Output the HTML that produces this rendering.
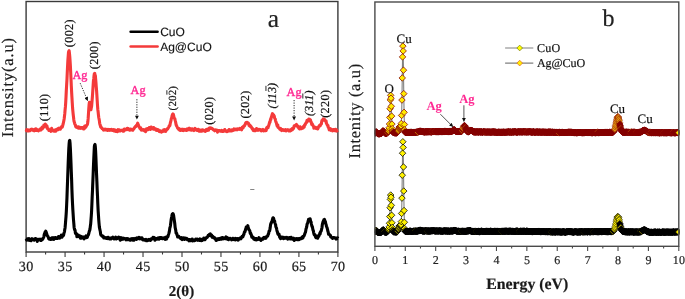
<!DOCTYPE html>
<html lang="en">
<head>
<meta charset="utf-8">
<title>XRD and EDS of CuO and Ag@CuO</title>
<style>
html,body{margin:0;padding:0;background:#ffffff;}
body{width:685px;height:299px;overflow:hidden;}
svg{display:block;will-change:transform;}
</style>
</head>
<body>
<svg width="685" height="299" viewBox="0 0 685 299" role="img" aria-label="XRD patterns and EDS spectra of CuO and Ag@CuO">
<style>text{text-rendering:geometricPrecision;stroke-width:0.2px;stroke-linejoin:round}.pk text{stroke-width:0.04px}.pk2 text{stroke-width:0.42px}.sans text{stroke-width:0.12px}</style>
<defs>
<path id="mk1" d="M0,-3.25 L3.25,0 L0,3.25 L-3.25,0 Z"/>
<marker id="ah" viewBox="0 0 10 10" refX="9" refY="5" markerWidth="5.8" markerHeight="3.9" markerUnits="userSpaceOnUse" orient="auto"><path d="M0,0 L10,5 L0,10 Z" fill="#111"/></marker>
<clipPath id="clipb"><rect x="374.9" y="2" width="304.4" height="244.3"/></clipPath>
</defs>
<g id="panel-a">
<rect x="26.1" y="1.5" width="311.8" height="250.5" fill="none" stroke="#3a3a3a" stroke-width="1.4"/>
<path d="M26.1,252 v5 M45.59,252 v2.4 M65.07,252 v5 M84.56,252 v2.4 M104.05,252 v5 M123.54,252 v2.4 M143.02,252 v5 M162.51,252 v2.4 M182,252 v5 M201.49,252 v2.4 M220.97,252 v5 M240.46,252 v2.4 M259.95,252 v5 M279.44,252 v2.4 M298.92,252 v5 M318.41,252 v2.4 M337.9,252 v5" stroke="#3a3a3a" stroke-width="1.1" fill="none"/>
<g font-family="'Liberation Serif','DejaVu Serif',serif" font-size="14.1" fill="#1a1a1a" stroke="#1a1a1a" text-anchor="middle" letter-spacing="0.4">
<text x="26.3" y="271.4">30</text>
<text x="65.27" y="271.4">35</text>
<text x="104.25" y="271.4">40</text>
<text x="143.22" y="271.4">45</text>
<text x="182.2" y="271.4">50</text>
<text x="221.17" y="271.4">55</text>
<text x="260.15" y="271.4">60</text>
<text x="299.12" y="271.4">65</text>
<text x="338.1" y="271.4">70</text>
</g>
<text x="181.5" y="296" font-family="'Liberation Serif','DejaVu Serif',serif" font-size="15" font-weight="bold" fill="#1a1a1a" stroke="#1a1a1a" text-anchor="middle">2(θ)</text>
<text transform="translate(13.4,87.2) rotate(-90)" font-family="'Liberation Serif','DejaVu Serif',serif" font-size="16.5" fill="#1a1a1a" stroke="#1a1a1a" text-anchor="middle" letter-spacing="0.85">Intensity(a.u)</text>
<polyline points="26.1,129.89 26.41,130.56 26.72,129.65 27.04,130.38 27.35,129.99 27.66,129.87 27.97,131.02 28.28,130.5 28.59,130.24 28.91,130.59 29.22,130.94 29.53,130.47 29.84,130.65 30.15,129.9 30.47,129.98 30.78,129.98 31.09,129.52 31.4,129.24 31.71,129.11 32.02,129.81 32.34,130.1 32.65,130.13 32.96,130.36 33.27,129.68 33.58,130.12 33.89,130.44 34.21,130.83 34.52,130.1 34.83,130.08 35.14,129.2 35.45,129.69 35.77,128.94 36.08,129.09 36.39,130.47 36.7,129.17 37.01,130.31 37.32,130.44 37.64,130.12 37.95,130.4 38.26,130.51 38.57,130.8 38.88,130.19 39.2,129.76 39.51,129.56 39.82,129.25 40.13,129.59 40.44,129.24 40.75,130.03 41.07,128.63 41.38,128.42 41.69,128.25 42,127.37 42.31,128.96 42.63,126.92 42.94,127.02 43.25,126.58 43.56,127.24 43.87,125.18 44.18,125.78 44.5,124.78 44.81,124.6 45.12,124.24 45.43,124.93 45.74,124.44 46.06,125.14 46.37,125.98 46.68,127.46 46.99,126.07 47.3,128.05 47.61,128.76 47.93,128.52 48.24,129.1 48.55,129.09 48.86,130.38 49.17,130.19 49.48,129.99 49.8,129.99 50.11,130.07 50.42,130.15 50.73,129.84 51.04,131.33 51.36,129.74 51.67,128.28 51.98,129.65 52.29,130.12 52.6,130.56 52.91,130.4 53.23,130.36 53.54,130.59 53.85,131 54.16,130.36 54.47,130.15 54.79,131.28 55.1,130.89 55.41,129.9 55.72,131.29 56.03,130.89 56.34,129.97 56.66,129.28 56.97,129.76 57.28,129.26 57.59,128.89 57.9,128.56 58.22,128.78 58.53,129.64 58.84,129.02 59.15,128.15 59.46,128.88 59.77,128.69 60.09,128.91 60.4,129.04 60.71,128.2 61.02,127.74 61.33,127.43 61.65,126.5 61.96,126.85 62.27,127.01 62.58,125.99 62.89,124.88 63.2,123.8 63.52,122.29 63.83,120.69 64.14,119.01 64.45,116.56 64.76,113.93 65.07,110.05 65.39,106.95 65.7,102.54 66.01,96.81 66.32,90.32 66.63,85.15 66.95,79.69 67.26,72.57 67.57,66.22 67.88,60.43 68.19,56.28 68.5,52.19 68.82,51.16 69.13,50.76 69.44,53.12 69.75,56.3 70.06,60.86 70.38,65.82 70.69,72.25 71,79 71.31,85.98 71.62,92.08 71.93,97.24 72.25,102.78 72.56,107.76 72.87,111.22 73.18,114.22 73.49,116.89 73.81,119.75 74.12,121.63 74.43,122.31 74.74,123.87 75.05,124.45 75.36,124.89 75.68,126.41 75.99,126.95 76.3,126.49 76.61,126.91 76.92,127.41 77.24,127.07 77.55,127.31 77.86,127.88 78.17,126.82 78.48,127.63 78.79,128.17 79.11,128.26 79.42,127.32 79.73,127.9 80.04,127.48 80.35,128.11 80.66,128.34 80.98,128.22 81.29,127.64 81.6,127.51 81.91,128.23 82.22,127.52 82.54,128 82.85,128.14 83.16,127.74 83.47,128.99 83.78,128.15 84.09,128.92 84.41,126.9 84.72,126.01 85.03,127.35 85.34,127.56 85.65,127.02 85.97,126.84 86.28,125.62 86.59,125.65 86.9,125.07 87.21,124.69 87.52,124.11 87.84,121.78 88.15,118.67 88.46,113.86 88.77,108.94 89.08,104.79 89.4,102.21 89.71,103.3 90.02,104.61 90.33,108.25 90.64,108.74 90.95,109.69 91.27,107.8 91.58,106.51 91.89,102.87 92.2,99.07 92.51,95.11 92.83,90.12 93.14,85.39 93.45,80.68 93.76,78.67 94.07,75.43 94.38,73.57 94.7,73.28 95.01,75.15 95.32,75.45 95.63,78.85 95.94,82.35 96.25,86.97 96.57,90.34 96.88,95.24 97.19,100.46 97.5,105.33 97.81,109.46 98.13,111.73 98.44,114.88 98.75,117.48 99.06,119.05 99.37,120.66 99.68,123.29 100,124.65 100.31,125.48 100.62,126.95 100.93,126.62 101.24,127.6 101.56,127.88 101.87,128.11 102.18,128.62 102.49,128.74 102.8,128.93 103.11,129.07 103.43,130.08 103.74,129.29 104.05,129.77 104.36,129.77 104.67,129.29 104.99,129.78 105.3,129.1 105.61,129.98 105.92,129.26 106.23,129.21 106.54,129.66 106.86,130.11 107.17,130.34 107.48,130.44 107.79,129.91 108.1,129.35 108.42,129.99 108.73,130.11 109.04,129.5 109.35,130.35 109.66,130.26 109.97,129.63 110.29,130.19 110.6,129.47 110.91,129.48 111.22,130.2 111.53,129.41 111.84,130.02 112.16,129.51 112.47,130.48 112.78,130.06 113.09,130.42 113.4,129.66 113.72,130.04 114.03,130.9 114.34,130.95 114.65,129.75 114.96,130.82 115.27,131.19 115.59,130.65 115.9,131.43 116.21,130.38 116.52,130.54 116.83,131.24 117.15,131.59 117.46,131.69 117.77,130.45 118.08,129.64 118.39,130.51 118.7,129.82 119.02,130.27 119.33,129.79 119.64,130.86 119.95,131.08 120.26,131 120.58,130.66 120.89,130.53 121.2,130.27 121.51,130.52 121.82,130.51 122.13,130.59 122.45,130.11 122.76,131.16 123.07,130.63 123.38,131.01 123.69,131.08 124.01,129.89 124.32,129.01 124.63,130.25 124.94,129.78 125.25,129.84 125.56,129.65 125.88,129.77 126.19,129.08 126.5,129.4 126.81,129.3 127.12,129.48 127.43,128.29 127.75,129.55 128.06,129.71 128.37,128.66 128.68,128.81 128.99,129.27 129.31,129.74 129.62,129.57 129.93,130.25 130.24,129.75 130.55,129.03 130.86,129 131.18,129.73 131.49,129.26 131.8,129.87 132.11,130.17 132.42,130.04 132.74,130.19 133.05,129.57 133.36,129.38 133.67,128.91 133.98,128.61 134.29,127.82 134.61,127.86 134.92,127.31 135.23,126.59 135.54,126.8 135.85,126.61 136.17,125.68 136.48,125.85 136.79,125.34 137.1,124.98 137.41,123.89 137.72,123.14 138.04,124.24 138.35,124.87 138.66,125.77 138.97,126.39 139.28,127.51 139.6,127.49 139.91,128.35 140.22,128.12 140.53,127.53 140.84,128.51 141.15,130.03 141.47,128.97 141.78,130.11 142.09,129.65 142.4,129.67 142.71,129.93 143.02,130.12 143.34,129.55 143.65,129.94 143.96,130.25 144.27,130.55 144.58,129.8 144.9,130.75 145.21,131.26 145.52,131.69 145.83,129.8 146.14,129.93 146.45,128.85 146.77,129.63 147.08,129.96 147.39,129.12 147.7,128.54 148.01,129.23 148.33,129.64 148.64,128.96 148.95,128.93 149.26,127.62 149.57,128.06 149.88,128.59 150.2,128.69 150.51,129.4 150.82,128.11 151.13,126.98 151.44,127.97 151.76,127.69 152.07,128.02 152.38,128.34 152.69,128.38 153,128.86 153.31,129.02 153.63,127.52 153.94,127.93 154.25,129.27 154.56,128.56 154.87,129.17 155.19,128.96 155.5,128.81 155.81,129.96 156.12,130.2 156.43,129.71 156.74,130.28 157.06,129.39 157.37,129.49 157.68,130.49 157.99,130.46 158.3,129.93 158.61,130.65 158.93,130.88 159.24,131.52 159.55,131.6 159.86,131 160.17,130.7 160.49,130.8 160.8,130.79 161.11,131.7 161.42,132.08 161.73,132.08 162.04,131.55 162.36,131.01 162.67,131.41 162.98,130.86 163.29,130.95 163.6,129.93 163.92,130.2 164.23,131.26 164.54,130.26 164.85,129.62 165.16,130.05 165.47,131.12 165.79,131.31 166.1,130.33 166.41,129.82 166.72,129.73 167.03,129.13 167.35,129.27 167.66,128.94 167.97,127.95 168.28,127.79 168.59,127.54 168.9,126.7 169.22,125.76 169.53,125.93 169.84,125.86 170.15,123.93 170.46,122.38 170.78,121.5 171.09,119.94 171.4,118.25 171.71,118.05 172.02,116 172.33,114.93 172.65,114.29 172.96,113.88 173.27,114.28 173.58,115.28 173.89,116.7 174.2,117.52 174.52,118.3 174.83,118.73 175.14,120.38 175.45,121.3 175.76,122.83 176.08,124.64 176.39,125.47 176.7,126.07 177.01,126.44 177.32,127.34 177.63,128.04 177.95,127.98 178.26,128.39 178.57,129.43 178.88,128.56 179.19,129.01 179.51,128.85 179.82,130.31 180.13,130.37 180.44,130.38 180.75,130.35 181.06,130.3 181.38,130.31 181.69,129.32 182,129.97 182.31,130.38 182.62,129.45 182.94,130.33 183.25,130.55 183.56,129.45 183.87,129.62 184.18,129.76 184.49,129.69 184.81,130.14 185.12,129.39 185.43,129.68 185.74,130 186.05,130.37 186.37,130.12 186.68,129.86 186.99,130.25 187.3,128.93 187.61,130.02 187.92,129.72 188.24,129.09 188.55,129.3 188.86,128.6 189.17,128.24 189.48,129.02 189.79,129.04 190.11,129.85 190.42,129.26 190.73,128.83 191.04,128.85 191.35,130.3 191.67,129.9 191.98,129.42 192.29,129.06 192.6,128.88 192.91,129.33 193.22,129.81 193.54,130.38 193.85,130.59 194.16,130.22 194.47,129.61 194.78,129.31 195.1,128.45 195.41,128.87 195.72,129.81 196.03,129.76 196.34,130.15 196.65,129.4 196.97,130.37 197.28,130.42 197.59,130.33 197.9,130.52 198.21,129.21 198.53,129.68 198.84,129.69 199.15,131.18 199.46,130.66 199.77,130.33 200.08,130.97 200.4,130.2 200.71,131.28 201.02,130.54 201.33,130.64 201.64,130.24 201.96,131.03 202.27,129.73 202.58,130.81 202.89,130.39 203.2,130.71 203.51,130.18 203.83,130.72 204.14,130.88 204.45,131.13 204.76,131.05 205.07,131.15 205.38,131.34 205.7,130.61 206.01,129.86 206.32,129.47 206.63,130.29 206.94,129.9 207.26,130.42 207.57,129.93 207.88,129.05 208.19,129.63 208.5,130.25 208.81,129.19 209.13,128.28 209.44,127.9 209.75,128.61 210.06,128.01 210.37,127.87 210.69,128.43 211,128.31 211.31,128.41 211.62,128.19 211.93,128.18 212.24,128.74 212.56,129.05 212.87,129.52 213.18,129.22 213.49,129.68 213.8,130.02 214.12,130.02 214.43,130.36 214.74,130.79 215.05,130.57 215.36,130.48 215.67,129.93 215.99,130.48 216.3,130.48 216.61,130.4 216.92,130.12 217.23,130.81 217.55,132.13 217.86,131.48 218.17,131.09 218.48,131.16 218.79,130.66 219.1,130.87 219.42,130.55 219.73,130.47 220.04,130.93 220.35,131.09 220.66,130.98 220.97,130.59 221.29,131.03 221.6,130.47 221.91,131.28 222.22,130.97 222.53,131.05 222.85,131.5 223.16,131.53 223.47,130.55 223.78,130.76 224.09,131.15 224.4,130.5 224.72,129.55 225.03,130.46 225.34,130.77 225.65,131.12 225.96,131.03 226.28,131 226.59,131.03 226.9,131.62 227.21,131.32 227.52,131.22 227.83,130.65 228.15,131.23 228.46,130.7 228.77,130.98 229.08,129.51 229.39,130.23 229.71,130.26 230.02,130.04 230.33,130.87 230.64,130.65 230.95,130.25 231.26,129.87 231.58,130.99 231.89,130.75 232.2,130.58 232.51,129.74 232.82,130.52 233.14,130.37 233.45,129.85 233.76,129.73 234.07,128.86 234.38,129.75 234.69,129.11 235.01,129.92 235.32,129.49 235.63,129.23 235.94,129.66 236.25,129.72 236.56,129.02 236.88,129.33 237.19,129.79 237.5,129.49 237.81,128.8 238.12,129.13 238.44,128.86 238.75,128.96 239.06,129.31 239.37,129.36 239.68,129.27 239.99,128.43 240.31,129.16 240.62,129.06 240.93,128.83 241.24,128.96 241.55,129.83 241.87,128.28 242.18,127.39 242.49,128.15 242.8,127.36 243.11,127.95 243.42,126.65 243.74,126.15 244.05,126.35 244.36,126.11 244.67,125.42 244.98,124.82 245.3,123.96 245.61,123.18 245.92,122.75 246.23,123.17 246.54,122.87 246.85,122.32 247.17,122.31 247.48,122.69 247.79,123.19 248.1,122.91 248.41,123.14 248.73,123.76 249.04,125.55 249.35,125.26 249.66,126.06 249.97,125.18 250.28,126.46 250.6,126.01 250.91,126.29 251.22,126.87 251.53,127.55 251.84,128.14 252.15,128.61 252.47,128.83 252.78,128.66 253.09,130.32 253.4,129.8 253.71,129.83 254.03,130.61 254.34,130.36 254.65,130.11 254.96,129.91 255.27,130.69 255.58,129.42 255.9,129.06 256.21,129.54 256.52,128.57 256.83,128.92 257.14,130.08 257.46,129.66 257.77,129.87 258.08,130.24 258.39,129.41 258.7,129.9 259.01,129.62 259.33,129.29 259.64,129.64 259.95,129.9 260.26,129.83 260.57,129.69 260.89,130.52 261.2,130.93 261.51,130.77 261.82,130.39 262.13,129.76 262.44,129.67 262.76,129.49 263.07,130.13 263.38,130.72 263.69,130.91 264,130.46 264.32,130.08 264.63,130.2 264.94,130.14 265.25,130.3 265.56,130.71 265.87,129.58 266.19,130.5 266.5,128.4 266.81,127.6 267.12,127.19 267.43,126.98 267.74,126.95 268.06,127.74 268.37,126.06 268.68,125.9 268.99,124.48 269.3,123.63 269.62,122.05 269.93,122.55 270.24,120.8 270.55,119.18 270.86,119.46 271.17,117.81 271.49,116.79 271.8,115.66 272.11,114.55 272.42,113.62 272.73,113.91 273.05,115.05 273.36,115.06 273.67,115.12 273.98,116.29 274.29,116.2 274.6,118.02 274.92,118.57 275.23,119 275.54,120.61 275.85,121.74 276.16,122.29 276.48,123.35 276.79,124.66 277.1,125.83 277.41,125.48 277.72,124.79 278.03,127.38 278.35,127.35 278.66,127.51 278.97,128.23 279.28,128.21 279.59,129.13 279.91,128.37 280.22,128.76 280.53,128.44 280.84,129.87 281.15,129.5 281.46,130.14 281.78,130.57 282.09,129.39 282.4,129.54 282.71,130.12 283.02,130 283.33,129.89 283.65,130.39 283.96,130.63 284.27,129.93 284.58,129.95 284.89,130.39 285.21,130.32 285.52,130.28 285.83,129.6 286.14,130.9 286.45,130.3 286.76,130.36 287.08,130.22 287.39,130.22 287.7,130.26 288.01,129.74 288.32,130.19 288.64,130.78 288.95,130.54 289.26,130.61 289.57,130.48 289.88,130.17 290.19,130.98 290.51,129.9 290.82,130.04 291.13,130.38 291.44,130.04 291.75,129.12 292.07,128.68 292.38,129.79 292.69,128.68 293,128.6 293.31,128.63 293.62,128.12 293.94,126.66 294.25,125.77 294.56,126.1 294.87,125.58 295.18,125.44 295.5,125.45 295.81,125.46 296.12,124.75 296.43,124.5 296.74,126.04 297.05,126.01 297.37,125.97 297.68,125.77 297.99,127.27 298.3,127.03 298.61,127.21 298.92,128.27 299.24,128.56 299.55,128.85 299.86,128 300.17,126.86 300.48,127.45 300.8,128 301.11,127.95 301.42,128.7 301.73,128.61 302.04,127.74 302.35,128.18 302.67,127.82 302.98,127.36 303.29,127.87 303.6,126.35 303.91,127.03 304.23,127.03 304.54,125.07 304.85,125.07 305.16,124.74 305.47,123.76 305.78,123.34 306.1,122.69 306.41,122.55 306.72,121.79 307.03,120.33 307.34,121.26 307.66,121.14 307.97,119.93 308.28,120.24 308.59,120.86 308.9,119.13 309.21,119.19 309.53,119.29 309.84,120.1 310.15,120.18 310.46,119.94 310.77,121.63 311.09,121.75 311.4,122.75 311.71,124.33 312.02,123.65 312.33,123.97 312.64,125.16 312.96,125.37 313.27,126.09 313.58,126.35 313.89,128.2 314.2,127.9 314.51,127.84 314.83,127.85 315.14,128.12 315.45,127.22 315.76,127.69 316.07,128.43 316.39,127.63 316.7,127.98 317.01,127.96 317.32,127.62 317.63,128.98 317.94,128.33 318.26,127.69 318.57,126.63 318.88,126.46 319.19,125.9 319.5,125.49 319.82,125.16 320.13,125.89 320.44,125.13 320.75,124.66 321.06,123.91 321.37,124.02 321.69,121.8 322,120.32 322.31,120.28 322.62,120.01 322.93,119.58 323.25,118.94 323.56,119.35 323.87,120.08 324.18,119.65 324.49,119.45 324.8,120.41 325.12,120.28 325.43,120.58 325.74,121.46 326.05,120.81 326.36,123.27 326.68,123.51 326.99,124.37 327.3,125 327.61,125.68 327.92,125.36 328.23,127.28 328.55,127.64 328.86,127.92 329.17,129.82 329.48,128.36 329.79,129.13 330.11,129.14 330.42,128.54 330.73,130.32 331.04,129.17 331.35,129.77 331.66,129.94 331.98,130.2 332.29,129.73 332.6,130.84 332.91,130.65 333.22,129.79 333.53,129.52 333.85,130.23 334.16,129.71 334.47,130.37 334.78,130.54 335.09,130.09 335.41,129.2 335.72,129.2 336.03,130.08 336.34,129.89 336.65,131.08 336.96,130.24 337.28,130.37 337.59,130.55 337.9,130.27" fill="none" stroke="#f43a3a" stroke-width="3.1" stroke-linejoin="round" stroke-linecap="butt"/>
<polyline points="26.1,238.91 26.41,239.52 26.72,240.05 27.04,239.42 27.35,238.75 27.66,239.18 27.97,239.61 28.28,240.09 28.59,239 28.91,238.57 29.22,239.49 29.53,239.68 29.84,240.31 30.15,240.23 30.47,239.62 30.78,239.31 31.09,240.73 31.4,239.7 31.71,239.07 32.02,238.67 32.34,239.2 32.65,239.42 32.96,239.24 33.27,239.34 33.58,239.57 33.89,239.89 34.21,240.23 34.52,239.89 34.83,238.71 35.14,239.65 35.45,238.86 35.77,239.27 36.08,238.73 36.39,239.35 36.7,239.16 37.01,239.58 37.32,241.42 37.64,240.27 37.95,240.36 38.26,239.24 38.57,239.41 38.88,239.98 39.2,239.78 39.51,239.95 39.82,239.86 40.13,239.22 40.44,239.83 40.75,239.28 41.07,240.49 41.38,239.59 41.69,239.84 42,239.45 42.31,239.66 42.63,238.66 42.94,238.84 43.25,237.86 43.56,237.7 43.87,236.61 44.18,235.2 44.5,233.41 44.81,232.88 45.12,231.99 45.43,232.07 45.74,231.16 46.06,231.83 46.37,232.73 46.68,233.68 46.99,234.69 47.3,235.66 47.61,236.09 47.93,236.4 48.24,237.11 48.55,238.06 48.86,238.99 49.17,239.09 49.48,239.18 49.8,239.08 50.11,238.99 50.42,238.67 50.73,238.85 51.04,239.43 51.36,238.49 51.67,237.94 51.98,239.15 52.29,238.63 52.6,238.81 52.91,238.8 53.23,237.7 53.54,239.2 53.85,239.36 54.16,238.53 54.47,238.53 54.79,238.17 55.1,237.49 55.41,237.64 55.72,237.93 56.03,238.41 56.34,238.33 56.66,237.94 56.97,238.47 57.28,237.49 57.59,237.95 57.9,238.25 58.22,237.57 58.53,236.48 58.84,236.54 59.15,237.12 59.46,237.42 59.77,238.01 60.09,236.78 60.4,236.81 60.71,237.08 61.02,236.64 61.33,235.19 61.65,236.25 61.96,237.27 62.27,236.74 62.58,235.3 62.89,234.79 63.2,234.61 63.52,235.32 63.83,233.99 64.14,232.51 64.45,231.79 64.76,229.39 65.07,227.97 65.39,224.05 65.7,220.22 66.01,216.39 66.32,211.69 66.63,205.29 66.95,197.94 67.26,188.84 67.57,180.52 67.88,171.83 68.19,163.17 68.5,155.63 68.82,148.37 69.13,143.72 69.44,140.75 69.75,140.43 70.06,143.28 70.38,148.6 70.69,155.83 71,163.34 71.31,171.94 71.62,180.06 71.93,189.87 72.25,198.1 72.56,204.4 72.87,210.14 73.18,214.82 73.49,219.74 73.81,223.49 74.12,227.45 74.43,229.03 74.74,229.98 75.05,230.15 75.36,232.83 75.68,233.55 75.99,233.18 76.3,234.3 76.61,233.96 76.92,236.77 77.24,236.65 77.55,236.47 77.86,236.15 78.17,235.1 78.48,235.93 78.79,235.55 79.11,236.67 79.42,235.68 79.73,236.07 80.04,237.42 80.35,238.18 80.66,236.99 80.98,236.43 81.29,237.58 81.6,238 81.91,237.2 82.22,237.09 82.54,237.08 82.85,236.82 83.16,237.01 83.47,238.1 83.78,238.17 84.09,238.91 84.41,237.99 84.72,237.61 85.03,236.97 85.34,237.15 85.65,236.5 85.97,235.94 86.28,236.98 86.59,237.62 86.9,237.38 87.21,237.4 87.52,236.63 87.84,235.6 88.15,235.37 88.46,234.66 88.77,233.53 89.08,232.2 89.4,231.03 89.71,230.37 90.02,228.88 90.33,226.33 90.64,224.34 90.95,220.37 91.27,216.08 91.58,211.25 91.89,204.25 92.2,196.48 92.51,190.11 92.83,181.74 93.14,174.47 93.45,166.2 93.76,159.01 94.07,152.63 94.38,146.43 94.7,144.91 95.01,144.5 95.32,146.78 95.63,151.53 95.94,158.55 96.25,166.33 96.57,174.56 96.88,181.39 97.19,189.47 97.5,196.03 97.81,203.73 98.13,210.45 98.44,215.16 98.75,219.92 99.06,223.67 99.37,227.07 99.68,228.59 100,230.15 100.31,231.53 100.62,233.98 100.93,234.96 101.24,235.03 101.56,235.55 101.87,235.92 102.18,236.31 102.49,236.4 102.8,236.51 103.11,236.19 103.43,236.53 103.74,237.98 104.05,237.99 104.36,237.82 104.67,237.69 104.99,237.86 105.3,238.13 105.61,237.74 105.92,238.11 106.23,238.3 106.54,237.87 106.86,237.73 107.17,237.59 107.48,237.53 107.79,238.57 108.1,237.2 108.42,237.85 108.73,237.9 109.04,237.92 109.35,238.31 109.66,238.99 109.97,238.66 110.29,238.42 110.6,238.08 110.91,238.21 111.22,238.8 111.53,238.29 111.84,237.7 112.16,237.42 112.47,237.39 112.78,237.22 113.09,238.48 113.4,238.51 113.72,238.19 114.03,238.98 114.34,238.11 114.65,238.55 114.96,238.71 115.27,237.51 115.59,237.08 115.9,237.27 116.21,238.32 116.52,238.9 116.83,237.75 117.15,238.58 117.46,238.11 117.77,237.95 118.08,237.82 118.39,237.91 118.7,237.16 119.02,237.35 119.33,237.31 119.64,238.25 119.95,239.45 120.26,240.25 120.58,238.9 120.89,237.72 121.2,238.04 121.51,237.89 121.82,239.44 122.13,239.25 122.45,238.52 122.76,239.18 123.07,239.23 123.38,238.12 123.69,238.34 124.01,238.61 124.32,238.87 124.63,239.04 124.94,238.88 125.25,239.13 125.56,238.82 125.88,238.63 126.19,239.85 126.5,239.68 126.81,239.68 127.12,238.6 127.43,239 127.75,239.68 128.06,238.8 128.37,239.77 128.68,239.32 128.99,239.59 129.31,239.4 129.62,239.52 129.93,240.09 130.24,239.43 130.55,240.25 130.86,239.27 131.18,238.84 131.49,239.56 131.8,238.85 132.11,238.97 132.42,239.68 132.74,240.08 133.05,238.61 133.36,239.3 133.67,240.27 133.98,240.22 134.29,239.42 134.61,238.93 134.92,238.89 135.23,238.39 135.54,238.66 135.85,238.76 136.17,238.77 136.48,239.43 136.79,238.84 137.1,237.9 137.41,238.84 137.72,237.94 138.04,237.88 138.35,237.94 138.66,237.77 138.97,237.3 139.28,237.5 139.6,238.86 139.91,237.85 140.22,237.8 140.53,238.54 140.84,238.69 141.15,238.86 141.47,239.09 141.78,237.77 142.09,238.02 142.4,238.74 142.71,239.29 143.02,240 143.34,239.88 143.65,239.53 143.96,239.62 144.27,239.56 144.58,239.83 144.9,240.19 145.21,239.8 145.52,239.44 145.83,239.31 146.14,240.33 146.45,240.8 146.77,240.82 147.08,240.76 147.39,240.74 147.7,240.28 148.01,240.47 148.33,239.61 148.64,239.75 148.95,239.49 149.26,240.15 149.57,239.64 149.88,239.67 150.2,239.89 150.51,240.41 150.82,239.36 151.13,238.81 151.44,239.46 151.76,238.54 152.07,238.93 152.38,238.4 152.69,238.35 153,237.36 153.31,238.27 153.63,237.87 153.94,237.49 154.25,238.94 154.56,238.75 154.87,240.22 155.19,239.13 155.5,238.4 155.81,238.45 156.12,239.33 156.43,238.81 156.74,238.93 157.06,239.04 157.37,238.34 157.68,238.67 157.99,238.46 158.3,237.99 158.61,238.96 158.93,239.18 159.24,238.93 159.55,238.31 159.86,237.49 160.17,238.53 160.49,238.56 160.8,237.72 161.11,238.28 161.42,237.68 161.73,238.26 162.04,238.54 162.36,238.74 162.67,238.73 162.98,238.68 163.29,237.95 163.6,238.09 163.92,238.05 164.23,238.16 164.54,238.45 164.85,238.7 165.16,239.3 165.47,237.21 165.79,238.01 166.1,237.89 166.41,239.07 166.72,238.62 167.03,236.9 167.35,237.16 167.66,236.45 167.97,236.61 168.28,235.06 168.59,234.41 168.9,233.4 169.22,232.15 169.53,230.39 169.84,227.89 170.15,226.92 170.46,225.45 170.78,222.9 171.09,220.05 171.4,218.35 171.71,216.8 172.02,215 172.33,214 172.65,214.39 172.96,213.61 173.27,214.48 173.58,215.21 173.89,217.45 174.2,219.65 174.52,221.75 174.83,224.03 175.14,227.47 175.45,228.79 175.76,230.34 176.08,233.01 176.39,233.47 176.7,233.35 177.01,234.94 177.32,235.16 177.63,236.92 177.95,236.22 178.26,236.51 178.57,236.2 178.88,237.11 179.19,236.92 179.51,237.43 179.82,237.5 180.13,237.46 180.44,238.32 180.75,238.67 181.06,238.36 181.38,237.78 181.69,237.52 182,238.19 182.31,239.61 182.62,238.61 182.94,238.13 183.25,238.05 183.56,237.85 183.87,237.88 184.18,238.35 184.49,239.43 184.81,239.08 185.12,238.73 185.43,238.06 185.74,238.84 186.05,239.03 186.37,238.49 186.68,238.42 186.99,238.99 187.3,239.79 187.61,239.9 187.92,239.75 188.24,239.45 188.55,239.72 188.86,239.67 189.17,240.85 189.48,239.52 189.79,239.48 190.11,240.37 190.42,239.88 190.73,240.63 191.04,240.12 191.35,240.06 191.67,239.77 191.98,239.14 192.29,239.14 192.6,240.86 192.91,240.62 193.22,240.51 193.54,240.66 193.85,240.48 194.16,240.66 194.47,240.03 194.78,239.82 195.1,240.38 195.41,239.85 195.72,239.12 196.03,239.45 196.34,239.37 196.65,239.95 196.97,239.42 197.28,239.03 197.59,239.27 197.9,240.35 198.21,239.85 198.53,239.77 198.84,239.64 199.15,239.73 199.46,240.08 199.77,240.44 200.08,238.92 200.4,239.99 200.71,239.61 201.02,239.3 201.33,240.63 201.64,239.71 201.96,240.51 202.27,240.25 202.58,239.07 202.89,239.46 203.2,239.71 203.51,239.31 203.83,237.96 204.14,238.52 204.45,238.75 204.76,238.28 205.07,239.62 205.38,238.89 205.7,238.44 206.01,238.2 206.32,237.7 206.63,237.35 206.94,237.49 207.26,237.43 207.57,236.73 207.88,236.45 208.19,235.39 208.5,235.79 208.81,235.01 209.13,235.04 209.44,234.29 209.75,234.14 210.06,234.44 210.37,233.83 210.69,235.7 211,235.18 211.31,235.2 211.62,235.09 211.93,236.57 212.24,237.24 212.56,237.15 212.87,236.47 213.18,236.92 213.49,237.87 213.8,237.78 214.12,237.53 214.43,237.56 214.74,237.9 215.05,238.51 215.36,238.42 215.67,238.79 215.99,240.43 216.3,240.47 216.61,238.98 216.92,239.19 217.23,239.12 217.55,238.96 217.86,239.52 218.17,238.95 218.48,238.74 218.79,238.62 219.1,238.7 219.42,239.45 219.73,239.41 220.04,238.24 220.35,238.29 220.66,238.1 220.97,238.88 221.29,238.82 221.6,239.14 221.91,238.73 222.22,237.58 222.53,238.43 222.85,238.6 223.16,238.81 223.47,237.9 223.78,238.33 224.09,238.06 224.4,237.97 224.72,238.5 225.03,238.7 225.34,238.1 225.65,237.47 225.96,236.85 226.28,237.66 226.59,238.87 226.9,238.68 227.21,237.45 227.52,237.78 227.83,238.61 228.15,239.59 228.46,239.68 228.77,239.3 229.08,239.1 229.39,238.38 229.71,238.47 230.02,238.57 230.33,238.4 230.64,238.8 230.95,238.74 231.26,239.11 231.58,239.85 231.89,239.75 232.2,239.55 232.51,239.14 232.82,238.32 233.14,238.79 233.45,239.32 233.76,238.67 234.07,239.66 234.38,239.15 234.69,239.35 235.01,239.04 235.32,238.42 235.63,239.98 235.94,238.78 236.25,239.46 236.56,238.9 236.88,239.12 237.19,238.6 237.5,238.6 237.81,239.29 238.12,240.05 238.44,238.78 238.75,238.76 239.06,239.21 239.37,238.46 239.68,238.86 239.99,238.12 240.31,238.52 240.62,238.47 240.93,238.74 241.24,238.24 241.55,237.05 241.87,237.43 242.18,236.37 242.49,236.72 242.8,236.93 243.11,236.15 243.42,234.85 243.74,234.89 244.05,233.87 244.36,232.24 244.67,231.61 244.98,231.79 245.3,230.38 245.61,229.58 245.92,228.56 246.23,227.05 246.54,226.81 246.85,226.95 247.17,226.81 247.48,226.58 247.79,225.61 248.1,227.36 248.41,228.09 248.73,228.99 249.04,229.99 249.35,229.98 249.66,230.47 249.97,231.72 250.28,233.46 250.6,232.82 250.91,233.88 251.22,234.46 251.53,235.77 251.84,237.09 252.15,236.95 252.47,236.68 252.78,237.52 253.09,237.85 253.4,237.46 253.71,238.77 254.03,238.59 254.34,239.27 254.65,238.52 254.96,239.6 255.27,238.67 255.58,239.71 255.9,238.57 256.21,239.89 256.52,239.43 256.83,238.63 257.14,239.06 257.46,239.51 257.77,238.94 258.08,239 258.39,239.41 258.7,239.29 259.01,237.68 259.33,238.5 259.64,239.21 259.95,239.36 260.26,239.76 260.57,238.96 260.89,240.37 261.2,239.89 261.51,239.42 261.82,239.62 262.13,239.58 262.44,239.06 262.76,238.44 263.07,239.05 263.38,238.89 263.69,237.53 264,237.41 264.32,238.14 264.63,238.11 264.94,238.1 265.25,238.18 265.56,237.81 265.87,238.3 266.19,237.13 266.5,236.61 266.81,236.57 267.12,236.49 267.43,236.14 267.74,236 268.06,234.45 268.37,234.28 268.68,233.27 268.99,231.47 269.3,230.63 269.62,230.78 269.93,229.34 270.24,227.33 270.55,224.75 270.86,223.88 271.17,222.77 271.49,222.02 271.8,222.26 272.11,220.92 272.42,219.77 272.73,218.43 273.05,217.74 273.36,218.13 273.67,218.42 273.98,220.86 274.29,220.49 274.6,220.97 274.92,222.87 275.23,223.81 275.54,224.3 275.85,226.68 276.16,227.49 276.48,228.03 276.79,229.85 277.1,231.26 277.41,231.94 277.72,233.3 278.03,234.33 278.35,234.22 278.66,233.92 278.97,233.95 279.28,235.44 279.59,236.91 279.91,237.49 280.22,238.04 280.53,238.6 280.84,237.91 281.15,238.29 281.46,237.1 281.78,237.92 282.09,238.08 282.4,237.9 282.71,237.67 283.02,237.24 283.33,237.78 283.65,238.58 283.96,237.99 284.27,238.27 284.58,237.74 284.89,238.05 285.21,237.49 285.52,238.04 285.83,237.92 286.14,238.18 286.45,237.78 286.76,237.35 287.08,237.67 287.39,238.52 287.7,239.13 288.01,238.34 288.32,238.68 288.64,238.8 288.95,238.67 289.26,237.61 289.57,238.26 289.88,237.83 290.19,238.85 290.51,239.03 290.82,239.03 291.13,237.37 291.44,238.51 291.75,238.98 292.07,238.11 292.38,239.04 292.69,238.92 293,238.77 293.31,238.46 293.62,238.21 293.94,238.46 294.25,240.46 294.56,239.64 294.87,239.38 295.18,238.84 295.5,238.69 295.81,238.69 296.12,238.52 296.43,239.41 296.74,239.12 297.05,239.63 297.37,238.72 297.68,239.52 297.99,239.28 298.3,239.55 298.61,239.22 298.92,238.66 299.24,239.56 299.55,238.96 299.86,238.87 300.17,238.39 300.48,238.75 300.8,238.49 301.11,238.67 301.42,238.67 301.73,237.99 302.04,237.22 302.35,237.77 302.67,238.02 302.98,237.74 303.29,236.37 303.6,236.49 303.91,236.03 304.23,235.37 304.54,234.71 304.85,233.51 305.16,232.75 305.47,232.18 305.78,230.46 306.1,228.57 306.41,227.8 306.72,226.84 307.03,224.55 307.34,223.54 307.66,223.07 307.97,221.78 308.28,220.84 308.59,219.3 308.9,219.59 309.21,220.01 309.53,219.15 309.84,218.81 310.15,218.88 310.46,220.56 310.77,221.41 311.09,221.99 311.4,224.09 311.71,225.42 312.02,226.65 312.33,226.65 312.64,228.33 312.96,230.06 313.27,230.37 313.58,232.27 313.89,233.78 314.2,234.6 314.51,234.39 314.83,234.7 315.14,236.01 315.45,236.76 315.76,237.35 316.07,237.69 316.39,237.22 316.7,236.95 317.01,236.09 317.32,237.17 317.63,238.27 317.94,237.05 318.26,236.43 318.57,236.57 318.88,236.16 319.19,234.71 319.5,234.11 319.82,233.18 320.13,233.95 320.44,232.09 320.75,231.56 321.06,231.18 321.37,230.21 321.69,228.77 322,227.52 322.31,224.7 322.62,223.41 322.93,222.03 323.25,221.18 323.56,221.99 323.87,219.7 324.18,220.03 324.49,219.31 324.8,220.77 325.12,221.76 325.43,221.76 325.74,223.87 326.05,224.33 326.36,225.97 326.68,226.83 326.99,227.48 327.3,228.57 327.61,229.83 327.92,231.33 328.23,232.2 328.55,234.25 328.86,234.07 329.17,234.28 329.48,234.58 329.79,234.96 330.11,234.99 330.42,235.46 330.73,236.82 331.04,237 331.35,237.06 331.66,237.47 331.98,238.08 332.29,238.13 332.6,238.31 332.91,237.71 333.22,237.72 333.53,237.5 333.85,237.83 334.16,237.61 334.47,237.81 334.78,238.03 335.09,238.12 335.41,238.17 335.72,238.1 336.03,239.08 336.34,238.57 336.65,238.07 336.96,238.57 337.28,238.09 337.59,237.96 337.9,238.56" fill="none" stroke="#000" stroke-width="3.1" stroke-linejoin="round" stroke-linecap="butt"/>
<path d="M130.6,31.8 H157.6" stroke="#000" stroke-width="2.5" stroke-linecap="round"/>
<path d="M130.6,46.4 H157.6" stroke="#f43a3a" stroke-width="2.5" stroke-linecap="round"/>
<g class="sans" font-family="'Liberation Sans','DejaVu Sans',sans-serif" font-size="12" fill="#111" stroke="#111">
<text x="160.2" y="36">CuO</text>
<text x="160.2" y="50.8">Ag@CuO</text>
</g>
<text x="267.8" y="26.7" font-family="'Liberation Serif','DejaVu Serif',serif" font-size="25.5" fill="#222" stroke="#222">a</text>
<g transform="translate(47.7,121.2) rotate(-90)">
<text x="0" y="0" font-family="'Liberation Serif','DejaVu Serif',serif" font-size="12.2" fill="#111" stroke="#111" letter-spacing="0.35">(110)</text>
</g>
<g transform="translate(72.7,47.2) rotate(-90)">
<text x="0" y="0" font-family="'Liberation Serif','DejaVu Serif',serif" font-size="12.2" fill="#111" stroke="#111" letter-spacing="0.35">(002)</text>
</g>
<g transform="translate(97.7,69.2) rotate(-90)">
<text x="0" y="0" font-family="'Liberation Serif','DejaVu Serif',serif" font-size="12.2" fill="#111" stroke="#111" letter-spacing="0.35">(200)</text>
</g>
<g transform="translate(175.6,110.4) rotate(-90)">
<text x="0" y="0" font-family="'Liberation Serif','DejaVu Serif',serif" font-size="10.9" fill="#111" stroke="#111" letter-spacing="0.2">(202)</text>
<path d="M15.73,-8.72 h4.45" stroke="#111" stroke-width="0.9"/>
</g>
<g transform="translate(213,124.7) rotate(-90)">
<text x="0" y="0" font-family="'Liberation Serif','DejaVu Serif',serif" font-size="12.2" fill="#111" stroke="#111" letter-spacing="0.35">(020)</text>
</g>
<g transform="translate(248.9,118.6) rotate(-90)">
<text x="0" y="0" font-family="'Liberation Serif','DejaVu Serif',serif" font-size="12.2" fill="#111" stroke="#111" letter-spacing="0.35">(202)</text>
</g>
<g transform="translate(275.7,108.4) rotate(-90)">
<text x="0" y="0" font-family="'Liberation Serif','DejaVu Serif',serif" font-size="12.2" font-style="italic" fill="#111" stroke="#111" letter-spacing="0">(113)</text>
<path d="M17.46,-9.76 h5.1" stroke="#111" stroke-width="0.9"/>
</g>
<g transform="translate(312.6,116) rotate(-90)">
<text x="0" y="0" font-family="'Liberation Serif','DejaVu Serif',serif" font-size="12.2" font-style="italic" fill="#111" stroke="#111" letter-spacing="0">(311)</text>
<path d="M17.46,-9.76 h5.1" stroke="#111" stroke-width="0.9"/>
</g>
<g transform="translate(328.6,117.8) rotate(-90)">
<text x="0" y="0" font-family="'Liberation Serif','DejaVu Serif',serif" font-size="12.2" fill="#111" stroke="#111" letter-spacing="0.35">(220)</text>
</g>
<g class="pk2" font-family="'Liberation Serif','DejaVu Serif',serif" font-size="12.2" fill="#ff2a93" stroke="#ff2a93">
<text x="72.4" y="79.2">Ag</text>
<text x="130.6" y="93.8">Ag</text>
<text x="286.6" y="96.0">Ag</text>
</g>
<g stroke="#111" stroke-width="0.9" fill="none" stroke-dasharray="1.2,1.3">
<path d="M80.2,83.2 L87.6,100.6" marker-end="url(#ah)"/>
<path d="M136.9,99.2 L136.9,119.2" marker-end="url(#ah)"/>
<path d="M294.1,100 L294.1,120" marker-end="url(#ah)"/>
</g>
<path d="M250.2,189.5 H254.4" stroke="#666" stroke-width="0.8"/>
</g>
<g id="panel-b">
<path d="M374.9,246.3 v4.6 M390.09,246.3 v2.2 M405.29,246.3 v4.6 M420.48,246.3 v2.2 M435.68,246.3 v4.6 M450.88,246.3 v2.2 M466.07,246.3 v4.6 M481.26,246.3 v2.2 M496.46,246.3 v4.6 M511.65,246.3 v2.2 M526.85,246.3 v4.6 M542.04,246.3 v2.2 M557.24,246.3 v4.6 M572.43,246.3 v2.2 M587.63,246.3 v4.6 M602.83,246.3 v2.2 M618.02,246.3 v4.6 M633.21,246.3 v2.2 M648.41,246.3 v4.6 M663.61,246.3 v2.2 M678.8,246.3 v4.6" stroke="#4a4a4a" stroke-width="1.1" fill="none"/>
<g font-family="'Liberation Serif','DejaVu Serif',serif" font-size="12" fill="#222" stroke="#222" text-anchor="middle" letter-spacing="0.3">
<text x="375.1" y="264.4">0</text>
<text x="405.49" y="264.4">1</text>
<text x="435.88" y="264.4">2</text>
<text x="466.27" y="264.4">3</text>
<text x="496.66" y="264.4">4</text>
<text x="527.05" y="264.4">5</text>
<text x="557.44" y="264.4">6</text>
<text x="587.83" y="264.4">7</text>
<text x="618.22" y="264.4">8</text>
<text x="648.61" y="264.4">9</text>
<text x="679" y="264.4">10</text>
</g>
<text x="527.2" y="288.6" font-family="'Liberation Serif','DejaVu Serif',serif" font-size="15.8" font-weight="bold" fill="#1a1a1a" stroke="#1a1a1a" text-anchor="middle">Energy (eV)</text>
<text transform="translate(359.9,110.8) rotate(-90)" font-family="'Liberation Serif','DejaVu Serif',serif" font-size="16.4" fill="#1a1a1a" stroke="#1a1a1a" text-anchor="middle" letter-spacing="0.7">Intenity (a.u)</text>
<g clip-path="url(#clipb)">
<polyline points="374.9,231.78 375.2,231.37 375.51,231.29 375.81,230.45 376.12,230.71 376.42,230.42 376.72,231.3 377.03,231.51 377.33,232.09 377.64,232.06 377.94,232.44 378.24,232.43 378.55,232.41 378.85,232.59 379.15,232.33 379.46,232.49 379.76,232.66 380.07,232.52 380.37,232.4 380.67,232.81 380.98,232.31 381.28,232 381.59,231.82 381.89,231.27 382.19,230.77 382.5,230.25 382.8,230.29 383.11,229.77 383.41,229.93 383.71,230.38 384.02,231.11 384.32,231.2 384.62,231.54 384.93,232.38 385.23,231.83 385.54,232.1 385.84,232.31 386.14,232.57 386.45,231.94 386.75,231.57 387.06,231.98 387.36,231.54 387.66,231.25 387.97,230.98 388.27,230.39 388.58,229.69 388.88,228.49 389.18,226.89 389.49,223.25 389.79,216.61 390.09,207.75 390.4,199.39 390.7,195.03 391.01,197.22 391.31,205.34 391.61,215.23 391.92,222.78 392.22,227.46 392.53,229.89 392.83,230.88 393.13,231.35 393.44,231.23 393.74,232.03 394.05,231.82 394.35,231.67 394.65,232.02 394.96,231.9 395.26,231.84 395.57,232.01 395.87,232.21 396.17,231.87 396.48,232.01 396.78,232.02 397.08,231.3 397.39,231.15 397.69,231.01 398,230.02 398.3,229.57 398.6,228.97 398.91,227.95 399.21,226.89 399.52,225.6 399.82,225.79 400.12,225.24 400.43,225.38 400.73,225.52 401.04,224.59 401.34,221.64 401.64,213.44 401.95,198.12 402.25,175.19 402.55,153.22 402.86,141.75 403.16,147.39 403.47,166.98 403.77,191.05 404.07,210.55 404.38,222.27 404.68,228.56 404.99,230.7 405.29,231.5 405.59,231.41 405.9,231.33 406.2,231.51 406.51,231.15 406.81,231.23 407.11,231.23 407.42,231.45 407.72,231.77 408.03,231.52 408.33,231.58 408.63,231.4 408.94,231.4 409.24,231.26 409.54,231.28 409.85,230.89 410.15,231.1 410.46,231.07 410.76,231.45 411.06,231.41 411.37,231.48 411.67,231.55 411.98,231.21 412.28,231.44 412.58,231.6 412.89,231.23 413.19,231.42 413.5,231.19 413.8,230.92 414.1,231.22 414.41,231.05 414.71,231.21 415.01,231.1 415.32,231.23 415.62,230.78 415.93,231.53 416.23,231.39 416.53,231.07 416.84,230.96 417.14,231.1 417.45,231.19 417.75,231.1 418.05,231.03 418.36,230.52 418.66,230.57 418.97,230.91 419.27,230.6 419.57,230.19 419.88,230.24 420.18,230.11 420.48,230.2 420.79,230.65 421.09,230.49 421.4,230.83 421.7,230.76 422,230.54 422.31,230.77 422.61,231.35 422.92,230.83 423.22,230.8 423.52,231.23 423.83,231.02 424.13,231.01 424.44,231.27 424.74,230.68 425.04,231.08 425.35,230.8 425.65,230.74 425.96,230.84 426.26,231.2 426.56,230.96 426.87,230.65 427.17,230.78 427.47,231.26 427.78,231.16 428.08,230.77 428.39,231.42 428.69,230.9 428.99,230.75 429.3,230.94 429.6,231.14 429.91,231.26 430.21,231.15 430.51,230.88 430.82,230.86 431.12,230.69 431.43,230.95 431.73,230.85 432.03,231 432.34,230.73 432.64,230.86 432.94,230.8 433.25,230.74 433.55,230.74 433.86,230.77 434.16,230.74 434.46,231.07 434.77,230.98 435.07,230.72 435.38,231.06 435.68,231.02 435.98,231.24 436.29,230.93 436.59,230.93 436.9,230.84 437.2,231 437.5,231.07 437.81,231.01 438.11,230.93 438.42,231.08 438.72,231 439.02,231.03 439.33,230.82 439.63,231.03 439.93,230.81 440.24,230.84 440.54,231.03 440.85,231.39 441.15,231.19 441.45,231.01 441.76,230.98 442.06,231.2 442.37,231.27 442.67,231.25 442.97,230.99 443.28,231.06 443.58,230.97 443.89,230.98 444.19,230.88 444.49,231 444.8,230.65 445.1,230.83 445.4,231.13 445.71,230.89 446.01,231.16 446.32,230.83 446.62,231 446.92,231.15 447.23,230.89 447.53,230.95 447.84,231.54 448.14,230.97 448.44,230.97 448.75,231 449.05,231.11 449.36,231.11 449.66,231.3 449.96,231.27 450.27,231.05 450.57,231.06 450.88,230.86 451.18,230.84 451.48,230.97 451.79,231.21 452.09,231.05 452.39,231.11 452.7,231.04 453,230.72 453.31,231.01 453.61,230.4 453.91,230.27 454.22,230.23 454.52,230.5 454.83,230.3 455.13,230.27 455.43,230.6 455.74,230.87 456.04,230.78 456.35,230.88 456.65,231.23 456.95,231.29 457.26,231.33 457.56,231.05 457.86,231.27 458.17,231.3 458.47,230.91 458.78,231.47 459.08,231.27 459.38,231.2 459.69,231.68 459.99,231.29 460.3,231.14 460.6,231.26 460.9,231.38 461.21,231.43 461.51,231.28 461.82,231.13 462.12,231.17 462.42,231.15 462.73,231.11 463.03,231.3 463.33,231.22 463.64,231.32 463.94,231.16 464.25,231.15 464.55,231.28 464.85,231.25 465.16,231.52 465.46,231.13 465.77,231.32 466.07,231.24 466.37,230.98 466.68,231.3 466.98,231.15 467.29,230.66 467.59,231.09 467.89,231.08 468.2,230.7 468.5,231.11 468.81,230.79 469.11,230.54 469.41,230.87 469.72,230.74 470.02,230.61 470.32,230.53 470.63,231.04 470.93,230.93 471.24,231.25 471.54,231.27 471.84,231.15 472.15,231.18 472.45,231.63 472.76,231.64 473.06,231.48 473.36,231.29 473.67,231.18 473.97,231.29 474.28,231.67 474.58,231.45 474.88,231.31 475.19,231.14 475.49,231.39 475.79,231.2 476.1,231.36 476.4,231.5 476.71,231.55 477.01,231.38 477.31,231.29 477.62,231.4 477.92,231.68 478.23,231.42 478.53,231.09 478.83,231.63 479.14,231.39 479.44,231.98 479.75,231.26 480.05,231.32 480.35,231.28 480.66,231.4 480.96,231.23 481.26,231.06 481.57,230.98 481.87,231.31 482.18,231.24 482.48,231.23 482.78,231.73 483.09,231.48 483.39,231.54 483.7,231.25 484,231.4 484.3,231.3 484.61,231.31 484.91,231.48 485.22,231.46 485.52,231.4 485.82,231.37 486.13,231.08 486.43,231.21 486.74,231.42 487.04,231.28 487.34,231.2 487.65,231.41 487.95,231.18 488.25,231.22 488.56,231.51 488.86,231.28 489.17,231.6 489.47,231.44 489.77,231.49 490.08,231.55 490.38,230.94 490.69,231.32 490.99,231.1 491.29,231.25 491.6,231.32 491.9,231.56 492.21,231.32 492.51,231.63 492.81,231.23 493.12,231.32 493.42,231.34 493.72,231.5 494.03,231.31 494.33,231.21 494.64,231.26 494.94,231.06 495.24,231.55 495.55,231.45 495.85,231.39 496.16,231.36 496.46,231.2 496.76,231.23 497.07,231.45 497.37,231.16 497.68,231.16 497.98,231.59 498.28,231.58 498.59,231.35 498.89,231.39 499.2,231.33 499.5,231.55 499.8,231.21 500.11,231.3 500.41,231.37 500.71,231.55 501.02,231.24 501.32,231.32 501.63,231.19 501.93,231.16 502.23,231.16 502.54,231.29 502.84,231.43 503.15,231.14 503.45,231.16 503.75,231.19 504.06,231.33 504.36,231.39 504.67,231.03 504.97,231.32 505.27,231.08 505.58,231.39 505.88,231.08 506.18,231.06 506.49,231.12 506.79,231.24 507.1,231.07 507.4,231.29 507.7,231.28 508.01,231.26 508.31,231.3 508.62,231.41 508.92,231.11 509.22,231.25 509.53,231.24 509.83,230.87 510.14,231.31 510.44,231.1 510.74,231.11 511.05,231.16 511.35,231.26 511.65,231.3 511.96,231.33 512.26,231.12 512.57,231.37 512.87,231.32 513.17,231.17 513.48,231.24 513.78,231.39 514.09,231.32 514.39,231.37 514.69,231.27 515,231.45 515.3,231.65 515.61,231.33 515.91,230.96 516.21,231.56 516.52,231.15 516.82,231.01 517.13,230.83 517.43,231.33 517.73,231.46 518.04,231.44 518.34,231.19 518.64,231.53 518.95,231.25 519.25,231.16 519.56,231.28 519.86,231.31 520.16,231.29 520.47,231.35 520.77,230.89 521.08,231.57 521.38,231.19 521.68,231.41 521.99,231.15 522.29,231.33 522.6,231.27 522.9,231.02 523.2,231.38 523.51,231.43 523.81,231.11 524.11,230.94 524.42,231.21 524.72,231.18 525.03,231.35 525.33,231.33 525.63,231.63 525.94,231.46 526.24,231.3 526.55,231.38 526.85,230.84 527.15,231.2 527.46,231.2 527.76,231.35 528.07,231.43 528.37,231.42 528.67,231.55 528.98,231.27 529.28,231.45 529.59,231.38 529.89,231.41 530.19,231.47 530.5,231.37 530.8,231.46 531.1,231.42 531.41,231.62 531.71,231.42 532.02,231.5 532.32,231.92 532.62,231.57 532.93,231.56 533.23,231.67 533.54,231.3 533.84,231.61 534.14,231.63 534.45,231.58 534.75,231.68 535.06,231.65 535.36,231.73 535.66,231.41 535.97,231.61 536.27,231.44 536.57,231.77 536.88,231.57 537.18,231.32 537.49,231.58 537.79,231.39 538.09,231.75 538.4,231.52 538.7,231.2 539.01,231.53 539.31,231.79 539.61,231.67 539.92,231.5 540.22,231.74 540.53,231.73 540.83,231.9 541.13,231.81 541.44,231.72 541.74,231.52 542.04,231.72 542.35,231.73 542.65,231.68 542.96,231.76 543.26,231.48 543.56,231.8 543.87,231.71 544.17,231.78 544.48,231.7 544.78,231.67 545.08,231.78 545.39,231.88 545.69,231.69 546,231.81 546.3,231.62 546.6,231.84 546.91,231.78 547.21,231.55 547.52,231.99 547.82,231.63 548.12,231.81 548.43,231.57 548.73,231.5 549.03,231.94 549.34,231.57 549.64,231.46 549.95,231.8 550.25,231.56 550.55,231.81 550.86,232.18 551.16,231.79 551.47,231.93 551.77,231.97 552.07,231.92 552.38,231.86 552.68,232.16 552.99,231.88 553.29,231.96 553.59,231.92 553.9,231.68 554.2,231.97 554.5,231.93 554.81,232.04 555.11,232.05 555.42,232.21 555.72,231.6 556.02,231.84 556.33,231.86 556.63,231.8 556.94,232.03 557.24,231.94 557.54,231.99 557.85,231.67 558.15,231.8 558.46,231.96 558.76,231.9 559.06,231.87 559.37,231.96 559.67,231.94 559.98,231.8 560.28,232.29 560.58,231.87 560.89,232.11 561.19,232.11 561.49,232.17 561.8,231.9 562.1,231.83 562.41,232.09 562.71,232.06 563.01,231.59 563.32,231.55 563.62,231.92 563.93,231.95 564.23,231.97 564.53,232.09 564.84,231.84 565.14,232.48 565.45,232.17 565.75,232.23 566.05,232.03 566.36,231.59 566.66,231.97 566.96,231.79 567.27,231.92 567.57,231.76 567.88,231.84 568.18,231.51 568.48,231.55 568.79,231.57 569.09,231.4 569.4,231.45 569.7,231.65 570,231.91 570.31,231.57 570.61,231.81 570.92,231.52 571.22,231.7 571.52,231.89 571.83,231.98 572.13,231.74 572.43,232.06 572.74,232 573.04,232.22 573.35,232.16 573.65,232.1 573.95,231.93 574.26,232.05 574.56,231.85 574.87,231.85 575.17,231.67 575.47,231.77 575.78,231.77 576.08,231.97 576.39,232.01 576.69,231.75 576.99,231.97 577.3,232.05 577.6,232.14 577.91,231.96 578.21,232.01 578.51,231.9 578.82,232.13 579.12,231.68 579.42,232 579.73,231.54 580.03,232.25 580.34,232.11 580.64,231.57 580.94,231.84 581.25,231.68 581.55,231.62 581.86,231.85 582.16,231.77 582.46,232.1 582.77,231.82 583.07,231.71 583.38,231.89 583.68,231.97 583.98,232.04 584.29,231.98 584.59,231.62 584.89,231.74 585.2,231.85 585.5,231.73 585.81,232 586.11,231.81 586.41,231.85 586.72,231.79 587.02,231.86 587.33,231.58 587.63,232.22 587.93,231.74 588.24,231.71 588.54,231.51 588.85,231.81 589.15,231.58 589.45,231.87 589.76,232.02 590.06,231.92 590.37,231.72 590.67,232.02 590.97,231.76 591.28,231.78 591.58,231.8 591.88,231.7 592.19,231.85 592.49,231.55 592.8,231.45 593.1,231.98 593.4,231.63 593.71,231.69 594.01,231.81 594.32,231.66 594.62,231.53 594.92,231.7 595.23,231.57 595.53,231.83 595.84,231.65 596.14,231.68 596.44,231.86 596.75,231.44 597.05,231.45 597.35,231.84 597.66,231.93 597.96,231.72 598.27,231.57 598.57,231.91 598.87,231.79 599.18,231.87 599.48,231.37 599.79,231.66 600.09,231.5 600.39,231.48 600.7,231.78 601,231.8 601.31,231.59 601.61,231.62 601.91,231.91 602.22,231.78 602.52,231.64 602.83,231.75 603.13,231.68 603.43,231.43 603.74,231.56 604.04,231.7 604.34,231.76 604.65,231.44 604.95,231.51 605.26,231.54 605.56,231.38 605.86,231.84 606.17,231.72 606.47,231.87 606.78,231.25 607.08,231.5 607.38,231.96 607.69,231.39 607.99,231.32 608.3,231.68 608.6,231.92 608.9,231.75 609.21,231.47 609.51,231.74 609.81,231.71 610.12,231.69 610.42,231.71 610.73,231.78 611.03,231.84 611.33,231.87 611.64,231.8 611.94,231.56 612.25,231.22 612.55,231.58 612.85,231.12 613.16,231.62 613.46,230.78 613.77,230.31 614.07,229.84 614.37,229.6 614.68,228.76 614.98,227.8 615.28,226.52 615.59,224.94 615.89,223.7 616.2,221.85 616.5,220.16 616.8,219.17 617.11,217.92 617.41,216.81 617.72,216.49 618.02,216.72 618.32,217.15 618.63,217.65 618.93,219.22 619.24,219.99 619.54,222.02 619.84,223.66 620.15,225.1 620.45,226.54 620.76,227.46 621.06,228.75 621.36,229.68 621.67,230.07 621.97,230.75 622.27,231.04 622.58,230.92 622.88,231.37 623.19,231.69 623.49,231.39 623.79,231.71 624.1,231.79 624.4,231.53 624.71,231.72 625.01,231.93 625.31,231.91 625.62,231.61 625.92,231.97 626.23,231.86 626.53,231.83 626.83,232.08 627.14,231.94 627.44,231.89 627.74,232 628.05,231.95 628.35,232.06 628.66,231.82 628.96,231.53 629.26,232.13 629.57,232 629.87,231.96 630.18,231.88 630.48,231.86 630.78,231.9 631.09,231.72 631.39,232.03 631.7,231.91 632,231.73 632.3,231.96 632.61,231.86 632.91,231.91 633.21,232.02 633.52,232.41 633.82,231.75 634.13,232.01 634.43,232.07 634.73,232.03 635.04,232.22 635.34,231.89 635.65,231.91 635.95,231.97 636.25,231.74 636.56,232.18 636.86,231.77 637.17,232.09 637.47,232.21 637.77,231.85 638.08,231.97 638.38,231.96 638.69,232.29 638.99,232.02 639.29,231.63 639.6,232.1 639.9,232.05 640.2,231.44 640.51,231.22 640.81,232.06 641.12,231.48 641.42,230.93 641.72,231.33 642.03,231.2 642.33,230.32 642.64,230.78 642.94,230.49 643.24,230.19 643.55,229.93 643.85,230.03 644.16,229.77 644.46,229.95 644.76,229.93 645.07,230 645.37,230.32 645.67,230.57 645.98,230.75 646.28,230.88 646.59,231.31 646.89,230.98 647.19,231.4 647.5,231.59 647.8,231.91 648.11,231.41 648.41,231.83 648.71,231.92 649.02,232.07 649.32,232.48 649.63,232.15 649.93,232.12 650.23,232.23 650.54,232.34 650.84,232.14 651.15,232.48 651.45,231.96 651.75,232.41 652.06,232.31 652.36,232.37 652.66,232.47 652.97,232.15 653.27,232.27 653.58,232.24 653.88,232.09 654.18,232.06 654.49,232.06 654.79,232.35 655.1,231.79 655.4,231.97 655.7,232.21 656.01,232.43 656.31,232.18 656.62,232.42 656.92,232.19 657.22,232.1 657.53,231.92 657.83,232.23 658.13,232.51 658.44,232.21 658.74,232.01 659.05,232.3 659.35,231.95 659.65,231.99 659.96,232.39 660.26,232.26 660.57,232.36 660.87,232.23 661.17,232.17 661.48,232.22 661.78,232.13 662.09,232.37 662.39,231.95 662.69,231.84 663,232.02 663.3,232.33 663.61,232.07 663.91,231.76 664.21,232.67 664.52,232 664.82,232.13 665.12,232.26 665.43,232.22 665.73,232.12 666.04,231.87 666.34,232.24 666.64,231.97 666.95,232.11 667.25,232.27 667.56,232.06 667.86,231.81 668.16,232.02 668.47,232.23 668.77,232.24 669.08,231.88 669.38,232.12 669.68,232.16 669.99,232.29 670.29,232.17 670.59,232.12 670.9,232.03 671.2,232.17 671.51,232.22 671.81,232.05 672.11,232.02 672.42,232.38 672.72,232.05 673.03,231.92 673.33,232.17 673.63,231.83 673.94,231.85 674.24,232.2 674.55,232.04 674.85,232.17 675.15,232.16 675.46,231.88 675.76,232.1 676.06,231.94 676.37,232.04 676.67,232.04 676.98,231.98 677.28,231.76 677.58,232.04 677.89,231.98 678.19,232.07 678.5,231.78 678.8,232" fill="none" stroke="#808080" stroke-width="1.1" stroke-linejoin="round"/>
<g stroke="#000000" stroke-linejoin="miter">
<g fill="#000000" stroke-width="0.75">
<use href="#mk1" x="374.9" y="231.78"/>
<use href="#mk1" x="375.2" y="231.37"/>
</g>
<g fill="#fff200" stroke-width="0.75">
<use href="#mk1" x="375.51" y="231.29"/>
</g>
<g fill="#000000" stroke-width="0.75">
<use href="#mk1" x="375.81" y="230.45"/>
<use href="#mk1" x="376.12" y="230.71"/>
</g>
<g fill="#fff200" stroke-width="0.75">
<use href="#mk1" x="376.42" y="230.42"/>
</g>
<g fill="#000000" stroke-width="0.75">
<use href="#mk1" x="376.72" y="231.3"/>
<use href="#mk1" x="377.03" y="231.51"/>
<use href="#mk1" x="377.33" y="232.09"/>
<use href="#mk1" x="377.64" y="232.06"/>
<use href="#mk1" x="377.94" y="232.44"/>
<use href="#mk1" x="378.24" y="232.43"/>
</g>
<g fill="#fff200" stroke-width="0.75">
<use href="#mk1" x="378.55" y="232.41"/>
</g>
<g fill="#000000" stroke-width="0.75">
<use href="#mk1" x="378.85" y="232.59"/>
<use href="#mk1" x="379.15" y="232.33"/>
<use href="#mk1" x="379.46" y="232.49"/>
<use href="#mk1" x="379.76" y="232.66"/>
<use href="#mk1" x="380.07" y="232.52"/>
<use href="#mk1" x="380.37" y="232.4"/>
<use href="#mk1" x="380.67" y="232.81"/>
<use href="#mk1" x="380.98" y="232.31"/>
<use href="#mk1" x="381.28" y="232"/>
<use href="#mk1" x="381.59" y="231.82"/>
<use href="#mk1" x="381.89" y="231.27"/>
<use href="#mk1" x="382.19" y="230.77"/>
<use href="#mk1" x="382.5" y="230.25"/>
<use href="#mk1" x="382.8" y="230.29"/>
<use href="#mk1" x="383.11" y="229.77"/>
<use href="#mk1" x="383.41" y="229.93"/>
<use href="#mk1" x="383.71" y="230.38"/>
<use href="#mk1" x="384.02" y="231.11"/>
<use href="#mk1" x="384.32" y="231.2"/>
</g>
<g fill="#fff200" stroke-width="0.75">
<use href="#mk1" x="384.62" y="231.54"/>
</g>
<g fill="#000000" stroke-width="0.75">
<use href="#mk1" x="384.93" y="232.38"/>
<use href="#mk1" x="385.23" y="231.83"/>
<use href="#mk1" x="385.54" y="232.1"/>
<use href="#mk1" x="385.84" y="232.31"/>
<use href="#mk1" x="386.14" y="232.57"/>
<use href="#mk1" x="386.45" y="231.94"/>
<use href="#mk1" x="386.75" y="231.57"/>
<use href="#mk1" x="387.06" y="231.98"/>
<use href="#mk1" x="387.36" y="231.54"/>
<use href="#mk1" x="387.66" y="231.25"/>
<use href="#mk1" x="387.97" y="230.98"/>
<use href="#mk1" x="388.27" y="230.39"/>
</g>
<g fill="#fff200" stroke-width="0.75">
<use href="#mk1" x="388.58" y="229.69"/>
<use href="#mk1" x="388.88" y="228.49"/>
<use href="#mk1" x="389.18" y="226.89"/>
<use href="#mk1" x="389.49" y="223.25"/>
<use href="#mk1" x="389.79" y="216.61"/>
<use href="#mk1" x="390.09" y="207.75"/>
<use href="#mk1" x="390.4" y="199.39"/>
<use href="#mk1" x="390.7" y="195.03"/>
<use href="#mk1" x="391.01" y="197.22"/>
<use href="#mk1" x="391.31" y="205.34"/>
<use href="#mk1" x="391.61" y="215.23"/>
<use href="#mk1" x="391.92" y="222.78"/>
<use href="#mk1" x="392.22" y="227.46"/>
<use href="#mk1" x="392.53" y="229.89"/>
</g>
<g fill="#000000" stroke-width="0.75">
<use href="#mk1" x="392.83" y="230.88"/>
<use href="#mk1" x="393.13" y="231.35"/>
</g>
<g fill="#fff200" stroke-width="0.75">
<use href="#mk1" x="393.44" y="231.23"/>
</g>
<g fill="#000000" stroke-width="0.75">
<use href="#mk1" x="393.74" y="232.03"/>
<use href="#mk1" x="394.05" y="231.82"/>
<use href="#mk1" x="394.35" y="231.67"/>
<use href="#mk1" x="394.65" y="232.02"/>
<use href="#mk1" x="394.96" y="231.9"/>
<use href="#mk1" x="395.26" y="231.84"/>
<use href="#mk1" x="395.57" y="232.01"/>
<use href="#mk1" x="395.87" y="232.21"/>
<use href="#mk1" x="396.17" y="231.87"/>
<use href="#mk1" x="396.48" y="232.01"/>
<use href="#mk1" x="396.78" y="232.02"/>
<use href="#mk1" x="397.08" y="231.3"/>
<use href="#mk1" x="397.39" y="231.15"/>
</g>
<g fill="#fff200" stroke-width="0.75">
<use href="#mk1" x="397.69" y="231.01"/>
</g>
<g fill="#000000" stroke-width="0.75">
<use href="#mk1" x="398" y="230.02"/>
<use href="#mk1" x="398.3" y="229.57"/>
</g>
<g fill="#fff200" stroke-width="0.75">
<use href="#mk1" x="398.6" y="228.97"/>
<use href="#mk1" x="398.91" y="227.95"/>
<use href="#mk1" x="399.21" y="226.89"/>
<use href="#mk1" x="399.52" y="225.6"/>
<use href="#mk1" x="399.82" y="225.79"/>
<use href="#mk1" x="400.12" y="225.24"/>
<use href="#mk1" x="400.43" y="225.38"/>
<use href="#mk1" x="400.73" y="225.52"/>
<use href="#mk1" x="401.04" y="224.59"/>
<use href="#mk1" x="401.34" y="221.64"/>
<use href="#mk1" x="401.64" y="213.44"/>
<use href="#mk1" x="401.95" y="198.12"/>
<use href="#mk1" x="402.25" y="175.19"/>
<use href="#mk1" x="402.55" y="153.22"/>
<use href="#mk1" x="402.86" y="141.75"/>
<use href="#mk1" x="403.16" y="147.39"/>
<use href="#mk1" x="403.47" y="166.98"/>
<use href="#mk1" x="403.77" y="191.05"/>
<use href="#mk1" x="404.07" y="210.55"/>
<use href="#mk1" x="404.38" y="222.27"/>
<use href="#mk1" x="404.68" y="228.56"/>
<use href="#mk1" x="404.99" y="230.7"/>
</g>
<g fill="#000000" stroke-width="0.75">
<use href="#mk1" x="405.29" y="231.5"/>
<use href="#mk1" x="405.59" y="231.41"/>
<use href="#mk1" x="405.9" y="231.33"/>
<use href="#mk1" x="406.2" y="231.51"/>
<use href="#mk1" x="406.51" y="231.15"/>
<use href="#mk1" x="406.81" y="231.23"/>
<use href="#mk1" x="407.11" y="231.23"/>
<use href="#mk1" x="407.42" y="231.45"/>
<use href="#mk1" x="407.72" y="231.77"/>
<use href="#mk1" x="408.03" y="231.52"/>
<use href="#mk1" x="408.33" y="231.58"/>
<use href="#mk1" x="408.63" y="231.4"/>
<use href="#mk1" x="408.94" y="231.4"/>
<use href="#mk1" x="409.24" y="231.26"/>
<use href="#mk1" x="409.54" y="231.28"/>
<use href="#mk1" x="409.85" y="230.89"/>
<use href="#mk1" x="410.15" y="231.1"/>
<use href="#mk1" x="410.46" y="231.07"/>
<use href="#mk1" x="410.76" y="231.45"/>
<use href="#mk1" x="411.06" y="231.41"/>
<use href="#mk1" x="411.37" y="231.48"/>
<use href="#mk1" x="411.67" y="231.55"/>
<use href="#mk1" x="411.98" y="231.21"/>
<use href="#mk1" x="412.28" y="231.44"/>
<use href="#mk1" x="412.58" y="231.6"/>
<use href="#mk1" x="412.89" y="231.23"/>
<use href="#mk1" x="413.19" y="231.42"/>
<use href="#mk1" x="413.5" y="231.19"/>
<use href="#mk1" x="413.8" y="230.92"/>
<use href="#mk1" x="414.1" y="231.22"/>
<use href="#mk1" x="414.41" y="231.05"/>
<use href="#mk1" x="414.71" y="231.21"/>
<use href="#mk1" x="415.01" y="231.1"/>
<use href="#mk1" x="415.32" y="231.23"/>
</g>
<g fill="#fff200" stroke-width="0.75">
<use href="#mk1" x="415.62" y="230.78"/>
</g>
<g fill="#000000" stroke-width="0.75">
<use href="#mk1" x="415.93" y="231.53"/>
<use href="#mk1" x="416.23" y="231.39"/>
<use href="#mk1" x="416.53" y="231.07"/>
<use href="#mk1" x="416.84" y="230.96"/>
<use href="#mk1" x="417.14" y="231.1"/>
<use href="#mk1" x="417.45" y="231.19"/>
<use href="#mk1" x="417.75" y="231.1"/>
<use href="#mk1" x="418.05" y="231.03"/>
<use href="#mk1" x="418.36" y="230.52"/>
<use href="#mk1" x="418.66" y="230.57"/>
<use href="#mk1" x="418.97" y="230.91"/>
<use href="#mk1" x="419.27" y="230.6"/>
<use href="#mk1" x="419.57" y="230.19"/>
<use href="#mk1" x="419.88" y="230.24"/>
<use href="#mk1" x="420.18" y="230.11"/>
<use href="#mk1" x="420.48" y="230.2"/>
<use href="#mk1" x="420.79" y="230.65"/>
<use href="#mk1" x="421.09" y="230.49"/>
<use href="#mk1" x="421.4" y="230.83"/>
<use href="#mk1" x="421.7" y="230.76"/>
<use href="#mk1" x="422" y="230.54"/>
<use href="#mk1" x="422.31" y="230.77"/>
<use href="#mk1" x="422.61" y="231.35"/>
<use href="#mk1" x="422.92" y="230.83"/>
<use href="#mk1" x="423.22" y="230.8"/>
<use href="#mk1" x="423.52" y="231.23"/>
<use href="#mk1" x="423.83" y="231.02"/>
<use href="#mk1" x="424.13" y="231.01"/>
<use href="#mk1" x="424.44" y="231.27"/>
<use href="#mk1" x="424.74" y="230.68"/>
<use href="#mk1" x="425.04" y="231.08"/>
<use href="#mk1" x="425.35" y="230.8"/>
<use href="#mk1" x="425.65" y="230.74"/>
<use href="#mk1" x="425.96" y="230.84"/>
<use href="#mk1" x="426.26" y="231.2"/>
<use href="#mk1" x="426.56" y="230.96"/>
<use href="#mk1" x="426.87" y="230.65"/>
<use href="#mk1" x="427.17" y="230.78"/>
</g>
<g fill="#fff200" stroke-width="0.5">
<use href="#mk1" x="427.47" y="231.26"/>
</g>
<g fill="#000000" stroke-width="0.75">
<use href="#mk1" x="427.78" y="231.16"/>
<use href="#mk1" x="428.08" y="230.77"/>
<use href="#mk1" x="428.39" y="231.42"/>
<use href="#mk1" x="428.69" y="230.9"/>
<use href="#mk1" x="428.99" y="230.75"/>
<use href="#mk1" x="429.3" y="230.94"/>
<use href="#mk1" x="429.6" y="231.14"/>
<use href="#mk1" x="429.91" y="231.26"/>
<use href="#mk1" x="430.21" y="231.15"/>
<use href="#mk1" x="430.51" y="230.88"/>
<use href="#mk1" x="430.82" y="230.86"/>
<use href="#mk1" x="431.12" y="230.69"/>
<use href="#mk1" x="431.43" y="230.95"/>
<use href="#mk1" x="431.73" y="230.85"/>
<use href="#mk1" x="432.03" y="231"/>
<use href="#mk1" x="432.34" y="230.73"/>
<use href="#mk1" x="432.64" y="230.86"/>
<use href="#mk1" x="432.94" y="230.8"/>
<use href="#mk1" x="433.25" y="230.74"/>
<use href="#mk1" x="433.55" y="230.74"/>
<use href="#mk1" x="433.86" y="230.77"/>
<use href="#mk1" x="434.16" y="230.74"/>
<use href="#mk1" x="434.46" y="231.07"/>
<use href="#mk1" x="434.77" y="230.98"/>
<use href="#mk1" x="435.07" y="230.72"/>
<use href="#mk1" x="435.38" y="231.06"/>
<use href="#mk1" x="435.68" y="231.02"/>
<use href="#mk1" x="435.98" y="231.24"/>
<use href="#mk1" x="436.29" y="230.93"/>
<use href="#mk1" x="436.59" y="230.93"/>
<use href="#mk1" x="436.9" y="230.84"/>
<use href="#mk1" x="437.2" y="231"/>
<use href="#mk1" x="437.5" y="231.07"/>
<use href="#mk1" x="437.81" y="231.01"/>
</g>
<g fill="#fff200" stroke-width="0.5">
<use href="#mk1" x="438.11" y="230.93"/>
</g>
<g fill="#000000" stroke-width="0.75">
<use href="#mk1" x="438.42" y="231.08"/>
<use href="#mk1" x="438.72" y="231"/>
<use href="#mk1" x="439.02" y="231.03"/>
<use href="#mk1" x="439.33" y="230.82"/>
<use href="#mk1" x="439.63" y="231.03"/>
<use href="#mk1" x="439.93" y="230.81"/>
<use href="#mk1" x="440.24" y="230.84"/>
<use href="#mk1" x="440.54" y="231.03"/>
<use href="#mk1" x="440.85" y="231.39"/>
<use href="#mk1" x="441.15" y="231.19"/>
<use href="#mk1" x="441.45" y="231.01"/>
<use href="#mk1" x="441.76" y="230.98"/>
<use href="#mk1" x="442.06" y="231.2"/>
<use href="#mk1" x="442.37" y="231.27"/>
<use href="#mk1" x="442.67" y="231.25"/>
<use href="#mk1" x="442.97" y="230.99"/>
<use href="#mk1" x="443.28" y="231.06"/>
<use href="#mk1" x="443.58" y="230.97"/>
<use href="#mk1" x="443.89" y="230.98"/>
<use href="#mk1" x="444.19" y="230.88"/>
<use href="#mk1" x="444.49" y="231"/>
<use href="#mk1" x="444.8" y="230.65"/>
<use href="#mk1" x="445.1" y="230.83"/>
<use href="#mk1" x="445.4" y="231.13"/>
<use href="#mk1" x="445.71" y="230.89"/>
<use href="#mk1" x="446.01" y="231.16"/>
<use href="#mk1" x="446.32" y="230.83"/>
<use href="#mk1" x="446.62" y="231"/>
<use href="#mk1" x="446.92" y="231.15"/>
<use href="#mk1" x="447.23" y="230.89"/>
<use href="#mk1" x="447.53" y="230.95"/>
<use href="#mk1" x="447.84" y="231.54"/>
<use href="#mk1" x="448.14" y="230.97"/>
<use href="#mk1" x="448.44" y="230.97"/>
<use href="#mk1" x="448.75" y="231"/>
<use href="#mk1" x="449.05" y="231.11"/>
<use href="#mk1" x="449.36" y="231.11"/>
<use href="#mk1" x="449.66" y="231.3"/>
<use href="#mk1" x="449.96" y="231.27"/>
<use href="#mk1" x="450.27" y="231.05"/>
<use href="#mk1" x="450.57" y="231.06"/>
<use href="#mk1" x="450.88" y="230.86"/>
<use href="#mk1" x="451.18" y="230.84"/>
<use href="#mk1" x="451.48" y="230.97"/>
<use href="#mk1" x="451.79" y="231.21"/>
<use href="#mk1" x="452.09" y="231.05"/>
<use href="#mk1" x="452.39" y="231.11"/>
<use href="#mk1" x="452.7" y="231.04"/>
<use href="#mk1" x="453" y="230.72"/>
<use href="#mk1" x="453.31" y="231.01"/>
<use href="#mk1" x="453.61" y="230.4"/>
<use href="#mk1" x="453.91" y="230.27"/>
<use href="#mk1" x="454.22" y="230.23"/>
<use href="#mk1" x="454.52" y="230.5"/>
<use href="#mk1" x="454.83" y="230.3"/>
<use href="#mk1" x="455.13" y="230.27"/>
<use href="#mk1" x="455.43" y="230.6"/>
<use href="#mk1" x="455.74" y="230.87"/>
<use href="#mk1" x="456.04" y="230.78"/>
<use href="#mk1" x="456.35" y="230.88"/>
<use href="#mk1" x="456.65" y="231.23"/>
<use href="#mk1" x="456.95" y="231.29"/>
<use href="#mk1" x="457.26" y="231.33"/>
<use href="#mk1" x="457.56" y="231.05"/>
<use href="#mk1" x="457.86" y="231.27"/>
<use href="#mk1" x="458.17" y="231.3"/>
<use href="#mk1" x="458.47" y="230.91"/>
<use href="#mk1" x="458.78" y="231.47"/>
<use href="#mk1" x="459.08" y="231.27"/>
<use href="#mk1" x="459.38" y="231.2"/>
<use href="#mk1" x="459.69" y="231.68"/>
<use href="#mk1" x="459.99" y="231.29"/>
<use href="#mk1" x="460.3" y="231.14"/>
<use href="#mk1" x="460.6" y="231.26"/>
<use href="#mk1" x="460.9" y="231.38"/>
<use href="#mk1" x="461.21" y="231.43"/>
</g>
<g fill="#fff200" stroke-width="0.5">
<use href="#mk1" x="461.51" y="231.28"/>
</g>
<g fill="#000000" stroke-width="0.75">
<use href="#mk1" x="461.82" y="231.13"/>
<use href="#mk1" x="462.12" y="231.17"/>
<use href="#mk1" x="462.42" y="231.15"/>
<use href="#mk1" x="462.73" y="231.11"/>
<use href="#mk1" x="463.03" y="231.3"/>
<use href="#mk1" x="463.33" y="231.22"/>
<use href="#mk1" x="463.64" y="231.32"/>
<use href="#mk1" x="463.94" y="231.16"/>
<use href="#mk1" x="464.25" y="231.15"/>
<use href="#mk1" x="464.55" y="231.28"/>
<use href="#mk1" x="464.85" y="231.25"/>
<use href="#mk1" x="465.16" y="231.52"/>
<use href="#mk1" x="465.46" y="231.13"/>
<use href="#mk1" x="465.77" y="231.32"/>
<use href="#mk1" x="466.07" y="231.24"/>
<use href="#mk1" x="466.37" y="230.98"/>
<use href="#mk1" x="466.68" y="231.3"/>
<use href="#mk1" x="466.98" y="231.15"/>
<use href="#mk1" x="467.29" y="230.66"/>
<use href="#mk1" x="467.59" y="231.09"/>
<use href="#mk1" x="467.89" y="231.08"/>
<use href="#mk1" x="468.2" y="230.7"/>
<use href="#mk1" x="468.5" y="231.11"/>
<use href="#mk1" x="468.81" y="230.79"/>
<use href="#mk1" x="469.11" y="230.54"/>
<use href="#mk1" x="469.41" y="230.87"/>
<use href="#mk1" x="469.72" y="230.74"/>
<use href="#mk1" x="470.02" y="230.61"/>
<use href="#mk1" x="470.32" y="230.53"/>
<use href="#mk1" x="470.63" y="231.04"/>
<use href="#mk1" x="470.93" y="230.93"/>
<use href="#mk1" x="471.24" y="231.25"/>
<use href="#mk1" x="471.54" y="231.27"/>
<use href="#mk1" x="471.84" y="231.15"/>
<use href="#mk1" x="472.15" y="231.18"/>
<use href="#mk1" x="472.45" y="231.63"/>
<use href="#mk1" x="472.76" y="231.64"/>
<use href="#mk1" x="473.06" y="231.48"/>
<use href="#mk1" x="473.36" y="231.29"/>
<use href="#mk1" x="473.67" y="231.18"/>
<use href="#mk1" x="473.97" y="231.29"/>
<use href="#mk1" x="474.28" y="231.67"/>
<use href="#mk1" x="474.58" y="231.45"/>
<use href="#mk1" x="474.88" y="231.31"/>
<use href="#mk1" x="475.19" y="231.14"/>
<use href="#mk1" x="475.49" y="231.39"/>
<use href="#mk1" x="475.79" y="231.2"/>
<use href="#mk1" x="476.1" y="231.36"/>
</g>
<g fill="#fff200" stroke-width="0.5">
<use href="#mk1" x="476.4" y="231.5"/>
</g>
<g fill="#000000" stroke-width="0.75">
<use href="#mk1" x="476.71" y="231.55"/>
<use href="#mk1" x="477.01" y="231.38"/>
<use href="#mk1" x="477.31" y="231.29"/>
<use href="#mk1" x="477.62" y="231.4"/>
<use href="#mk1" x="477.92" y="231.68"/>
<use href="#mk1" x="478.23" y="231.42"/>
<use href="#mk1" x="478.53" y="231.09"/>
<use href="#mk1" x="478.83" y="231.63"/>
<use href="#mk1" x="479.14" y="231.39"/>
<use href="#mk1" x="479.44" y="231.98"/>
<use href="#mk1" x="479.75" y="231.26"/>
<use href="#mk1" x="480.05" y="231.32"/>
<use href="#mk1" x="480.35" y="231.28"/>
<use href="#mk1" x="480.66" y="231.4"/>
<use href="#mk1" x="480.96" y="231.23"/>
<use href="#mk1" x="481.26" y="231.06"/>
<use href="#mk1" x="481.57" y="230.98"/>
<use href="#mk1" x="481.87" y="231.31"/>
<use href="#mk1" x="482.18" y="231.24"/>
<use href="#mk1" x="482.48" y="231.23"/>
<use href="#mk1" x="482.78" y="231.73"/>
<use href="#mk1" x="483.09" y="231.48"/>
<use href="#mk1" x="483.39" y="231.54"/>
<use href="#mk1" x="483.7" y="231.25"/>
<use href="#mk1" x="484" y="231.4"/>
<use href="#mk1" x="484.3" y="231.3"/>
<use href="#mk1" x="484.61" y="231.31"/>
<use href="#mk1" x="484.91" y="231.48"/>
<use href="#mk1" x="485.22" y="231.46"/>
<use href="#mk1" x="485.52" y="231.4"/>
<use href="#mk1" x="485.82" y="231.37"/>
<use href="#mk1" x="486.13" y="231.08"/>
<use href="#mk1" x="486.43" y="231.21"/>
<use href="#mk1" x="486.74" y="231.42"/>
<use href="#mk1" x="487.04" y="231.28"/>
<use href="#mk1" x="487.34" y="231.2"/>
<use href="#mk1" x="487.65" y="231.41"/>
<use href="#mk1" x="487.95" y="231.18"/>
<use href="#mk1" x="488.25" y="231.22"/>
<use href="#mk1" x="488.56" y="231.51"/>
<use href="#mk1" x="488.86" y="231.28"/>
<use href="#mk1" x="489.17" y="231.6"/>
<use href="#mk1" x="489.47" y="231.44"/>
<use href="#mk1" x="489.77" y="231.49"/>
<use href="#mk1" x="490.08" y="231.55"/>
<use href="#mk1" x="490.38" y="230.94"/>
<use href="#mk1" x="490.69" y="231.32"/>
<use href="#mk1" x="490.99" y="231.1"/>
<use href="#mk1" x="491.29" y="231.25"/>
<use href="#mk1" x="491.6" y="231.32"/>
<use href="#mk1" x="491.9" y="231.56"/>
<use href="#mk1" x="492.21" y="231.32"/>
<use href="#mk1" x="492.51" y="231.63"/>
<use href="#mk1" x="492.81" y="231.23"/>
<use href="#mk1" x="493.12" y="231.32"/>
<use href="#mk1" x="493.42" y="231.34"/>
<use href="#mk1" x="493.72" y="231.5"/>
<use href="#mk1" x="494.03" y="231.31"/>
<use href="#mk1" x="494.33" y="231.21"/>
<use href="#mk1" x="494.64" y="231.26"/>
<use href="#mk1" x="494.94" y="231.06"/>
<use href="#mk1" x="495.24" y="231.55"/>
<use href="#mk1" x="495.55" y="231.45"/>
<use href="#mk1" x="495.85" y="231.39"/>
<use href="#mk1" x="496.16" y="231.36"/>
<use href="#mk1" x="496.46" y="231.2"/>
<use href="#mk1" x="496.76" y="231.23"/>
<use href="#mk1" x="497.07" y="231.45"/>
<use href="#mk1" x="497.37" y="231.16"/>
<use href="#mk1" x="497.68" y="231.16"/>
<use href="#mk1" x="497.98" y="231.59"/>
<use href="#mk1" x="498.28" y="231.58"/>
<use href="#mk1" x="498.59" y="231.35"/>
<use href="#mk1" x="498.89" y="231.39"/>
<use href="#mk1" x="499.2" y="231.33"/>
<use href="#mk1" x="499.5" y="231.55"/>
<use href="#mk1" x="499.8" y="231.21"/>
<use href="#mk1" x="500.11" y="231.3"/>
<use href="#mk1" x="500.41" y="231.37"/>
<use href="#mk1" x="500.71" y="231.55"/>
<use href="#mk1" x="501.02" y="231.24"/>
<use href="#mk1" x="501.32" y="231.32"/>
</g>
<g fill="#fff200" stroke-width="0.5">
<use href="#mk1" x="501.63" y="231.19"/>
</g>
<g fill="#000000" stroke-width="0.75">
<use href="#mk1" x="501.93" y="231.16"/>
<use href="#mk1" x="502.23" y="231.16"/>
<use href="#mk1" x="502.54" y="231.29"/>
<use href="#mk1" x="502.84" y="231.43"/>
<use href="#mk1" x="503.15" y="231.14"/>
<use href="#mk1" x="503.45" y="231.16"/>
<use href="#mk1" x="503.75" y="231.19"/>
<use href="#mk1" x="504.06" y="231.33"/>
<use href="#mk1" x="504.36" y="231.39"/>
<use href="#mk1" x="504.67" y="231.03"/>
<use href="#mk1" x="504.97" y="231.32"/>
<use href="#mk1" x="505.27" y="231.08"/>
<use href="#mk1" x="505.58" y="231.39"/>
<use href="#mk1" x="505.88" y="231.08"/>
<use href="#mk1" x="506.18" y="231.06"/>
<use href="#mk1" x="506.49" y="231.12"/>
<use href="#mk1" x="506.79" y="231.24"/>
<use href="#mk1" x="507.1" y="231.07"/>
<use href="#mk1" x="507.4" y="231.29"/>
<use href="#mk1" x="507.7" y="231.28"/>
<use href="#mk1" x="508.01" y="231.26"/>
<use href="#mk1" x="508.31" y="231.3"/>
<use href="#mk1" x="508.62" y="231.41"/>
<use href="#mk1" x="508.92" y="231.11"/>
<use href="#mk1" x="509.22" y="231.25"/>
<use href="#mk1" x="509.53" y="231.24"/>
<use href="#mk1" x="509.83" y="230.87"/>
<use href="#mk1" x="510.14" y="231.31"/>
<use href="#mk1" x="510.44" y="231.1"/>
<use href="#mk1" x="510.74" y="231.11"/>
<use href="#mk1" x="511.05" y="231.16"/>
<use href="#mk1" x="511.35" y="231.26"/>
<use href="#mk1" x="511.65" y="231.3"/>
<use href="#mk1" x="511.96" y="231.33"/>
<use href="#mk1" x="512.26" y="231.12"/>
<use href="#mk1" x="512.57" y="231.37"/>
<use href="#mk1" x="512.87" y="231.32"/>
<use href="#mk1" x="513.17" y="231.17"/>
<use href="#mk1" x="513.48" y="231.24"/>
<use href="#mk1" x="513.78" y="231.39"/>
<use href="#mk1" x="514.09" y="231.32"/>
<use href="#mk1" x="514.39" y="231.37"/>
<use href="#mk1" x="514.69" y="231.27"/>
<use href="#mk1" x="515" y="231.45"/>
<use href="#mk1" x="515.3" y="231.65"/>
<use href="#mk1" x="515.61" y="231.33"/>
<use href="#mk1" x="515.91" y="230.96"/>
<use href="#mk1" x="516.21" y="231.56"/>
<use href="#mk1" x="516.52" y="231.15"/>
<use href="#mk1" x="516.82" y="231.01"/>
<use href="#mk1" x="517.13" y="230.83"/>
<use href="#mk1" x="517.43" y="231.33"/>
<use href="#mk1" x="517.73" y="231.46"/>
<use href="#mk1" x="518.04" y="231.44"/>
<use href="#mk1" x="518.34" y="231.19"/>
<use href="#mk1" x="518.64" y="231.53"/>
<use href="#mk1" x="518.95" y="231.25"/>
</g>
<g fill="#fff200" stroke-width="0.5">
<use href="#mk1" x="519.25" y="231.16"/>
</g>
<g fill="#000000" stroke-width="0.75">
<use href="#mk1" x="519.56" y="231.28"/>
<use href="#mk1" x="519.86" y="231.31"/>
<use href="#mk1" x="520.16" y="231.29"/>
<use href="#mk1" x="520.47" y="231.35"/>
<use href="#mk1" x="520.77" y="230.89"/>
<use href="#mk1" x="521.08" y="231.57"/>
<use href="#mk1" x="521.38" y="231.19"/>
<use href="#mk1" x="521.68" y="231.41"/>
<use href="#mk1" x="521.99" y="231.15"/>
<use href="#mk1" x="522.29" y="231.33"/>
<use href="#mk1" x="522.6" y="231.27"/>
<use href="#mk1" x="522.9" y="231.02"/>
<use href="#mk1" x="523.2" y="231.38"/>
<use href="#mk1" x="523.51" y="231.43"/>
<use href="#mk1" x="523.81" y="231.11"/>
<use href="#mk1" x="524.11" y="230.94"/>
<use href="#mk1" x="524.42" y="231.21"/>
<use href="#mk1" x="524.72" y="231.18"/>
<use href="#mk1" x="525.03" y="231.35"/>
<use href="#mk1" x="525.33" y="231.33"/>
<use href="#mk1" x="525.63" y="231.63"/>
<use href="#mk1" x="525.94" y="231.46"/>
<use href="#mk1" x="526.24" y="231.3"/>
<use href="#mk1" x="526.55" y="231.38"/>
<use href="#mk1" x="526.85" y="230.84"/>
<use href="#mk1" x="527.15" y="231.2"/>
<use href="#mk1" x="527.46" y="231.2"/>
<use href="#mk1" x="527.76" y="231.35"/>
<use href="#mk1" x="528.07" y="231.43"/>
<use href="#mk1" x="528.37" y="231.42"/>
<use href="#mk1" x="528.67" y="231.55"/>
<use href="#mk1" x="528.98" y="231.27"/>
<use href="#mk1" x="529.28" y="231.45"/>
<use href="#mk1" x="529.59" y="231.38"/>
<use href="#mk1" x="529.89" y="231.41"/>
<use href="#mk1" x="530.19" y="231.47"/>
<use href="#mk1" x="530.5" y="231.37"/>
<use href="#mk1" x="530.8" y="231.46"/>
<use href="#mk1" x="531.1" y="231.42"/>
<use href="#mk1" x="531.41" y="231.62"/>
<use href="#mk1" x="531.71" y="231.42"/>
<use href="#mk1" x="532.02" y="231.5"/>
<use href="#mk1" x="532.32" y="231.92"/>
<use href="#mk1" x="532.62" y="231.57"/>
<use href="#mk1" x="532.93" y="231.56"/>
<use href="#mk1" x="533.23" y="231.67"/>
<use href="#mk1" x="533.54" y="231.3"/>
<use href="#mk1" x="533.84" y="231.61"/>
<use href="#mk1" x="534.14" y="231.63"/>
<use href="#mk1" x="534.45" y="231.58"/>
<use href="#mk1" x="534.75" y="231.68"/>
<use href="#mk1" x="535.06" y="231.65"/>
<use href="#mk1" x="535.36" y="231.73"/>
<use href="#mk1" x="535.66" y="231.41"/>
<use href="#mk1" x="535.97" y="231.61"/>
<use href="#mk1" x="536.27" y="231.44"/>
<use href="#mk1" x="536.57" y="231.77"/>
<use href="#mk1" x="536.88" y="231.57"/>
<use href="#mk1" x="537.18" y="231.32"/>
<use href="#mk1" x="537.49" y="231.58"/>
<use href="#mk1" x="537.79" y="231.39"/>
<use href="#mk1" x="538.09" y="231.75"/>
<use href="#mk1" x="538.4" y="231.52"/>
<use href="#mk1" x="538.7" y="231.2"/>
<use href="#mk1" x="539.01" y="231.53"/>
<use href="#mk1" x="539.31" y="231.79"/>
<use href="#mk1" x="539.61" y="231.67"/>
<use href="#mk1" x="539.92" y="231.5"/>
<use href="#mk1" x="540.22" y="231.74"/>
<use href="#mk1" x="540.53" y="231.73"/>
<use href="#mk1" x="540.83" y="231.9"/>
<use href="#mk1" x="541.13" y="231.81"/>
<use href="#mk1" x="541.44" y="231.72"/>
<use href="#mk1" x="541.74" y="231.52"/>
<use href="#mk1" x="542.04" y="231.72"/>
<use href="#mk1" x="542.35" y="231.73"/>
<use href="#mk1" x="542.65" y="231.68"/>
<use href="#mk1" x="542.96" y="231.76"/>
<use href="#mk1" x="543.26" y="231.48"/>
<use href="#mk1" x="543.56" y="231.8"/>
<use href="#mk1" x="543.87" y="231.71"/>
<use href="#mk1" x="544.17" y="231.78"/>
<use href="#mk1" x="544.48" y="231.7"/>
<use href="#mk1" x="544.78" y="231.67"/>
<use href="#mk1" x="545.08" y="231.78"/>
<use href="#mk1" x="545.39" y="231.88"/>
<use href="#mk1" x="545.69" y="231.69"/>
<use href="#mk1" x="546" y="231.81"/>
<use href="#mk1" x="546.3" y="231.62"/>
<use href="#mk1" x="546.6" y="231.84"/>
<use href="#mk1" x="546.91" y="231.78"/>
<use href="#mk1" x="547.21" y="231.55"/>
<use href="#mk1" x="547.52" y="231.99"/>
<use href="#mk1" x="547.82" y="231.63"/>
<use href="#mk1" x="548.12" y="231.81"/>
<use href="#mk1" x="548.43" y="231.57"/>
<use href="#mk1" x="548.73" y="231.5"/>
<use href="#mk1" x="549.03" y="231.94"/>
<use href="#mk1" x="549.34" y="231.57"/>
<use href="#mk1" x="549.64" y="231.46"/>
<use href="#mk1" x="549.95" y="231.8"/>
<use href="#mk1" x="550.25" y="231.56"/>
<use href="#mk1" x="550.55" y="231.81"/>
<use href="#mk1" x="550.86" y="232.18"/>
<use href="#mk1" x="551.16" y="231.79"/>
<use href="#mk1" x="551.47" y="231.93"/>
</g>
<g fill="#fff200" stroke-width="0.5">
<use href="#mk1" x="551.77" y="231.97"/>
</g>
<g fill="#000000" stroke-width="0.75">
<use href="#mk1" x="552.07" y="231.92"/>
<use href="#mk1" x="552.38" y="231.86"/>
<use href="#mk1" x="552.68" y="232.16"/>
<use href="#mk1" x="552.99" y="231.88"/>
<use href="#mk1" x="553.29" y="231.96"/>
<use href="#mk1" x="553.59" y="231.92"/>
<use href="#mk1" x="553.9" y="231.68"/>
<use href="#mk1" x="554.2" y="231.97"/>
<use href="#mk1" x="554.5" y="231.93"/>
<use href="#mk1" x="554.81" y="232.04"/>
<use href="#mk1" x="555.11" y="232.05"/>
<use href="#mk1" x="555.42" y="232.21"/>
<use href="#mk1" x="555.72" y="231.6"/>
<use href="#mk1" x="556.02" y="231.84"/>
<use href="#mk1" x="556.33" y="231.86"/>
<use href="#mk1" x="556.63" y="231.8"/>
<use href="#mk1" x="556.94" y="232.03"/>
<use href="#mk1" x="557.24" y="231.94"/>
<use href="#mk1" x="557.54" y="231.99"/>
<use href="#mk1" x="557.85" y="231.67"/>
<use href="#mk1" x="558.15" y="231.8"/>
<use href="#mk1" x="558.46" y="231.96"/>
<use href="#mk1" x="558.76" y="231.9"/>
<use href="#mk1" x="559.06" y="231.87"/>
<use href="#mk1" x="559.37" y="231.96"/>
<use href="#mk1" x="559.67" y="231.94"/>
<use href="#mk1" x="559.98" y="231.8"/>
<use href="#mk1" x="560.28" y="232.29"/>
<use href="#mk1" x="560.58" y="231.87"/>
<use href="#mk1" x="560.89" y="232.11"/>
<use href="#mk1" x="561.19" y="232.11"/>
<use href="#mk1" x="561.49" y="232.17"/>
<use href="#mk1" x="561.8" y="231.9"/>
<use href="#mk1" x="562.1" y="231.83"/>
<use href="#mk1" x="562.41" y="232.09"/>
<use href="#mk1" x="562.71" y="232.06"/>
<use href="#mk1" x="563.01" y="231.59"/>
<use href="#mk1" x="563.32" y="231.55"/>
<use href="#mk1" x="563.62" y="231.92"/>
<use href="#mk1" x="563.93" y="231.95"/>
<use href="#mk1" x="564.23" y="231.97"/>
<use href="#mk1" x="564.53" y="232.09"/>
<use href="#mk1" x="564.84" y="231.84"/>
<use href="#mk1" x="565.14" y="232.48"/>
<use href="#mk1" x="565.45" y="232.17"/>
<use href="#mk1" x="565.75" y="232.23"/>
<use href="#mk1" x="566.05" y="232.03"/>
<use href="#mk1" x="566.36" y="231.59"/>
<use href="#mk1" x="566.66" y="231.97"/>
<use href="#mk1" x="566.96" y="231.79"/>
<use href="#mk1" x="567.27" y="231.92"/>
<use href="#mk1" x="567.57" y="231.76"/>
<use href="#mk1" x="567.88" y="231.84"/>
<use href="#mk1" x="568.18" y="231.51"/>
<use href="#mk1" x="568.48" y="231.55"/>
<use href="#mk1" x="568.79" y="231.57"/>
<use href="#mk1" x="569.09" y="231.4"/>
<use href="#mk1" x="569.4" y="231.45"/>
<use href="#mk1" x="569.7" y="231.65"/>
<use href="#mk1" x="570" y="231.91"/>
<use href="#mk1" x="570.31" y="231.57"/>
<use href="#mk1" x="570.61" y="231.81"/>
<use href="#mk1" x="570.92" y="231.52"/>
<use href="#mk1" x="571.22" y="231.7"/>
<use href="#mk1" x="571.52" y="231.89"/>
<use href="#mk1" x="571.83" y="231.98"/>
<use href="#mk1" x="572.13" y="231.74"/>
<use href="#mk1" x="572.43" y="232.06"/>
<use href="#mk1" x="572.74" y="232"/>
<use href="#mk1" x="573.04" y="232.22"/>
<use href="#mk1" x="573.35" y="232.16"/>
<use href="#mk1" x="573.65" y="232.1"/>
<use href="#mk1" x="573.95" y="231.93"/>
<use href="#mk1" x="574.26" y="232.05"/>
<use href="#mk1" x="574.56" y="231.85"/>
<use href="#mk1" x="574.87" y="231.85"/>
<use href="#mk1" x="575.17" y="231.67"/>
<use href="#mk1" x="575.47" y="231.77"/>
<use href="#mk1" x="575.78" y="231.77"/>
<use href="#mk1" x="576.08" y="231.97"/>
<use href="#mk1" x="576.39" y="232.01"/>
<use href="#mk1" x="576.69" y="231.75"/>
<use href="#mk1" x="576.99" y="231.97"/>
<use href="#mk1" x="577.3" y="232.05"/>
<use href="#mk1" x="577.6" y="232.14"/>
<use href="#mk1" x="577.91" y="231.96"/>
<use href="#mk1" x="578.21" y="232.01"/>
<use href="#mk1" x="578.51" y="231.9"/>
<use href="#mk1" x="578.82" y="232.13"/>
<use href="#mk1" x="579.12" y="231.68"/>
<use href="#mk1" x="579.42" y="232"/>
<use href="#mk1" x="579.73" y="231.54"/>
<use href="#mk1" x="580.03" y="232.25"/>
<use href="#mk1" x="580.34" y="232.11"/>
<use href="#mk1" x="580.64" y="231.57"/>
<use href="#mk1" x="580.94" y="231.84"/>
<use href="#mk1" x="581.25" y="231.68"/>
<use href="#mk1" x="581.55" y="231.62"/>
<use href="#mk1" x="581.86" y="231.85"/>
<use href="#mk1" x="582.16" y="231.77"/>
<use href="#mk1" x="582.46" y="232.1"/>
<use href="#mk1" x="582.77" y="231.82"/>
<use href="#mk1" x="583.07" y="231.71"/>
<use href="#mk1" x="583.38" y="231.89"/>
<use href="#mk1" x="583.68" y="231.97"/>
</g>
<g fill="#fff200" stroke-width="0.5">
<use href="#mk1" x="583.98" y="232.04"/>
</g>
<g fill="#000000" stroke-width="0.75">
<use href="#mk1" x="584.29" y="231.98"/>
<use href="#mk1" x="584.59" y="231.62"/>
<use href="#mk1" x="584.89" y="231.74"/>
<use href="#mk1" x="585.2" y="231.85"/>
<use href="#mk1" x="585.5" y="231.73"/>
<use href="#mk1" x="585.81" y="232"/>
<use href="#mk1" x="586.11" y="231.81"/>
<use href="#mk1" x="586.41" y="231.85"/>
<use href="#mk1" x="586.72" y="231.79"/>
<use href="#mk1" x="587.02" y="231.86"/>
<use href="#mk1" x="587.33" y="231.58"/>
<use href="#mk1" x="587.63" y="232.22"/>
<use href="#mk1" x="587.93" y="231.74"/>
<use href="#mk1" x="588.24" y="231.71"/>
<use href="#mk1" x="588.54" y="231.51"/>
<use href="#mk1" x="588.85" y="231.81"/>
<use href="#mk1" x="589.15" y="231.58"/>
<use href="#mk1" x="589.45" y="231.87"/>
<use href="#mk1" x="589.76" y="232.02"/>
<use href="#mk1" x="590.06" y="231.92"/>
<use href="#mk1" x="590.37" y="231.72"/>
<use href="#mk1" x="590.67" y="232.02"/>
<use href="#mk1" x="590.97" y="231.76"/>
<use href="#mk1" x="591.28" y="231.78"/>
<use href="#mk1" x="591.58" y="231.8"/>
<use href="#mk1" x="591.88" y="231.7"/>
<use href="#mk1" x="592.19" y="231.85"/>
<use href="#mk1" x="592.49" y="231.55"/>
<use href="#mk1" x="592.8" y="231.45"/>
<use href="#mk1" x="593.1" y="231.98"/>
<use href="#mk1" x="593.4" y="231.63"/>
</g>
<g fill="#fff200" stroke-width="0.5">
<use href="#mk1" x="593.71" y="231.69"/>
</g>
<g fill="#000000" stroke-width="0.75">
<use href="#mk1" x="594.01" y="231.81"/>
<use href="#mk1" x="594.32" y="231.66"/>
<use href="#mk1" x="594.62" y="231.53"/>
<use href="#mk1" x="594.92" y="231.7"/>
<use href="#mk1" x="595.23" y="231.57"/>
<use href="#mk1" x="595.53" y="231.83"/>
<use href="#mk1" x="595.84" y="231.65"/>
<use href="#mk1" x="596.14" y="231.68"/>
<use href="#mk1" x="596.44" y="231.86"/>
<use href="#mk1" x="596.75" y="231.44"/>
<use href="#mk1" x="597.05" y="231.45"/>
<use href="#mk1" x="597.35" y="231.84"/>
<use href="#mk1" x="597.66" y="231.93"/>
<use href="#mk1" x="597.96" y="231.72"/>
<use href="#mk1" x="598.27" y="231.57"/>
<use href="#mk1" x="598.57" y="231.91"/>
<use href="#mk1" x="598.87" y="231.79"/>
<use href="#mk1" x="599.18" y="231.87"/>
<use href="#mk1" x="599.48" y="231.37"/>
<use href="#mk1" x="599.79" y="231.66"/>
<use href="#mk1" x="600.09" y="231.5"/>
<use href="#mk1" x="600.39" y="231.48"/>
<use href="#mk1" x="600.7" y="231.78"/>
<use href="#mk1" x="601" y="231.8"/>
<use href="#mk1" x="601.31" y="231.59"/>
<use href="#mk1" x="601.61" y="231.62"/>
<use href="#mk1" x="601.91" y="231.91"/>
<use href="#mk1" x="602.22" y="231.78"/>
<use href="#mk1" x="602.52" y="231.64"/>
<use href="#mk1" x="602.83" y="231.75"/>
<use href="#mk1" x="603.13" y="231.68"/>
<use href="#mk1" x="603.43" y="231.43"/>
<use href="#mk1" x="603.74" y="231.56"/>
<use href="#mk1" x="604.04" y="231.7"/>
<use href="#mk1" x="604.34" y="231.76"/>
<use href="#mk1" x="604.65" y="231.44"/>
<use href="#mk1" x="604.95" y="231.51"/>
<use href="#mk1" x="605.26" y="231.54"/>
<use href="#mk1" x="605.56" y="231.38"/>
<use href="#mk1" x="605.86" y="231.84"/>
<use href="#mk1" x="606.17" y="231.72"/>
<use href="#mk1" x="606.47" y="231.87"/>
<use href="#mk1" x="606.78" y="231.25"/>
<use href="#mk1" x="607.08" y="231.5"/>
<use href="#mk1" x="607.38" y="231.96"/>
<use href="#mk1" x="607.69" y="231.39"/>
<use href="#mk1" x="607.99" y="231.32"/>
<use href="#mk1" x="608.3" y="231.68"/>
<use href="#mk1" x="608.6" y="231.92"/>
<use href="#mk1" x="608.9" y="231.75"/>
<use href="#mk1" x="609.21" y="231.47"/>
<use href="#mk1" x="609.51" y="231.74"/>
<use href="#mk1" x="609.81" y="231.71"/>
<use href="#mk1" x="610.12" y="231.69"/>
<use href="#mk1" x="610.42" y="231.71"/>
<use href="#mk1" x="610.73" y="231.78"/>
<use href="#mk1" x="611.03" y="231.84"/>
<use href="#mk1" x="611.33" y="231.87"/>
<use href="#mk1" x="611.64" y="231.8"/>
<use href="#mk1" x="611.94" y="231.56"/>
<use href="#mk1" x="612.25" y="231.22"/>
<use href="#mk1" x="612.55" y="231.58"/>
<use href="#mk1" x="612.85" y="231.12"/>
</g>
<g fill="#fff200" stroke-width="0.5">
<use href="#mk1" x="613.16" y="231.62"/>
</g>
<g fill="#000000" stroke-width="0.75">
<use href="#mk1" x="613.46" y="230.78"/>
<use href="#mk1" x="613.77" y="230.31"/>
<use href="#mk1" x="614.07" y="229.84"/>
</g>
<g fill="#fff200" stroke-width="0.5">
<use href="#mk1" x="614.37" y="229.6"/>
<use href="#mk1" x="614.68" y="228.76"/>
<use href="#mk1" x="614.98" y="227.8"/>
<use href="#mk1" x="615.28" y="226.52"/>
<use href="#mk1" x="615.59" y="224.94"/>
<use href="#mk1" x="615.89" y="223.7"/>
<use href="#mk1" x="616.2" y="221.85"/>
<use href="#mk1" x="616.5" y="220.16"/>
<use href="#mk1" x="616.8" y="219.17"/>
<use href="#mk1" x="617.11" y="217.92"/>
<use href="#mk1" x="617.41" y="216.81"/>
<use href="#mk1" x="617.72" y="216.49"/>
<use href="#mk1" x="618.02" y="216.72"/>
<use href="#mk1" x="618.32" y="217.15"/>
<use href="#mk1" x="618.63" y="217.65"/>
<use href="#mk1" x="618.93" y="219.22"/>
<use href="#mk1" x="619.24" y="219.99"/>
<use href="#mk1" x="619.54" y="222.02"/>
</g>
<g fill="#000000" stroke-width="0.75">
<use href="#mk1" x="619.84" y="223.66"/>
<use href="#mk1" x="620.15" y="225.1"/>
<use href="#mk1" x="620.45" y="226.54"/>
</g>
<g fill="#fff200" stroke-width="0.5">
<use href="#mk1" x="620.76" y="227.46"/>
</g>
<g fill="#000000" stroke-width="0.75">
<use href="#mk1" x="621.06" y="228.75"/>
<use href="#mk1" x="621.36" y="229.68"/>
<use href="#mk1" x="621.67" y="230.07"/>
<use href="#mk1" x="621.97" y="230.75"/>
<use href="#mk1" x="622.27" y="231.04"/>
<use href="#mk1" x="622.58" y="230.92"/>
<use href="#mk1" x="622.88" y="231.37"/>
<use href="#mk1" x="623.19" y="231.69"/>
<use href="#mk1" x="623.49" y="231.39"/>
<use href="#mk1" x="623.79" y="231.71"/>
<use href="#mk1" x="624.1" y="231.79"/>
<use href="#mk1" x="624.4" y="231.53"/>
<use href="#mk1" x="624.71" y="231.72"/>
<use href="#mk1" x="625.01" y="231.93"/>
<use href="#mk1" x="625.31" y="231.91"/>
<use href="#mk1" x="625.62" y="231.61"/>
<use href="#mk1" x="625.92" y="231.97"/>
<use href="#mk1" x="626.23" y="231.86"/>
<use href="#mk1" x="626.53" y="231.83"/>
<use href="#mk1" x="626.83" y="232.08"/>
<use href="#mk1" x="627.14" y="231.94"/>
<use href="#mk1" x="627.44" y="231.89"/>
<use href="#mk1" x="627.74" y="232"/>
<use href="#mk1" x="628.05" y="231.95"/>
<use href="#mk1" x="628.35" y="232.06"/>
<use href="#mk1" x="628.66" y="231.82"/>
<use href="#mk1" x="628.96" y="231.53"/>
<use href="#mk1" x="629.26" y="232.13"/>
<use href="#mk1" x="629.57" y="232"/>
<use href="#mk1" x="629.87" y="231.96"/>
<use href="#mk1" x="630.18" y="231.88"/>
<use href="#mk1" x="630.48" y="231.86"/>
<use href="#mk1" x="630.78" y="231.9"/>
<use href="#mk1" x="631.09" y="231.72"/>
<use href="#mk1" x="631.39" y="232.03"/>
<use href="#mk1" x="631.7" y="231.91"/>
<use href="#mk1" x="632" y="231.73"/>
<use href="#mk1" x="632.3" y="231.96"/>
<use href="#mk1" x="632.61" y="231.86"/>
<use href="#mk1" x="632.91" y="231.91"/>
<use href="#mk1" x="633.21" y="232.02"/>
<use href="#mk1" x="633.52" y="232.41"/>
<use href="#mk1" x="633.82" y="231.75"/>
<use href="#mk1" x="634.13" y="232.01"/>
<use href="#mk1" x="634.43" y="232.07"/>
<use href="#mk1" x="634.73" y="232.03"/>
<use href="#mk1" x="635.04" y="232.22"/>
<use href="#mk1" x="635.34" y="231.89"/>
<use href="#mk1" x="635.65" y="231.91"/>
<use href="#mk1" x="635.95" y="231.97"/>
<use href="#mk1" x="636.25" y="231.74"/>
<use href="#mk1" x="636.56" y="232.18"/>
<use href="#mk1" x="636.86" y="231.77"/>
<use href="#mk1" x="637.17" y="232.09"/>
<use href="#mk1" x="637.47" y="232.21"/>
<use href="#mk1" x="637.77" y="231.85"/>
<use href="#mk1" x="638.08" y="231.97"/>
<use href="#mk1" x="638.38" y="231.96"/>
<use href="#mk1" x="638.69" y="232.29"/>
<use href="#mk1" x="638.99" y="232.02"/>
<use href="#mk1" x="639.29" y="231.63"/>
<use href="#mk1" x="639.6" y="232.1"/>
<use href="#mk1" x="639.9" y="232.05"/>
<use href="#mk1" x="640.2" y="231.44"/>
</g>
<g fill="#fff200" stroke-width="0.5">
<use href="#mk1" x="640.51" y="231.22"/>
</g>
<g fill="#000000" stroke-width="0.75">
<use href="#mk1" x="640.81" y="232.06"/>
<use href="#mk1" x="641.12" y="231.48"/>
<use href="#mk1" x="641.42" y="230.93"/>
<use href="#mk1" x="641.72" y="231.33"/>
</g>
<g fill="#fff200" stroke-width="0.5">
<use href="#mk1" x="642.03" y="231.2"/>
</g>
<g fill="#000000" stroke-width="0.75">
<use href="#mk1" x="642.33" y="230.32"/>
<use href="#mk1" x="642.64" y="230.78"/>
<use href="#mk1" x="642.94" y="230.49"/>
<use href="#mk1" x="643.24" y="230.19"/>
<use href="#mk1" x="643.55" y="229.93"/>
<use href="#mk1" x="643.85" y="230.03"/>
<use href="#mk1" x="644.16" y="229.77"/>
<use href="#mk1" x="644.46" y="229.95"/>
<use href="#mk1" x="644.76" y="229.93"/>
<use href="#mk1" x="645.07" y="230"/>
<use href="#mk1" x="645.37" y="230.32"/>
<use href="#mk1" x="645.67" y="230.57"/>
<use href="#mk1" x="645.98" y="230.75"/>
<use href="#mk1" x="646.28" y="230.88"/>
<use href="#mk1" x="646.59" y="231.31"/>
<use href="#mk1" x="646.89" y="230.98"/>
<use href="#mk1" x="647.19" y="231.4"/>
<use href="#mk1" x="647.5" y="231.59"/>
<use href="#mk1" x="647.8" y="231.91"/>
<use href="#mk1" x="648.11" y="231.41"/>
<use href="#mk1" x="648.41" y="231.83"/>
<use href="#mk1" x="648.71" y="231.92"/>
<use href="#mk1" x="649.02" y="232.07"/>
<use href="#mk1" x="649.32" y="232.48"/>
<use href="#mk1" x="649.63" y="232.15"/>
<use href="#mk1" x="649.93" y="232.12"/>
<use href="#mk1" x="650.23" y="232.23"/>
<use href="#mk1" x="650.54" y="232.34"/>
<use href="#mk1" x="650.84" y="232.14"/>
<use href="#mk1" x="651.15" y="232.48"/>
<use href="#mk1" x="651.45" y="231.96"/>
<use href="#mk1" x="651.75" y="232.41"/>
<use href="#mk1" x="652.06" y="232.31"/>
<use href="#mk1" x="652.36" y="232.37"/>
<use href="#mk1" x="652.66" y="232.47"/>
<use href="#mk1" x="652.97" y="232.15"/>
<use href="#mk1" x="653.27" y="232.27"/>
<use href="#mk1" x="653.58" y="232.24"/>
<use href="#mk1" x="653.88" y="232.09"/>
<use href="#mk1" x="654.18" y="232.06"/>
<use href="#mk1" x="654.49" y="232.06"/>
<use href="#mk1" x="654.79" y="232.35"/>
<use href="#mk1" x="655.1" y="231.79"/>
<use href="#mk1" x="655.4" y="231.97"/>
<use href="#mk1" x="655.7" y="232.21"/>
<use href="#mk1" x="656.01" y="232.43"/>
<use href="#mk1" x="656.31" y="232.18"/>
<use href="#mk1" x="656.62" y="232.42"/>
<use href="#mk1" x="656.92" y="232.19"/>
<use href="#mk1" x="657.22" y="232.1"/>
<use href="#mk1" x="657.53" y="231.92"/>
<use href="#mk1" x="657.83" y="232.23"/>
<use href="#mk1" x="658.13" y="232.51"/>
<use href="#mk1" x="658.44" y="232.21"/>
<use href="#mk1" x="658.74" y="232.01"/>
<use href="#mk1" x="659.05" y="232.3"/>
<use href="#mk1" x="659.35" y="231.95"/>
<use href="#mk1" x="659.65" y="231.99"/>
<use href="#mk1" x="659.96" y="232.39"/>
<use href="#mk1" x="660.26" y="232.26"/>
<use href="#mk1" x="660.57" y="232.36"/>
<use href="#mk1" x="660.87" y="232.23"/>
<use href="#mk1" x="661.17" y="232.17"/>
<use href="#mk1" x="661.48" y="232.22"/>
<use href="#mk1" x="661.78" y="232.13"/>
<use href="#mk1" x="662.09" y="232.37"/>
<use href="#mk1" x="662.39" y="231.95"/>
<use href="#mk1" x="662.69" y="231.84"/>
<use href="#mk1" x="663" y="232.02"/>
<use href="#mk1" x="663.3" y="232.33"/>
<use href="#mk1" x="663.61" y="232.07"/>
<use href="#mk1" x="663.91" y="231.76"/>
<use href="#mk1" x="664.21" y="232.67"/>
<use href="#mk1" x="664.52" y="232"/>
<use href="#mk1" x="664.82" y="232.13"/>
<use href="#mk1" x="665.12" y="232.26"/>
<use href="#mk1" x="665.43" y="232.22"/>
<use href="#mk1" x="665.73" y="232.12"/>
<use href="#mk1" x="666.04" y="231.87"/>
<use href="#mk1" x="666.34" y="232.24"/>
<use href="#mk1" x="666.64" y="231.97"/>
<use href="#mk1" x="666.95" y="232.11"/>
<use href="#mk1" x="667.25" y="232.27"/>
<use href="#mk1" x="667.56" y="232.06"/>
<use href="#mk1" x="667.86" y="231.81"/>
<use href="#mk1" x="668.16" y="232.02"/>
<use href="#mk1" x="668.47" y="232.23"/>
<use href="#mk1" x="668.77" y="232.24"/>
<use href="#mk1" x="669.08" y="231.88"/>
<use href="#mk1" x="669.38" y="232.12"/>
<use href="#mk1" x="669.68" y="232.16"/>
<use href="#mk1" x="669.99" y="232.29"/>
<use href="#mk1" x="670.29" y="232.17"/>
<use href="#mk1" x="670.59" y="232.12"/>
<use href="#mk1" x="670.9" y="232.03"/>
<use href="#mk1" x="671.2" y="232.17"/>
<use href="#mk1" x="671.51" y="232.22"/>
<use href="#mk1" x="671.81" y="232.05"/>
<use href="#mk1" x="672.11" y="232.02"/>
<use href="#mk1" x="672.42" y="232.38"/>
<use href="#mk1" x="672.72" y="232.05"/>
<use href="#mk1" x="673.03" y="231.92"/>
<use href="#mk1" x="673.33" y="232.17"/>
<use href="#mk1" x="673.63" y="231.83"/>
<use href="#mk1" x="673.94" y="231.85"/>
<use href="#mk1" x="674.24" y="232.2"/>
<use href="#mk1" x="674.55" y="232.04"/>
<use href="#mk1" x="674.85" y="232.17"/>
<use href="#mk1" x="675.15" y="232.16"/>
<use href="#mk1" x="675.46" y="231.88"/>
<use href="#mk1" x="675.76" y="232.1"/>
<use href="#mk1" x="676.06" y="231.94"/>
<use href="#mk1" x="676.37" y="232.04"/>
<use href="#mk1" x="676.67" y="232.04"/>
<use href="#mk1" x="676.98" y="231.98"/>
<use href="#mk1" x="677.28" y="231.76"/>
<use href="#mk1" x="677.58" y="232.04"/>
<use href="#mk1" x="677.89" y="231.98"/>
<use href="#mk1" x="678.19" y="232.07"/>
<use href="#mk1" x="678.5" y="231.78"/>
</g>
<g fill="#fff200" stroke-width="0.5">
<use href="#mk1" x="678.8" y="232"/>
</g></g></g>
<g clip-path="url(#clipb)">
<polyline points="374.9,133.35 375.2,133.03 375.51,132.43 375.81,132.07 376.12,131.81 376.42,132.03 376.72,132.56 377.03,132.83 377.33,133.34 377.64,133.53 377.94,133.78 378.24,133.87 378.55,133.59 378.85,134.06 379.15,133.98 379.46,133.96 379.76,133.54 380.07,133.5 380.37,133.61 380.67,133.61 380.98,133.63 381.28,133.35 381.59,133.11 381.89,132.42 382.19,132.02 382.5,131.47 382.8,130.86 383.11,131.11 383.41,131.03 383.71,131.53 384.02,131.73 384.32,132.24 384.62,132.74 384.93,133.08 385.23,133.39 385.54,133.4 385.84,133.29 386.14,133.17 386.45,133.19 386.75,133.4 387.06,132.88 387.36,132.84 387.66,132.56 387.97,131.78 388.27,131.51 388.58,131.01 388.88,129.34 389.18,127.71 389.49,124.02 389.79,117.43 390.09,108.76 390.4,99.95 390.7,95.31 391.01,98.21 391.31,106.31 391.61,116.12 391.92,124.07 392.22,128.66 392.53,130.98 392.83,131.76 393.13,132.57 393.44,132.58 393.74,132.74 394.05,132.67 394.35,132.76 394.65,132.85 394.96,133.18 395.26,132.57 395.57,132.66 395.87,132.95 396.17,133.13 396.48,132.92 396.78,132.39 397.08,132.13 397.39,132.4 397.69,131.83 398,131.22 398.3,130.88 398.6,130.03 398.91,128.88 399.21,127.92 399.52,127.11 399.82,126.74 400.12,126.34 400.43,126.43 400.73,126.63 401.04,125.76 401.34,123.41 401.64,115.43 401.95,100.04 402.25,77.96 402.55,56.91 402.86,46.12 403.16,50.95 403.47,70.16 403.77,93.66 404.07,112.33 404.38,124.5 404.68,129.81 404.99,131.73 405.29,132.42 405.59,132.61 405.9,132.53 406.2,132.71 406.51,132.37 406.81,132.41 407.11,132.66 407.42,132.46 407.72,132.29 408.03,132.61 408.33,132.69 408.63,132.33 408.94,132.15 409.24,132.37 409.54,132.35 409.85,132.32 410.15,132.61 410.46,132.16 410.76,132.56 411.06,132.1 411.37,132.17 411.67,132.42 411.98,132.5 412.28,132.44 412.58,132.33 412.89,132.29 413.19,132.28 413.5,132.34 413.8,132.2 414.1,132.27 414.41,132.31 414.71,132.2 415.01,132.32 415.32,132.28 415.62,132.52 415.93,132.21 416.23,132.06 416.53,132.06 416.84,132.1 417.14,132.24 417.45,131.97 417.75,132.04 418.05,132.22 418.36,131.32 418.66,131.45 418.97,131.55 419.27,131.43 419.57,131.28 419.88,131.07 420.18,131.23 420.48,131.18 420.79,131.11 421.09,131.74 421.4,131.49 421.7,131.45 422,131.65 422.31,131.71 422.61,131.8 422.92,131.37 423.22,131.79 423.52,132.07 423.83,131.68 424.13,131.88 424.44,132.05 424.74,132.03 425.04,132.13 425.35,131.55 425.65,131.79 425.96,131.78 426.26,131.95 426.56,132.02 426.87,131.33 427.17,132.01 427.47,131.54 427.78,131.92 428.08,131.52 428.39,131.81 428.69,131.99 428.99,131.74 429.3,131.79 429.6,131.89 429.91,131.77 430.21,131.72 430.51,132.01 430.82,131.91 431.12,131.66 431.43,132.2 431.73,131.5 432.03,131.86 432.34,131.64 432.64,131.71 432.94,131.81 433.25,131.71 433.55,131.78 433.86,131.39 434.16,131.38 434.46,131.76 434.77,131.47 435.07,131.46 435.38,131.37 435.68,131.86 435.98,131.76 436.29,131.89 436.59,131.45 436.9,131.61 437.2,131.4 437.5,131.74 437.81,131.89 438.11,131.44 438.42,131.88 438.72,131.77 439.02,131.56 439.33,131.23 439.63,131.83 439.93,131.56 440.24,131.47 440.54,131.64 440.85,131.64 441.15,131.84 441.45,131.38 441.76,131.77 442.06,131.83 442.37,131.82 442.67,131.53 442.97,131.42 443.28,131.74 443.58,131.57 443.89,131.57 444.19,131.81 444.49,131.5 444.8,131.14 445.1,131.48 445.4,131.21 445.71,131.69 446.01,131.6 446.32,131.44 446.62,131.54 446.92,131.7 447.23,131.56 447.53,131.79 447.84,131.54 448.14,131.74 448.44,131.82 448.75,131.84 449.05,131.43 449.36,131.71 449.66,131.21 449.96,131.36 450.27,131.2 450.57,131.74 450.88,131.31 451.18,131.49 451.48,131.4 451.79,131.32 452.09,131.05 452.39,130.96 452.7,130.96 453,130.33 453.31,130.14 453.61,130.03 453.91,129.74 454.22,129.63 454.52,129.96 454.83,130.54 455.13,130.36 455.43,130.84 455.74,131.36 456.04,131.5 456.35,131.47 456.65,131.69 456.95,131.61 457.26,131.39 457.56,131.33 457.86,131.51 458.17,131.79 458.47,131.53 458.78,131.47 459.08,131.5 459.38,131.36 459.69,131.62 459.99,131.43 460.3,131.7 460.6,131.19 460.9,131.62 461.21,131.35 461.51,130.95 461.82,131.16 462.12,130.56 462.42,129.63 462.73,129.12 463.03,128.45 463.33,127.39 463.64,126.74 463.94,126.06 464.25,125.68 464.55,125.62 464.85,126.18 465.16,126.74 465.46,127.58 465.77,128.07 466.07,129.49 466.37,130.32 466.68,130.62 466.98,131.01 467.29,131.72 467.59,131.21 467.89,131.68 468.2,132.04 468.5,131.37 468.81,131.55 469.11,131.6 469.41,131.04 469.72,130.93 470.02,130.76 470.32,130.23 470.63,130.24 470.93,130.27 471.24,130.42 471.54,130.41 471.84,130.59 472.15,130.68 472.45,131.04 472.76,131.48 473.06,131.52 473.36,131.48 473.67,131.58 473.97,132.27 474.28,132.03 474.58,131.96 474.88,131.4 475.19,131.98 475.49,131.96 475.79,132.18 476.1,131.96 476.4,131.88 476.71,131.99 477.01,131.55 477.31,132.09 477.62,131.96 477.92,131.78 478.23,132.15 478.53,132.24 478.83,131.66 479.14,131.8 479.44,131.97 479.75,131.96 480.05,131.85 480.35,131.75 480.66,132.31 480.96,132.12 481.26,131.72 481.57,131.7 481.87,132.26 482.18,132.13 482.48,132.29 482.78,132.11 483.09,131.82 483.39,132.03 483.7,131.6 484,131.86 484.3,131.99 484.61,132.1 484.91,131.88 485.22,131.99 485.52,132.1 485.82,132.09 486.13,132.14 486.43,132.07 486.74,131.98 487.04,132.19 487.34,132.06 487.65,131.9 487.95,131.94 488.25,132.06 488.56,132.04 488.86,132.1 489.17,132.07 489.47,132.11 489.77,132.05 490.08,131.86 490.38,132.16 490.69,132.28 490.99,132.17 491.29,132.06 491.6,132.18 491.9,131.92 492.21,131.76 492.51,132.11 492.81,131.94 493.12,132.24 493.42,131.91 493.72,131.64 494.03,131.93 494.33,132.4 494.64,132.05 494.94,131.87 495.24,131.98 495.55,132.21 495.85,132.21 496.16,132.15 496.46,132.39 496.76,132.25 497.07,132.12 497.37,132.23 497.68,132.42 497.98,132.3 498.28,132.31 498.59,131.93 498.89,132.1 499.2,132.25 499.5,132.07 499.8,132.31 500.11,132.23 500.41,132.28 500.71,132.08 501.02,132.58 501.32,132.34 501.63,132.08 501.93,132.13 502.23,132.58 502.54,132.05 502.84,132.27 503.15,132.29 503.45,132.11 503.75,131.9 504.06,132.14 504.36,132.17 504.67,132.31 504.97,132.24 505.27,132.1 505.58,132.25 505.88,132.19 506.18,132.13 506.49,132.1 506.79,132.05 507.1,132.21 507.4,131.9 507.7,131.97 508.01,132.08 508.31,131.82 508.62,132 508.92,131.71 509.22,131.95 509.53,132.17 509.83,132.17 510.14,132.05 510.44,132.02 510.74,131.8 511.05,132.39 511.35,132.15 511.65,132.25 511.96,131.89 512.26,132.01 512.57,131.72 512.87,132.18 513.17,132.21 513.48,131.69 513.78,132.02 514.09,132.14 514.39,131.71 514.69,131.7 515,131.83 515.3,131.91 515.61,131.77 515.91,132.02 516.21,132.06 516.52,132.13 516.82,132.14 517.13,132.28 517.43,132.21 517.73,131.77 518.04,131.91 518.34,131.81 518.64,131.8 518.95,131.98 519.25,131.99 519.56,132.08 519.86,131.7 520.16,131.76 520.47,131.98 520.77,131.94 521.08,131.92 521.38,131.97 521.68,131.84 521.99,132.1 522.29,132.04 522.6,131.95 522.9,131.85 523.2,131.94 523.51,131.48 523.81,131.79 524.11,131.97 524.42,131.69 524.72,132 525.03,131.99 525.33,131.71 525.63,131.91 525.94,131.9 526.24,132.04 526.55,132.07 526.85,131.95 527.15,131.8 527.46,131.93 527.76,131.94 528.07,132.09 528.37,132.01 528.67,131.83 528.98,131.71 529.28,131.89 529.59,131.82 529.89,131.76 530.19,131.94 530.5,131.87 530.8,131.98 531.1,132.05 531.41,131.89 531.71,132.38 532.02,131.91 532.32,132.16 532.62,131.99 532.93,132.17 533.23,131.54 533.54,131.84 533.84,132.02 534.14,132.08 534.45,132.4 534.75,132.04 535.06,132.21 535.36,132.12 535.66,132.16 535.97,132.08 536.27,131.96 536.57,132.08 536.88,131.8 537.18,132.21 537.49,131.82 537.79,132.05 538.09,132.39 538.4,131.97 538.7,132.02 539.01,132.23 539.31,132.03 539.61,131.88 539.92,132.08 540.22,132.14 540.53,132.16 540.83,131.9 541.13,132.36 541.44,132.35 541.74,132.06 542.04,132.11 542.35,131.98 542.65,132.32 542.96,131.94 543.26,132.2 543.56,131.99 543.87,131.96 544.17,132.22 544.48,132.34 544.78,132.1 545.08,131.98 545.39,132.26 545.69,132.11 546,132.18 546.3,132.4 546.6,132.34 546.91,132.04 547.21,132.55 547.52,132.15 547.82,132.3 548.12,132.04 548.43,132.16 548.73,131.86 549.03,132.5 549.34,132.43 549.64,131.97 549.95,131.93 550.25,131.91 550.55,132.42 550.86,132.13 551.16,132.21 551.47,132.17 551.77,132.21 552.07,132.04 552.38,132.25 552.68,131.99 552.99,132.25 553.29,132.32 553.59,132.36 553.9,132.24 554.2,132.12 554.5,132.32 554.81,132.21 555.11,132.59 555.42,132.45 555.72,132.3 556.02,132.24 556.33,132.2 556.63,132.17 556.94,132.28 557.24,132.4 557.54,132.45 557.85,132.47 558.15,132.75 558.46,132.25 558.76,132.39 559.06,132.89 559.37,132.06 559.67,132.31 559.98,132.44 560.28,132.44 560.58,132.5 560.89,132.39 561.19,132.5 561.49,132.45 561.8,132.59 562.1,132.11 562.41,132.3 562.71,132.46 563.01,132.28 563.32,132.29 563.62,132.6 563.93,132.37 564.23,132.61 564.53,132.63 564.84,132.55 565.14,132.59 565.45,132.48 565.75,132.24 566.05,132.48 566.36,132.55 566.66,132.34 566.96,132.39 567.27,132.49 567.57,132.15 567.88,132.37 568.18,132.53 568.48,132.05 568.79,132.14 569.09,132.06 569.4,132.36 569.7,132.15 570,132.29 570.31,132.05 570.61,132.23 570.92,132.3 571.22,132.04 571.52,132.68 571.83,132.64 572.13,132.2 572.43,132.69 572.74,132.56 573.04,132.68 573.35,132.68 573.65,132.35 573.95,132.59 574.26,132.9 574.56,132.54 574.87,132.46 575.17,132.4 575.47,132.43 575.78,132.71 576.08,132.96 576.39,132.73 576.69,132.7 576.99,133.06 577.3,132.57 577.6,132.54 577.91,132.76 578.21,132.77 578.51,132.49 578.82,132.46 579.12,132.72 579.42,132.72 579.73,132.44 580.03,132.64 580.34,132.58 580.64,132.76 580.94,132.65 581.25,132.66 581.55,132.61 581.86,132.86 582.16,132.93 582.46,132.61 582.77,132.83 583.07,132.54 583.38,132.69 583.68,132.81 583.98,132.94 584.29,132.6 584.59,132.66 584.89,132.7 585.2,132.4 585.5,132.67 585.81,132.54 586.11,132.73 586.41,132.46 586.72,132.3 587.02,132.67 587.33,132.7 587.63,132.56 587.93,132.81 588.24,132.6 588.54,132.54 588.85,132.73 589.15,132.36 589.45,132.52 589.76,132.63 590.06,132.79 590.37,132.6 590.67,132.69 590.97,132.51 591.28,132.68 591.58,132.92 591.88,132.49 592.19,133.04 592.49,132.5 592.8,132.61 593.1,132.64 593.4,132.79 593.71,132.37 594.01,132.22 594.32,132.7 594.62,132.73 594.92,132.69 595.23,133.05 595.53,132.61 595.84,132.62 596.14,132.73 596.44,132.63 596.75,132.86 597.05,132.33 597.35,132.48 597.66,131.92 597.96,132.69 598.27,132.47 598.57,132.7 598.87,132.92 599.18,132.52 599.48,132.47 599.79,132.42 600.09,132.36 600.39,132.39 600.7,132.62 601,132.5 601.31,132.5 601.61,132.46 601.91,132.65 602.22,132.57 602.52,132.45 602.83,132.59 603.13,132.44 603.43,132.25 603.74,132.72 604.04,132.53 604.34,132.27 604.65,132.63 604.95,132.5 605.26,132.15 605.56,132.72 605.86,132.48 606.17,132.58 606.47,132.45 606.78,132.38 607.08,132.13 607.38,132.57 607.69,132.4 607.99,132.34 608.3,132.45 608.6,132.4 608.9,132.5 609.21,132.31 609.51,132.36 609.81,131.98 610.12,132.29 610.42,132.48 610.73,132.59 611.03,132.28 611.33,132.31 611.64,132.6 611.94,132.23 612.25,132.37 612.55,132.47 612.85,132.07 613.16,132.11 613.46,131.51 613.77,131.32 614.07,130.78 614.37,130.16 614.68,129.5 614.98,128.68 615.28,126.89 615.59,125.48 615.89,124.12 616.2,122.22 616.5,120.91 616.8,119.47 617.11,118.11 617.41,117.39 617.72,116.56 618.02,116.98 618.32,117.01 618.63,118.03 618.93,119.26 619.24,120.73 619.54,122.54 619.84,124.02 620.15,125.48 620.45,127.07 620.76,128.5 621.06,129.26 621.36,130.16 621.67,130.97 621.97,131.28 622.27,131.35 622.58,132.28 622.88,132.39 623.19,131.74 623.49,132.16 623.79,132.29 624.1,132.41 624.4,132.37 624.71,132.21 625.01,132.07 625.31,132.28 625.62,132.45 625.92,132.07 626.23,132.08 626.53,132.26 626.83,131.92 627.14,132.22 627.44,132.19 627.74,132.35 628.05,132.15 628.35,132.12 628.66,132.21 628.96,132.27 629.26,132.16 629.57,132.29 629.87,132.42 630.18,132.5 630.48,132.6 630.78,132.15 631.09,132.22 631.39,131.85 631.7,132.64 632,132.17 632.3,132.3 632.61,132.4 632.91,132.07 633.21,132.4 633.52,132.31 633.82,131.99 634.13,132.38 634.43,132.54 634.73,132 635.04,132.48 635.34,132.38 635.65,132.43 635.95,132.43 636.25,132.59 636.56,132.32 636.86,132.52 637.17,132.29 637.47,132.49 637.77,132.22 638.08,132.34 638.38,132.67 638.69,132.43 638.99,132.3 639.29,132.1 639.6,132.12 639.9,132.25 640.2,132.31 640.51,132.13 640.81,132.03 641.12,131.79 641.42,131.88 641.72,131.39 642.03,131.16 642.33,131.21 642.64,130.85 642.94,130.6 643.24,130.37 643.55,130.28 643.85,130.35 644.16,130.25 644.46,129.97 644.76,130.33 645.07,130.39 645.37,130.33 645.67,130.83 645.98,130.85 646.28,131.06 646.59,131.48 646.89,131.79 647.19,131.62 647.5,131.99 647.8,131.91 648.11,132.6 648.41,132.2 648.71,132.58 649.02,132.32 649.32,132.63 649.63,132.92 649.93,132.09 650.23,132.48 650.54,132.67 650.84,132.57 651.15,132.48 651.45,132.99 651.75,132.63 652.06,132.32 652.36,132.78 652.66,132.32 652.97,132.84 653.27,132.54 653.58,132.67 653.88,132.88 654.18,132.68 654.49,132.41 654.79,132.36 655.1,132.88 655.4,132.81 655.7,132.53 656.01,132.84 656.31,132.78 656.62,132.81 656.92,132.29 657.22,132.65 657.53,132.87 657.83,132.84 658.13,132.87 658.44,132.28 658.74,132.75 659.05,132.82 659.35,133.19 659.65,132.56 659.96,132.68 660.26,132.75 660.57,132.91 660.87,132.67 661.17,132.96 661.48,132.62 661.78,132.81 662.09,132.67 662.39,132.8 662.69,132.65 663,132.49 663.3,132.97 663.61,132.83 663.91,132.68 664.21,132.82 664.52,132.96 664.82,132.61 665.12,132.77 665.43,132.89 665.73,132.89 666.04,132.74 666.34,132.42 666.64,133.02 666.95,132.86 667.25,132.8 667.56,132.75 667.86,132.85 668.16,132.73 668.47,132.62 668.77,132.67 669.08,132.7 669.38,132.7 669.68,132.6 669.99,132.92 670.29,132.57 670.59,132.93 670.9,132.63 671.2,132.87 671.51,133.06 671.81,132.85 672.11,132.68 672.42,132.82 672.72,132.83 673.03,132.5 673.33,132.7 673.63,132.84 673.94,132.72 674.24,132.82 674.55,132.93 674.85,132.94 675.15,132.96 675.46,132.9 675.76,132.74 676.06,132.79 676.37,132.74 676.67,132.73 676.98,132.76 677.28,132.48 677.58,132.72 677.89,132.78 678.19,132.6 678.5,132.77 678.8,132.87" fill="none" stroke="#808080" stroke-width="1.1" stroke-linejoin="round"/>
<g stroke="#840000" stroke-linejoin="miter">
<g fill="#840000" stroke-width="0.75">
<use href="#mk1" x="374.9" y="133.35"/>
<use href="#mk1" x="375.2" y="133.03"/>
<use href="#mk1" x="375.51" y="132.43"/>
<use href="#mk1" x="375.81" y="132.07"/>
<use href="#mk1" x="376.12" y="131.81"/>
<use href="#mk1" x="376.42" y="132.03"/>
<use href="#mk1" x="376.72" y="132.56"/>
<use href="#mk1" x="377.03" y="132.83"/>
<use href="#mk1" x="377.33" y="133.34"/>
<use href="#mk1" x="377.64" y="133.53"/>
<use href="#mk1" x="377.94" y="133.78"/>
<use href="#mk1" x="378.24" y="133.87"/>
<use href="#mk1" x="378.55" y="133.59"/>
<use href="#mk1" x="378.85" y="134.06"/>
<use href="#mk1" x="379.15" y="133.98"/>
<use href="#mk1" x="379.46" y="133.96"/>
<use href="#mk1" x="379.76" y="133.54"/>
<use href="#mk1" x="380.07" y="133.5"/>
<use href="#mk1" x="380.37" y="133.61"/>
<use href="#mk1" x="380.67" y="133.61"/>
<use href="#mk1" x="380.98" y="133.63"/>
<use href="#mk1" x="381.28" y="133.35"/>
<use href="#mk1" x="381.59" y="133.11"/>
<use href="#mk1" x="381.89" y="132.42"/>
<use href="#mk1" x="382.19" y="132.02"/>
<use href="#mk1" x="382.5" y="131.47"/>
<use href="#mk1" x="382.8" y="130.86"/>
<use href="#mk1" x="383.11" y="131.11"/>
<use href="#mk1" x="383.41" y="131.03"/>
<use href="#mk1" x="383.71" y="131.53"/>
<use href="#mk1" x="384.02" y="131.73"/>
<use href="#mk1" x="384.32" y="132.24"/>
<use href="#mk1" x="384.62" y="132.74"/>
<use href="#mk1" x="384.93" y="133.08"/>
<use href="#mk1" x="385.23" y="133.39"/>
<use href="#mk1" x="385.54" y="133.4"/>
<use href="#mk1" x="385.84" y="133.29"/>
<use href="#mk1" x="386.14" y="133.17"/>
<use href="#mk1" x="386.45" y="133.19"/>
<use href="#mk1" x="386.75" y="133.4"/>
<use href="#mk1" x="387.06" y="132.88"/>
<use href="#mk1" x="387.36" y="132.84"/>
</g>
<g fill="#ffea00" stroke-width="0.75">
<use href="#mk1" x="387.66" y="132.56"/>
</g>
<g fill="#840000" stroke-width="0.75">
<use href="#mk1" x="387.97" y="131.78"/>
<use href="#mk1" x="388.27" y="131.51"/>
</g>
<g fill="#ffea00" stroke-width="0.75">
<use href="#mk1" x="388.58" y="131.01"/>
<use href="#mk1" x="388.88" y="129.34"/>
<use href="#mk1" x="389.18" y="127.71"/>
<use href="#mk1" x="389.49" y="124.02"/>
<use href="#mk1" x="389.79" y="117.43"/>
<use href="#mk1" x="390.09" y="108.76"/>
<use href="#mk1" x="390.4" y="99.95"/>
<use href="#mk1" x="390.7" y="95.31"/>
<use href="#mk1" x="391.01" y="98.21"/>
<use href="#mk1" x="391.31" y="106.31"/>
<use href="#mk1" x="391.61" y="116.12"/>
<use href="#mk1" x="391.92" y="124.07"/>
<use href="#mk1" x="392.22" y="128.66"/>
<use href="#mk1" x="392.53" y="130.98"/>
<use href="#mk1" x="392.83" y="131.76"/>
</g>
<g fill="#840000" stroke-width="0.75">
<use href="#mk1" x="393.13" y="132.57"/>
<use href="#mk1" x="393.44" y="132.58"/>
<use href="#mk1" x="393.74" y="132.74"/>
<use href="#mk1" x="394.05" y="132.67"/>
<use href="#mk1" x="394.35" y="132.76"/>
<use href="#mk1" x="394.65" y="132.85"/>
<use href="#mk1" x="394.96" y="133.18"/>
<use href="#mk1" x="395.26" y="132.57"/>
<use href="#mk1" x="395.57" y="132.66"/>
<use href="#mk1" x="395.87" y="132.95"/>
<use href="#mk1" x="396.17" y="133.13"/>
<use href="#mk1" x="396.48" y="132.92"/>
<use href="#mk1" x="396.78" y="132.39"/>
<use href="#mk1" x="397.08" y="132.13"/>
<use href="#mk1" x="397.39" y="132.4"/>
<use href="#mk1" x="397.69" y="131.83"/>
<use href="#mk1" x="398" y="131.22"/>
</g>
<g fill="#ffea00" stroke-width="0.75">
<use href="#mk1" x="398.3" y="130.88"/>
<use href="#mk1" x="398.6" y="130.03"/>
<use href="#mk1" x="398.91" y="128.88"/>
<use href="#mk1" x="399.21" y="127.92"/>
<use href="#mk1" x="399.52" y="127.11"/>
<use href="#mk1" x="399.82" y="126.74"/>
<use href="#mk1" x="400.12" y="126.34"/>
<use href="#mk1" x="400.43" y="126.43"/>
<use href="#mk1" x="400.73" y="126.63"/>
<use href="#mk1" x="401.04" y="125.76"/>
<use href="#mk1" x="401.34" y="123.41"/>
<use href="#mk1" x="401.64" y="115.43"/>
<use href="#mk1" x="401.95" y="100.04"/>
<use href="#mk1" x="402.25" y="77.96"/>
<use href="#mk1" x="402.55" y="56.91"/>
<use href="#mk1" x="402.86" y="46.12"/>
<use href="#mk1" x="403.16" y="50.95"/>
<use href="#mk1" x="403.47" y="70.16"/>
<use href="#mk1" x="403.77" y="93.66"/>
<use href="#mk1" x="404.07" y="112.33"/>
<use href="#mk1" x="404.38" y="124.5"/>
<use href="#mk1" x="404.68" y="129.81"/>
</g>
<g fill="#840000" stroke-width="0.75">
<use href="#mk1" x="404.99" y="131.73"/>
<use href="#mk1" x="405.29" y="132.42"/>
<use href="#mk1" x="405.59" y="132.61"/>
<use href="#mk1" x="405.9" y="132.53"/>
<use href="#mk1" x="406.2" y="132.71"/>
<use href="#mk1" x="406.51" y="132.37"/>
<use href="#mk1" x="406.81" y="132.41"/>
<use href="#mk1" x="407.11" y="132.66"/>
<use href="#mk1" x="407.42" y="132.46"/>
<use href="#mk1" x="407.72" y="132.29"/>
<use href="#mk1" x="408.03" y="132.61"/>
<use href="#mk1" x="408.33" y="132.69"/>
<use href="#mk1" x="408.63" y="132.33"/>
<use href="#mk1" x="408.94" y="132.15"/>
<use href="#mk1" x="409.24" y="132.37"/>
<use href="#mk1" x="409.54" y="132.35"/>
<use href="#mk1" x="409.85" y="132.32"/>
<use href="#mk1" x="410.15" y="132.61"/>
<use href="#mk1" x="410.46" y="132.16"/>
<use href="#mk1" x="410.76" y="132.56"/>
<use href="#mk1" x="411.06" y="132.1"/>
<use href="#mk1" x="411.37" y="132.17"/>
<use href="#mk1" x="411.67" y="132.42"/>
<use href="#mk1" x="411.98" y="132.5"/>
<use href="#mk1" x="412.28" y="132.44"/>
<use href="#mk1" x="412.58" y="132.33"/>
<use href="#mk1" x="412.89" y="132.29"/>
<use href="#mk1" x="413.19" y="132.28"/>
<use href="#mk1" x="413.5" y="132.34"/>
<use href="#mk1" x="413.8" y="132.2"/>
<use href="#mk1" x="414.1" y="132.27"/>
<use href="#mk1" x="414.41" y="132.31"/>
<use href="#mk1" x="414.71" y="132.2"/>
<use href="#mk1" x="415.01" y="132.32"/>
<use href="#mk1" x="415.32" y="132.28"/>
<use href="#mk1" x="415.62" y="132.52"/>
<use href="#mk1" x="415.93" y="132.21"/>
<use href="#mk1" x="416.23" y="132.06"/>
<use href="#mk1" x="416.53" y="132.06"/>
<use href="#mk1" x="416.84" y="132.1"/>
<use href="#mk1" x="417.14" y="132.24"/>
<use href="#mk1" x="417.45" y="131.97"/>
<use href="#mk1" x="417.75" y="132.04"/>
</g>
<g fill="#ffea00" stroke-width="0.75">
<use href="#mk1" x="418.05" y="132.22"/>
</g>
<g fill="#840000" stroke-width="0.75">
<use href="#mk1" x="418.36" y="131.32"/>
<use href="#mk1" x="418.66" y="131.45"/>
<use href="#mk1" x="418.97" y="131.55"/>
<use href="#mk1" x="419.27" y="131.43"/>
<use href="#mk1" x="419.57" y="131.28"/>
<use href="#mk1" x="419.88" y="131.07"/>
<use href="#mk1" x="420.18" y="131.23"/>
<use href="#mk1" x="420.48" y="131.18"/>
<use href="#mk1" x="420.79" y="131.11"/>
<use href="#mk1" x="421.09" y="131.74"/>
<use href="#mk1" x="421.4" y="131.49"/>
<use href="#mk1" x="421.7" y="131.45"/>
<use href="#mk1" x="422" y="131.65"/>
<use href="#mk1" x="422.31" y="131.71"/>
<use href="#mk1" x="422.61" y="131.8"/>
<use href="#mk1" x="422.92" y="131.37"/>
<use href="#mk1" x="423.22" y="131.79"/>
<use href="#mk1" x="423.52" y="132.07"/>
<use href="#mk1" x="423.83" y="131.68"/>
<use href="#mk1" x="424.13" y="131.88"/>
<use href="#mk1" x="424.44" y="132.05"/>
<use href="#mk1" x="424.74" y="132.03"/>
<use href="#mk1" x="425.04" y="132.13"/>
<use href="#mk1" x="425.35" y="131.55"/>
<use href="#mk1" x="425.65" y="131.79"/>
<use href="#mk1" x="425.96" y="131.78"/>
<use href="#mk1" x="426.26" y="131.95"/>
<use href="#mk1" x="426.56" y="132.02"/>
<use href="#mk1" x="426.87" y="131.33"/>
<use href="#mk1" x="427.17" y="132.01"/>
<use href="#mk1" x="427.47" y="131.54"/>
<use href="#mk1" x="427.78" y="131.92"/>
<use href="#mk1" x="428.08" y="131.52"/>
<use href="#mk1" x="428.39" y="131.81"/>
<use href="#mk1" x="428.69" y="131.99"/>
<use href="#mk1" x="428.99" y="131.74"/>
<use href="#mk1" x="429.3" y="131.79"/>
<use href="#mk1" x="429.6" y="131.89"/>
<use href="#mk1" x="429.91" y="131.77"/>
<use href="#mk1" x="430.21" y="131.72"/>
<use href="#mk1" x="430.51" y="132.01"/>
<use href="#mk1" x="430.82" y="131.91"/>
<use href="#mk1" x="431.12" y="131.66"/>
<use href="#mk1" x="431.43" y="132.2"/>
<use href="#mk1" x="431.73" y="131.5"/>
</g>
<g fill="#e8a413" stroke-width="0.5">
<use href="#mk1" x="432.03" y="131.86"/>
</g>
<g fill="#840000" stroke-width="0.75">
<use href="#mk1" x="432.34" y="131.64"/>
<use href="#mk1" x="432.64" y="131.71"/>
<use href="#mk1" x="432.94" y="131.81"/>
<use href="#mk1" x="433.25" y="131.71"/>
<use href="#mk1" x="433.55" y="131.78"/>
<use href="#mk1" x="433.86" y="131.39"/>
<use href="#mk1" x="434.16" y="131.38"/>
<use href="#mk1" x="434.46" y="131.76"/>
<use href="#mk1" x="434.77" y="131.47"/>
</g>
<g fill="#e8a413" stroke-width="0.5">
<use href="#mk1" x="435.07" y="131.46"/>
</g>
<g fill="#840000" stroke-width="0.75">
<use href="#mk1" x="435.38" y="131.37"/>
<use href="#mk1" x="435.68" y="131.86"/>
<use href="#mk1" x="435.98" y="131.76"/>
<use href="#mk1" x="436.29" y="131.89"/>
<use href="#mk1" x="436.59" y="131.45"/>
<use href="#mk1" x="436.9" y="131.61"/>
<use href="#mk1" x="437.2" y="131.4"/>
<use href="#mk1" x="437.5" y="131.74"/>
<use href="#mk1" x="437.81" y="131.89"/>
<use href="#mk1" x="438.11" y="131.44"/>
<use href="#mk1" x="438.42" y="131.88"/>
<use href="#mk1" x="438.72" y="131.77"/>
<use href="#mk1" x="439.02" y="131.56"/>
<use href="#mk1" x="439.33" y="131.23"/>
<use href="#mk1" x="439.63" y="131.83"/>
<use href="#mk1" x="439.93" y="131.56"/>
<use href="#mk1" x="440.24" y="131.47"/>
<use href="#mk1" x="440.54" y="131.64"/>
<use href="#mk1" x="440.85" y="131.64"/>
<use href="#mk1" x="441.15" y="131.84"/>
<use href="#mk1" x="441.45" y="131.38"/>
<use href="#mk1" x="441.76" y="131.77"/>
<use href="#mk1" x="442.06" y="131.83"/>
<use href="#mk1" x="442.37" y="131.82"/>
<use href="#mk1" x="442.67" y="131.53"/>
<use href="#mk1" x="442.97" y="131.42"/>
<use href="#mk1" x="443.28" y="131.74"/>
<use href="#mk1" x="443.58" y="131.57"/>
<use href="#mk1" x="443.89" y="131.57"/>
<use href="#mk1" x="444.19" y="131.81"/>
<use href="#mk1" x="444.49" y="131.5"/>
<use href="#mk1" x="444.8" y="131.14"/>
<use href="#mk1" x="445.1" y="131.48"/>
<use href="#mk1" x="445.4" y="131.21"/>
<use href="#mk1" x="445.71" y="131.69"/>
<use href="#mk1" x="446.01" y="131.6"/>
<use href="#mk1" x="446.32" y="131.44"/>
<use href="#mk1" x="446.62" y="131.54"/>
<use href="#mk1" x="446.92" y="131.7"/>
<use href="#mk1" x="447.23" y="131.56"/>
<use href="#mk1" x="447.53" y="131.79"/>
<use href="#mk1" x="447.84" y="131.54"/>
<use href="#mk1" x="448.14" y="131.74"/>
<use href="#mk1" x="448.44" y="131.82"/>
<use href="#mk1" x="448.75" y="131.84"/>
<use href="#mk1" x="449.05" y="131.43"/>
<use href="#mk1" x="449.36" y="131.71"/>
<use href="#mk1" x="449.66" y="131.21"/>
<use href="#mk1" x="449.96" y="131.36"/>
<use href="#mk1" x="450.27" y="131.2"/>
<use href="#mk1" x="450.57" y="131.74"/>
<use href="#mk1" x="450.88" y="131.31"/>
<use href="#mk1" x="451.18" y="131.49"/>
<use href="#mk1" x="451.48" y="131.4"/>
<use href="#mk1" x="451.79" y="131.32"/>
<use href="#mk1" x="452.09" y="131.05"/>
<use href="#mk1" x="452.39" y="130.96"/>
<use href="#mk1" x="452.7" y="130.96"/>
<use href="#mk1" x="453" y="130.33"/>
<use href="#mk1" x="453.31" y="130.14"/>
<use href="#mk1" x="453.61" y="130.03"/>
<use href="#mk1" x="453.91" y="129.74"/>
<use href="#mk1" x="454.22" y="129.63"/>
<use href="#mk1" x="454.52" y="129.96"/>
<use href="#mk1" x="454.83" y="130.54"/>
<use href="#mk1" x="455.13" y="130.36"/>
<use href="#mk1" x="455.43" y="130.84"/>
<use href="#mk1" x="455.74" y="131.36"/>
<use href="#mk1" x="456.04" y="131.5"/>
<use href="#mk1" x="456.35" y="131.47"/>
<use href="#mk1" x="456.65" y="131.69"/>
<use href="#mk1" x="456.95" y="131.61"/>
<use href="#mk1" x="457.26" y="131.39"/>
<use href="#mk1" x="457.56" y="131.33"/>
<use href="#mk1" x="457.86" y="131.51"/>
<use href="#mk1" x="458.17" y="131.79"/>
<use href="#mk1" x="458.47" y="131.53"/>
<use href="#mk1" x="458.78" y="131.47"/>
<use href="#mk1" x="459.08" y="131.5"/>
<use href="#mk1" x="459.38" y="131.36"/>
<use href="#mk1" x="459.69" y="131.62"/>
<use href="#mk1" x="459.99" y="131.43"/>
<use href="#mk1" x="460.3" y="131.7"/>
<use href="#mk1" x="460.6" y="131.19"/>
<use href="#mk1" x="460.9" y="131.62"/>
<use href="#mk1" x="461.21" y="131.35"/>
<use href="#mk1" x="461.51" y="130.95"/>
<use href="#mk1" x="461.82" y="131.16"/>
</g>
<g fill="#e8a413" stroke-width="0.5">
<use href="#mk1" x="462.12" y="130.56"/>
</g>
<g fill="#840000" stroke-width="0.75">
<use href="#mk1" x="462.42" y="129.63"/>
<use href="#mk1" x="462.73" y="129.12"/>
</g>
<g fill="#e8a413" stroke-width="0.5">
<use href="#mk1" x="463.03" y="128.45"/>
<use href="#mk1" x="463.33" y="127.39"/>
<use href="#mk1" x="463.64" y="126.74"/>
<use href="#mk1" x="463.94" y="126.06"/>
<use href="#mk1" x="464.25" y="125.68"/>
</g>
<g fill="#840000" stroke-width="0.75">
<use href="#mk1" x="464.55" y="125.62"/>
<use href="#mk1" x="464.85" y="126.18"/>
<use href="#mk1" x="465.16" y="126.74"/>
</g>
<g fill="#e8a413" stroke-width="0.5">
<use href="#mk1" x="465.46" y="127.58"/>
</g>
<g fill="#840000" stroke-width="0.75">
<use href="#mk1" x="465.77" y="128.07"/>
<use href="#mk1" x="466.07" y="129.49"/>
<use href="#mk1" x="466.37" y="130.32"/>
<use href="#mk1" x="466.68" y="130.62"/>
<use href="#mk1" x="466.98" y="131.01"/>
<use href="#mk1" x="467.29" y="131.72"/>
<use href="#mk1" x="467.59" y="131.21"/>
<use href="#mk1" x="467.89" y="131.68"/>
<use href="#mk1" x="468.2" y="132.04"/>
<use href="#mk1" x="468.5" y="131.37"/>
<use href="#mk1" x="468.81" y="131.55"/>
<use href="#mk1" x="469.11" y="131.6"/>
</g>
<g fill="#e8a413" stroke-width="0.5">
<use href="#mk1" x="469.41" y="131.04"/>
</g>
<g fill="#840000" stroke-width="0.75">
<use href="#mk1" x="469.72" y="130.93"/>
<use href="#mk1" x="470.02" y="130.76"/>
<use href="#mk1" x="470.32" y="130.23"/>
<use href="#mk1" x="470.63" y="130.24"/>
<use href="#mk1" x="470.93" y="130.27"/>
<use href="#mk1" x="471.24" y="130.42"/>
<use href="#mk1" x="471.54" y="130.41"/>
<use href="#mk1" x="471.84" y="130.59"/>
<use href="#mk1" x="472.15" y="130.68"/>
<use href="#mk1" x="472.45" y="131.04"/>
<use href="#mk1" x="472.76" y="131.48"/>
<use href="#mk1" x="473.06" y="131.52"/>
<use href="#mk1" x="473.36" y="131.48"/>
<use href="#mk1" x="473.67" y="131.58"/>
<use href="#mk1" x="473.97" y="132.27"/>
<use href="#mk1" x="474.28" y="132.03"/>
<use href="#mk1" x="474.58" y="131.96"/>
<use href="#mk1" x="474.88" y="131.4"/>
<use href="#mk1" x="475.19" y="131.98"/>
<use href="#mk1" x="475.49" y="131.96"/>
<use href="#mk1" x="475.79" y="132.18"/>
<use href="#mk1" x="476.1" y="131.96"/>
<use href="#mk1" x="476.4" y="131.88"/>
<use href="#mk1" x="476.71" y="131.99"/>
<use href="#mk1" x="477.01" y="131.55"/>
<use href="#mk1" x="477.31" y="132.09"/>
<use href="#mk1" x="477.62" y="131.96"/>
<use href="#mk1" x="477.92" y="131.78"/>
<use href="#mk1" x="478.23" y="132.15"/>
<use href="#mk1" x="478.53" y="132.24"/>
<use href="#mk1" x="478.83" y="131.66"/>
<use href="#mk1" x="479.14" y="131.8"/>
<use href="#mk1" x="479.44" y="131.97"/>
<use href="#mk1" x="479.75" y="131.96"/>
<use href="#mk1" x="480.05" y="131.85"/>
<use href="#mk1" x="480.35" y="131.75"/>
<use href="#mk1" x="480.66" y="132.31"/>
<use href="#mk1" x="480.96" y="132.12"/>
<use href="#mk1" x="481.26" y="131.72"/>
<use href="#mk1" x="481.57" y="131.7"/>
<use href="#mk1" x="481.87" y="132.26"/>
<use href="#mk1" x="482.18" y="132.13"/>
<use href="#mk1" x="482.48" y="132.29"/>
<use href="#mk1" x="482.78" y="132.11"/>
<use href="#mk1" x="483.09" y="131.82"/>
<use href="#mk1" x="483.39" y="132.03"/>
<use href="#mk1" x="483.7" y="131.6"/>
<use href="#mk1" x="484" y="131.86"/>
<use href="#mk1" x="484.3" y="131.99"/>
<use href="#mk1" x="484.61" y="132.1"/>
<use href="#mk1" x="484.91" y="131.88"/>
<use href="#mk1" x="485.22" y="131.99"/>
<use href="#mk1" x="485.52" y="132.1"/>
<use href="#mk1" x="485.82" y="132.09"/>
</g>
<g fill="#e8a413" stroke-width="0.5">
<use href="#mk1" x="486.13" y="132.14"/>
</g>
<g fill="#840000" stroke-width="0.75">
<use href="#mk1" x="486.43" y="132.07"/>
<use href="#mk1" x="486.74" y="131.98"/>
<use href="#mk1" x="487.04" y="132.19"/>
<use href="#mk1" x="487.34" y="132.06"/>
<use href="#mk1" x="487.65" y="131.9"/>
<use href="#mk1" x="487.95" y="131.94"/>
<use href="#mk1" x="488.25" y="132.06"/>
<use href="#mk1" x="488.56" y="132.04"/>
<use href="#mk1" x="488.86" y="132.1"/>
<use href="#mk1" x="489.17" y="132.07"/>
<use href="#mk1" x="489.47" y="132.11"/>
<use href="#mk1" x="489.77" y="132.05"/>
<use href="#mk1" x="490.08" y="131.86"/>
<use href="#mk1" x="490.38" y="132.16"/>
<use href="#mk1" x="490.69" y="132.28"/>
<use href="#mk1" x="490.99" y="132.17"/>
<use href="#mk1" x="491.29" y="132.06"/>
<use href="#mk1" x="491.6" y="132.18"/>
<use href="#mk1" x="491.9" y="131.92"/>
<use href="#mk1" x="492.21" y="131.76"/>
<use href="#mk1" x="492.51" y="132.11"/>
<use href="#mk1" x="492.81" y="131.94"/>
<use href="#mk1" x="493.12" y="132.24"/>
<use href="#mk1" x="493.42" y="131.91"/>
<use href="#mk1" x="493.72" y="131.64"/>
<use href="#mk1" x="494.03" y="131.93"/>
<use href="#mk1" x="494.33" y="132.4"/>
<use href="#mk1" x="494.64" y="132.05"/>
<use href="#mk1" x="494.94" y="131.87"/>
<use href="#mk1" x="495.24" y="131.98"/>
<use href="#mk1" x="495.55" y="132.21"/>
<use href="#mk1" x="495.85" y="132.21"/>
<use href="#mk1" x="496.16" y="132.15"/>
<use href="#mk1" x="496.46" y="132.39"/>
<use href="#mk1" x="496.76" y="132.25"/>
<use href="#mk1" x="497.07" y="132.12"/>
<use href="#mk1" x="497.37" y="132.23"/>
<use href="#mk1" x="497.68" y="132.42"/>
<use href="#mk1" x="497.98" y="132.3"/>
<use href="#mk1" x="498.28" y="132.31"/>
<use href="#mk1" x="498.59" y="131.93"/>
<use href="#mk1" x="498.89" y="132.1"/>
<use href="#mk1" x="499.2" y="132.25"/>
<use href="#mk1" x="499.5" y="132.07"/>
<use href="#mk1" x="499.8" y="132.31"/>
<use href="#mk1" x="500.11" y="132.23"/>
<use href="#mk1" x="500.41" y="132.28"/>
<use href="#mk1" x="500.71" y="132.08"/>
<use href="#mk1" x="501.02" y="132.58"/>
<use href="#mk1" x="501.32" y="132.34"/>
<use href="#mk1" x="501.63" y="132.08"/>
<use href="#mk1" x="501.93" y="132.13"/>
<use href="#mk1" x="502.23" y="132.58"/>
<use href="#mk1" x="502.54" y="132.05"/>
<use href="#mk1" x="502.84" y="132.27"/>
<use href="#mk1" x="503.15" y="132.29"/>
<use href="#mk1" x="503.45" y="132.11"/>
<use href="#mk1" x="503.75" y="131.9"/>
<use href="#mk1" x="504.06" y="132.14"/>
<use href="#mk1" x="504.36" y="132.17"/>
<use href="#mk1" x="504.67" y="132.31"/>
<use href="#mk1" x="504.97" y="132.24"/>
<use href="#mk1" x="505.27" y="132.1"/>
<use href="#mk1" x="505.58" y="132.25"/>
<use href="#mk1" x="505.88" y="132.19"/>
<use href="#mk1" x="506.18" y="132.13"/>
<use href="#mk1" x="506.49" y="132.1"/>
<use href="#mk1" x="506.79" y="132.05"/>
<use href="#mk1" x="507.1" y="132.21"/>
<use href="#mk1" x="507.4" y="131.9"/>
<use href="#mk1" x="507.7" y="131.97"/>
<use href="#mk1" x="508.01" y="132.08"/>
<use href="#mk1" x="508.31" y="131.82"/>
<use href="#mk1" x="508.62" y="132"/>
<use href="#mk1" x="508.92" y="131.71"/>
<use href="#mk1" x="509.22" y="131.95"/>
<use href="#mk1" x="509.53" y="132.17"/>
<use href="#mk1" x="509.83" y="132.17"/>
<use href="#mk1" x="510.14" y="132.05"/>
<use href="#mk1" x="510.44" y="132.02"/>
<use href="#mk1" x="510.74" y="131.8"/>
<use href="#mk1" x="511.05" y="132.39"/>
<use href="#mk1" x="511.35" y="132.15"/>
<use href="#mk1" x="511.65" y="132.25"/>
</g>
<g fill="#e8a413" stroke-width="0.5">
<use href="#mk1" x="511.96" y="131.89"/>
</g>
<g fill="#840000" stroke-width="0.75">
<use href="#mk1" x="512.26" y="132.01"/>
<use href="#mk1" x="512.57" y="131.72"/>
<use href="#mk1" x="512.87" y="132.18"/>
<use href="#mk1" x="513.17" y="132.21"/>
<use href="#mk1" x="513.48" y="131.69"/>
<use href="#mk1" x="513.78" y="132.02"/>
<use href="#mk1" x="514.09" y="132.14"/>
<use href="#mk1" x="514.39" y="131.71"/>
<use href="#mk1" x="514.69" y="131.7"/>
<use href="#mk1" x="515" y="131.83"/>
<use href="#mk1" x="515.3" y="131.91"/>
<use href="#mk1" x="515.61" y="131.77"/>
<use href="#mk1" x="515.91" y="132.02"/>
<use href="#mk1" x="516.21" y="132.06"/>
<use href="#mk1" x="516.52" y="132.13"/>
<use href="#mk1" x="516.82" y="132.14"/>
<use href="#mk1" x="517.13" y="132.28"/>
<use href="#mk1" x="517.43" y="132.21"/>
<use href="#mk1" x="517.73" y="131.77"/>
<use href="#mk1" x="518.04" y="131.91"/>
<use href="#mk1" x="518.34" y="131.81"/>
<use href="#mk1" x="518.64" y="131.8"/>
<use href="#mk1" x="518.95" y="131.98"/>
<use href="#mk1" x="519.25" y="131.99"/>
<use href="#mk1" x="519.56" y="132.08"/>
<use href="#mk1" x="519.86" y="131.7"/>
<use href="#mk1" x="520.16" y="131.76"/>
<use href="#mk1" x="520.47" y="131.98"/>
<use href="#mk1" x="520.77" y="131.94"/>
<use href="#mk1" x="521.08" y="131.92"/>
<use href="#mk1" x="521.38" y="131.97"/>
<use href="#mk1" x="521.68" y="131.84"/>
<use href="#mk1" x="521.99" y="132.1"/>
<use href="#mk1" x="522.29" y="132.04"/>
<use href="#mk1" x="522.6" y="131.95"/>
<use href="#mk1" x="522.9" y="131.85"/>
<use href="#mk1" x="523.2" y="131.94"/>
<use href="#mk1" x="523.51" y="131.48"/>
<use href="#mk1" x="523.81" y="131.79"/>
<use href="#mk1" x="524.11" y="131.97"/>
<use href="#mk1" x="524.42" y="131.69"/>
<use href="#mk1" x="524.72" y="132"/>
<use href="#mk1" x="525.03" y="131.99"/>
<use href="#mk1" x="525.33" y="131.71"/>
<use href="#mk1" x="525.63" y="131.91"/>
<use href="#mk1" x="525.94" y="131.9"/>
<use href="#mk1" x="526.24" y="132.04"/>
<use href="#mk1" x="526.55" y="132.07"/>
<use href="#mk1" x="526.85" y="131.95"/>
</g>
<g fill="#e8a413" stroke-width="0.5">
<use href="#mk1" x="527.15" y="131.8"/>
</g>
<g fill="#840000" stroke-width="0.75">
<use href="#mk1" x="527.46" y="131.93"/>
<use href="#mk1" x="527.76" y="131.94"/>
<use href="#mk1" x="528.07" y="132.09"/>
<use href="#mk1" x="528.37" y="132.01"/>
<use href="#mk1" x="528.67" y="131.83"/>
<use href="#mk1" x="528.98" y="131.71"/>
<use href="#mk1" x="529.28" y="131.89"/>
<use href="#mk1" x="529.59" y="131.82"/>
<use href="#mk1" x="529.89" y="131.76"/>
<use href="#mk1" x="530.19" y="131.94"/>
<use href="#mk1" x="530.5" y="131.87"/>
<use href="#mk1" x="530.8" y="131.98"/>
<use href="#mk1" x="531.1" y="132.05"/>
<use href="#mk1" x="531.41" y="131.89"/>
<use href="#mk1" x="531.71" y="132.38"/>
<use href="#mk1" x="532.02" y="131.91"/>
<use href="#mk1" x="532.32" y="132.16"/>
<use href="#mk1" x="532.62" y="131.99"/>
<use href="#mk1" x="532.93" y="132.17"/>
<use href="#mk1" x="533.23" y="131.54"/>
<use href="#mk1" x="533.54" y="131.84"/>
<use href="#mk1" x="533.84" y="132.02"/>
<use href="#mk1" x="534.14" y="132.08"/>
<use href="#mk1" x="534.45" y="132.4"/>
<use href="#mk1" x="534.75" y="132.04"/>
<use href="#mk1" x="535.06" y="132.21"/>
<use href="#mk1" x="535.36" y="132.12"/>
<use href="#mk1" x="535.66" y="132.16"/>
<use href="#mk1" x="535.97" y="132.08"/>
<use href="#mk1" x="536.27" y="131.96"/>
<use href="#mk1" x="536.57" y="132.08"/>
<use href="#mk1" x="536.88" y="131.8"/>
<use href="#mk1" x="537.18" y="132.21"/>
<use href="#mk1" x="537.49" y="131.82"/>
<use href="#mk1" x="537.79" y="132.05"/>
<use href="#mk1" x="538.09" y="132.39"/>
<use href="#mk1" x="538.4" y="131.97"/>
<use href="#mk1" x="538.7" y="132.02"/>
<use href="#mk1" x="539.01" y="132.23"/>
<use href="#mk1" x="539.31" y="132.03"/>
<use href="#mk1" x="539.61" y="131.88"/>
<use href="#mk1" x="539.92" y="132.08"/>
<use href="#mk1" x="540.22" y="132.14"/>
<use href="#mk1" x="540.53" y="132.16"/>
<use href="#mk1" x="540.83" y="131.9"/>
<use href="#mk1" x="541.13" y="132.36"/>
<use href="#mk1" x="541.44" y="132.35"/>
<use href="#mk1" x="541.74" y="132.06"/>
<use href="#mk1" x="542.04" y="132.11"/>
<use href="#mk1" x="542.35" y="131.98"/>
<use href="#mk1" x="542.65" y="132.32"/>
<use href="#mk1" x="542.96" y="131.94"/>
<use href="#mk1" x="543.26" y="132.2"/>
<use href="#mk1" x="543.56" y="131.99"/>
<use href="#mk1" x="543.87" y="131.96"/>
<use href="#mk1" x="544.17" y="132.22"/>
<use href="#mk1" x="544.48" y="132.34"/>
<use href="#mk1" x="544.78" y="132.1"/>
<use href="#mk1" x="545.08" y="131.98"/>
<use href="#mk1" x="545.39" y="132.26"/>
<use href="#mk1" x="545.69" y="132.11"/>
<use href="#mk1" x="546" y="132.18"/>
<use href="#mk1" x="546.3" y="132.4"/>
<use href="#mk1" x="546.6" y="132.34"/>
<use href="#mk1" x="546.91" y="132.04"/>
<use href="#mk1" x="547.21" y="132.55"/>
<use href="#mk1" x="547.52" y="132.15"/>
<use href="#mk1" x="547.82" y="132.3"/>
<use href="#mk1" x="548.12" y="132.04"/>
<use href="#mk1" x="548.43" y="132.16"/>
<use href="#mk1" x="548.73" y="131.86"/>
<use href="#mk1" x="549.03" y="132.5"/>
<use href="#mk1" x="549.34" y="132.43"/>
<use href="#mk1" x="549.64" y="131.97"/>
<use href="#mk1" x="549.95" y="131.93"/>
<use href="#mk1" x="550.25" y="131.91"/>
<use href="#mk1" x="550.55" y="132.42"/>
<use href="#mk1" x="550.86" y="132.13"/>
<use href="#mk1" x="551.16" y="132.21"/>
<use href="#mk1" x="551.47" y="132.17"/>
<use href="#mk1" x="551.77" y="132.21"/>
<use href="#mk1" x="552.07" y="132.04"/>
<use href="#mk1" x="552.38" y="132.25"/>
<use href="#mk1" x="552.68" y="131.99"/>
<use href="#mk1" x="552.99" y="132.25"/>
<use href="#mk1" x="553.29" y="132.32"/>
<use href="#mk1" x="553.59" y="132.36"/>
<use href="#mk1" x="553.9" y="132.24"/>
<use href="#mk1" x="554.2" y="132.12"/>
<use href="#mk1" x="554.5" y="132.32"/>
<use href="#mk1" x="554.81" y="132.21"/>
<use href="#mk1" x="555.11" y="132.59"/>
<use href="#mk1" x="555.42" y="132.45"/>
<use href="#mk1" x="555.72" y="132.3"/>
<use href="#mk1" x="556.02" y="132.24"/>
<use href="#mk1" x="556.33" y="132.2"/>
<use href="#mk1" x="556.63" y="132.17"/>
<use href="#mk1" x="556.94" y="132.28"/>
<use href="#mk1" x="557.24" y="132.4"/>
<use href="#mk1" x="557.54" y="132.45"/>
<use href="#mk1" x="557.85" y="132.47"/>
<use href="#mk1" x="558.15" y="132.75"/>
<use href="#mk1" x="558.46" y="132.25"/>
<use href="#mk1" x="558.76" y="132.39"/>
</g>
<g fill="#e8a413" stroke-width="0.5">
<use href="#mk1" x="559.06" y="132.89"/>
</g>
<g fill="#840000" stroke-width="0.75">
<use href="#mk1" x="559.37" y="132.06"/>
<use href="#mk1" x="559.67" y="132.31"/>
<use href="#mk1" x="559.98" y="132.44"/>
<use href="#mk1" x="560.28" y="132.44"/>
<use href="#mk1" x="560.58" y="132.5"/>
<use href="#mk1" x="560.89" y="132.39"/>
<use href="#mk1" x="561.19" y="132.5"/>
<use href="#mk1" x="561.49" y="132.45"/>
<use href="#mk1" x="561.8" y="132.59"/>
<use href="#mk1" x="562.1" y="132.11"/>
<use href="#mk1" x="562.41" y="132.3"/>
<use href="#mk1" x="562.71" y="132.46"/>
<use href="#mk1" x="563.01" y="132.28"/>
<use href="#mk1" x="563.32" y="132.29"/>
<use href="#mk1" x="563.62" y="132.6"/>
<use href="#mk1" x="563.93" y="132.37"/>
<use href="#mk1" x="564.23" y="132.61"/>
<use href="#mk1" x="564.53" y="132.63"/>
<use href="#mk1" x="564.84" y="132.55"/>
<use href="#mk1" x="565.14" y="132.59"/>
<use href="#mk1" x="565.45" y="132.48"/>
<use href="#mk1" x="565.75" y="132.24"/>
<use href="#mk1" x="566.05" y="132.48"/>
<use href="#mk1" x="566.36" y="132.55"/>
<use href="#mk1" x="566.66" y="132.34"/>
<use href="#mk1" x="566.96" y="132.39"/>
<use href="#mk1" x="567.27" y="132.49"/>
<use href="#mk1" x="567.57" y="132.15"/>
<use href="#mk1" x="567.88" y="132.37"/>
<use href="#mk1" x="568.18" y="132.53"/>
<use href="#mk1" x="568.48" y="132.05"/>
<use href="#mk1" x="568.79" y="132.14"/>
<use href="#mk1" x="569.09" y="132.06"/>
<use href="#mk1" x="569.4" y="132.36"/>
<use href="#mk1" x="569.7" y="132.15"/>
<use href="#mk1" x="570" y="132.29"/>
<use href="#mk1" x="570.31" y="132.05"/>
<use href="#mk1" x="570.61" y="132.23"/>
<use href="#mk1" x="570.92" y="132.3"/>
<use href="#mk1" x="571.22" y="132.04"/>
<use href="#mk1" x="571.52" y="132.68"/>
<use href="#mk1" x="571.83" y="132.64"/>
<use href="#mk1" x="572.13" y="132.2"/>
<use href="#mk1" x="572.43" y="132.69"/>
<use href="#mk1" x="572.74" y="132.56"/>
<use href="#mk1" x="573.04" y="132.68"/>
<use href="#mk1" x="573.35" y="132.68"/>
<use href="#mk1" x="573.65" y="132.35"/>
<use href="#mk1" x="573.95" y="132.59"/>
<use href="#mk1" x="574.26" y="132.9"/>
<use href="#mk1" x="574.56" y="132.54"/>
<use href="#mk1" x="574.87" y="132.46"/>
<use href="#mk1" x="575.17" y="132.4"/>
<use href="#mk1" x="575.47" y="132.43"/>
<use href="#mk1" x="575.78" y="132.71"/>
<use href="#mk1" x="576.08" y="132.96"/>
<use href="#mk1" x="576.39" y="132.73"/>
<use href="#mk1" x="576.69" y="132.7"/>
<use href="#mk1" x="576.99" y="133.06"/>
<use href="#mk1" x="577.3" y="132.57"/>
<use href="#mk1" x="577.6" y="132.54"/>
<use href="#mk1" x="577.91" y="132.76"/>
<use href="#mk1" x="578.21" y="132.77"/>
<use href="#mk1" x="578.51" y="132.49"/>
<use href="#mk1" x="578.82" y="132.46"/>
<use href="#mk1" x="579.12" y="132.72"/>
<use href="#mk1" x="579.42" y="132.72"/>
<use href="#mk1" x="579.73" y="132.44"/>
<use href="#mk1" x="580.03" y="132.64"/>
<use href="#mk1" x="580.34" y="132.58"/>
<use href="#mk1" x="580.64" y="132.76"/>
<use href="#mk1" x="580.94" y="132.65"/>
<use href="#mk1" x="581.25" y="132.66"/>
<use href="#mk1" x="581.55" y="132.61"/>
<use href="#mk1" x="581.86" y="132.86"/>
<use href="#mk1" x="582.16" y="132.93"/>
<use href="#mk1" x="582.46" y="132.61"/>
<use href="#mk1" x="582.77" y="132.83"/>
<use href="#mk1" x="583.07" y="132.54"/>
<use href="#mk1" x="583.38" y="132.69"/>
<use href="#mk1" x="583.68" y="132.81"/>
<use href="#mk1" x="583.98" y="132.94"/>
<use href="#mk1" x="584.29" y="132.6"/>
<use href="#mk1" x="584.59" y="132.66"/>
<use href="#mk1" x="584.89" y="132.7"/>
<use href="#mk1" x="585.2" y="132.4"/>
<use href="#mk1" x="585.5" y="132.67"/>
<use href="#mk1" x="585.81" y="132.54"/>
<use href="#mk1" x="586.11" y="132.73"/>
<use href="#mk1" x="586.41" y="132.46"/>
<use href="#mk1" x="586.72" y="132.3"/>
<use href="#mk1" x="587.02" y="132.67"/>
<use href="#mk1" x="587.33" y="132.7"/>
<use href="#mk1" x="587.63" y="132.56"/>
<use href="#mk1" x="587.93" y="132.81"/>
<use href="#mk1" x="588.24" y="132.6"/>
<use href="#mk1" x="588.54" y="132.54"/>
<use href="#mk1" x="588.85" y="132.73"/>
<use href="#mk1" x="589.15" y="132.36"/>
<use href="#mk1" x="589.45" y="132.52"/>
<use href="#mk1" x="589.76" y="132.63"/>
<use href="#mk1" x="590.06" y="132.79"/>
<use href="#mk1" x="590.37" y="132.6"/>
<use href="#mk1" x="590.67" y="132.69"/>
<use href="#mk1" x="590.97" y="132.51"/>
<use href="#mk1" x="591.28" y="132.68"/>
<use href="#mk1" x="591.58" y="132.92"/>
<use href="#mk1" x="591.88" y="132.49"/>
<use href="#mk1" x="592.19" y="133.04"/>
<use href="#mk1" x="592.49" y="132.5"/>
<use href="#mk1" x="592.8" y="132.61"/>
<use href="#mk1" x="593.1" y="132.64"/>
<use href="#mk1" x="593.4" y="132.79"/>
<use href="#mk1" x="593.71" y="132.37"/>
<use href="#mk1" x="594.01" y="132.22"/>
<use href="#mk1" x="594.32" y="132.7"/>
<use href="#mk1" x="594.62" y="132.73"/>
<use href="#mk1" x="594.92" y="132.69"/>
<use href="#mk1" x="595.23" y="133.05"/>
<use href="#mk1" x="595.53" y="132.61"/>
<use href="#mk1" x="595.84" y="132.62"/>
<use href="#mk1" x="596.14" y="132.73"/>
<use href="#mk1" x="596.44" y="132.63"/>
<use href="#mk1" x="596.75" y="132.86"/>
<use href="#mk1" x="597.05" y="132.33"/>
<use href="#mk1" x="597.35" y="132.48"/>
</g>
<g fill="#e8a413" stroke-width="0.5">
<use href="#mk1" x="597.66" y="131.92"/>
</g>
<g fill="#840000" stroke-width="0.75">
<use href="#mk1" x="597.96" y="132.69"/>
<use href="#mk1" x="598.27" y="132.47"/>
<use href="#mk1" x="598.57" y="132.7"/>
<use href="#mk1" x="598.87" y="132.92"/>
<use href="#mk1" x="599.18" y="132.52"/>
<use href="#mk1" x="599.48" y="132.47"/>
<use href="#mk1" x="599.79" y="132.42"/>
<use href="#mk1" x="600.09" y="132.36"/>
<use href="#mk1" x="600.39" y="132.39"/>
<use href="#mk1" x="600.7" y="132.62"/>
<use href="#mk1" x="601" y="132.5"/>
<use href="#mk1" x="601.31" y="132.5"/>
<use href="#mk1" x="601.61" y="132.46"/>
<use href="#mk1" x="601.91" y="132.65"/>
<use href="#mk1" x="602.22" y="132.57"/>
<use href="#mk1" x="602.52" y="132.45"/>
<use href="#mk1" x="602.83" y="132.59"/>
<use href="#mk1" x="603.13" y="132.44"/>
<use href="#mk1" x="603.43" y="132.25"/>
<use href="#mk1" x="603.74" y="132.72"/>
<use href="#mk1" x="604.04" y="132.53"/>
<use href="#mk1" x="604.34" y="132.27"/>
<use href="#mk1" x="604.65" y="132.63"/>
<use href="#mk1" x="604.95" y="132.5"/>
<use href="#mk1" x="605.26" y="132.15"/>
<use href="#mk1" x="605.56" y="132.72"/>
<use href="#mk1" x="605.86" y="132.48"/>
<use href="#mk1" x="606.17" y="132.58"/>
<use href="#mk1" x="606.47" y="132.45"/>
<use href="#mk1" x="606.78" y="132.38"/>
<use href="#mk1" x="607.08" y="132.13"/>
<use href="#mk1" x="607.38" y="132.57"/>
<use href="#mk1" x="607.69" y="132.4"/>
<use href="#mk1" x="607.99" y="132.34"/>
<use href="#mk1" x="608.3" y="132.45"/>
<use href="#mk1" x="608.6" y="132.4"/>
<use href="#mk1" x="608.9" y="132.5"/>
<use href="#mk1" x="609.21" y="132.31"/>
<use href="#mk1" x="609.51" y="132.36"/>
<use href="#mk1" x="609.81" y="131.98"/>
<use href="#mk1" x="610.12" y="132.29"/>
<use href="#mk1" x="610.42" y="132.48"/>
<use href="#mk1" x="610.73" y="132.59"/>
<use href="#mk1" x="611.03" y="132.28"/>
<use href="#mk1" x="611.33" y="132.31"/>
<use href="#mk1" x="611.64" y="132.6"/>
<use href="#mk1" x="611.94" y="132.23"/>
<use href="#mk1" x="612.25" y="132.37"/>
<use href="#mk1" x="612.55" y="132.47"/>
<use href="#mk1" x="612.85" y="132.07"/>
<use href="#mk1" x="613.16" y="132.11"/>
<use href="#mk1" x="613.46" y="131.51"/>
<use href="#mk1" x="613.77" y="131.32"/>
<use href="#mk1" x="614.07" y="130.78"/>
<use href="#mk1" x="614.37" y="130.16"/>
</g>
<g fill="#e8a413" stroke-width="0.5">
<use href="#mk1" x="614.68" y="129.5"/>
<use href="#mk1" x="614.98" y="128.68"/>
<use href="#mk1" x="615.28" y="126.89"/>
<use href="#mk1" x="615.59" y="125.48"/>
<use href="#mk1" x="615.89" y="124.12"/>
<use href="#mk1" x="616.2" y="122.22"/>
<use href="#mk1" x="616.5" y="120.91"/>
<use href="#mk1" x="616.8" y="119.47"/>
<use href="#mk1" x="617.11" y="118.11"/>
<use href="#mk1" x="617.41" y="117.39"/>
<use href="#mk1" x="617.72" y="116.56"/>
<use href="#mk1" x="618.02" y="116.98"/>
<use href="#mk1" x="618.32" y="117.01"/>
<use href="#mk1" x="618.63" y="118.03"/>
<use href="#mk1" x="618.93" y="119.26"/>
<use href="#mk1" x="619.24" y="120.73"/>
<use href="#mk1" x="619.54" y="122.54"/>
</g>
<g fill="#840000" stroke-width="0.75">
<use href="#mk1" x="619.84" y="124.02"/>
<use href="#mk1" x="620.15" y="125.48"/>
<use href="#mk1" x="620.45" y="127.07"/>
</g>
<g fill="#e8a413" stroke-width="0.5">
<use href="#mk1" x="620.76" y="128.5"/>
</g>
<g fill="#840000" stroke-width="0.75">
<use href="#mk1" x="621.06" y="129.26"/>
<use href="#mk1" x="621.36" y="130.16"/>
<use href="#mk1" x="621.67" y="130.97"/>
<use href="#mk1" x="621.97" y="131.28"/>
<use href="#mk1" x="622.27" y="131.35"/>
<use href="#mk1" x="622.58" y="132.28"/>
<use href="#mk1" x="622.88" y="132.39"/>
<use href="#mk1" x="623.19" y="131.74"/>
<use href="#mk1" x="623.49" y="132.16"/>
<use href="#mk1" x="623.79" y="132.29"/>
<use href="#mk1" x="624.1" y="132.41"/>
<use href="#mk1" x="624.4" y="132.37"/>
<use href="#mk1" x="624.71" y="132.21"/>
<use href="#mk1" x="625.01" y="132.07"/>
<use href="#mk1" x="625.31" y="132.28"/>
<use href="#mk1" x="625.62" y="132.45"/>
<use href="#mk1" x="625.92" y="132.07"/>
<use href="#mk1" x="626.23" y="132.08"/>
<use href="#mk1" x="626.53" y="132.26"/>
<use href="#mk1" x="626.83" y="131.92"/>
<use href="#mk1" x="627.14" y="132.22"/>
<use href="#mk1" x="627.44" y="132.19"/>
<use href="#mk1" x="627.74" y="132.35"/>
<use href="#mk1" x="628.05" y="132.15"/>
<use href="#mk1" x="628.35" y="132.12"/>
<use href="#mk1" x="628.66" y="132.21"/>
<use href="#mk1" x="628.96" y="132.27"/>
<use href="#mk1" x="629.26" y="132.16"/>
<use href="#mk1" x="629.57" y="132.29"/>
<use href="#mk1" x="629.87" y="132.42"/>
</g>
<g fill="#e8a413" stroke-width="0.5">
<use href="#mk1" x="630.18" y="132.5"/>
</g>
<g fill="#840000" stroke-width="0.75">
<use href="#mk1" x="630.48" y="132.6"/>
<use href="#mk1" x="630.78" y="132.15"/>
<use href="#mk1" x="631.09" y="132.22"/>
</g>
<g fill="#e8a413" stroke-width="0.5">
<use href="#mk1" x="631.39" y="131.85"/>
</g>
<g fill="#840000" stroke-width="0.75">
<use href="#mk1" x="631.7" y="132.64"/>
<use href="#mk1" x="632" y="132.17"/>
<use href="#mk1" x="632.3" y="132.3"/>
<use href="#mk1" x="632.61" y="132.4"/>
<use href="#mk1" x="632.91" y="132.07"/>
<use href="#mk1" x="633.21" y="132.4"/>
<use href="#mk1" x="633.52" y="132.31"/>
<use href="#mk1" x="633.82" y="131.99"/>
<use href="#mk1" x="634.13" y="132.38"/>
<use href="#mk1" x="634.43" y="132.54"/>
<use href="#mk1" x="634.73" y="132"/>
<use href="#mk1" x="635.04" y="132.48"/>
<use href="#mk1" x="635.34" y="132.38"/>
<use href="#mk1" x="635.65" y="132.43"/>
<use href="#mk1" x="635.95" y="132.43"/>
<use href="#mk1" x="636.25" y="132.59"/>
</g>
<g fill="#e8a413" stroke-width="0.5">
<use href="#mk1" x="636.56" y="132.32"/>
</g>
<g fill="#840000" stroke-width="0.75">
<use href="#mk1" x="636.86" y="132.52"/>
<use href="#mk1" x="637.17" y="132.29"/>
<use href="#mk1" x="637.47" y="132.49"/>
<use href="#mk1" x="637.77" y="132.22"/>
<use href="#mk1" x="638.08" y="132.34"/>
<use href="#mk1" x="638.38" y="132.67"/>
<use href="#mk1" x="638.69" y="132.43"/>
<use href="#mk1" x="638.99" y="132.3"/>
<use href="#mk1" x="639.29" y="132.1"/>
<use href="#mk1" x="639.6" y="132.12"/>
<use href="#mk1" x="639.9" y="132.25"/>
<use href="#mk1" x="640.2" y="132.31"/>
<use href="#mk1" x="640.51" y="132.13"/>
<use href="#mk1" x="640.81" y="132.03"/>
<use href="#mk1" x="641.12" y="131.79"/>
<use href="#mk1" x="641.42" y="131.88"/>
<use href="#mk1" x="641.72" y="131.39"/>
<use href="#mk1" x="642.03" y="131.16"/>
<use href="#mk1" x="642.33" y="131.21"/>
<use href="#mk1" x="642.64" y="130.85"/>
<use href="#mk1" x="642.94" y="130.6"/>
<use href="#mk1" x="643.24" y="130.37"/>
<use href="#mk1" x="643.55" y="130.28"/>
<use href="#mk1" x="643.85" y="130.35"/>
<use href="#mk1" x="644.16" y="130.25"/>
<use href="#mk1" x="644.46" y="129.97"/>
<use href="#mk1" x="644.76" y="130.33"/>
<use href="#mk1" x="645.07" y="130.39"/>
<use href="#mk1" x="645.37" y="130.33"/>
<use href="#mk1" x="645.67" y="130.83"/>
<use href="#mk1" x="645.98" y="130.85"/>
<use href="#mk1" x="646.28" y="131.06"/>
<use href="#mk1" x="646.59" y="131.48"/>
<use href="#mk1" x="646.89" y="131.79"/>
<use href="#mk1" x="647.19" y="131.62"/>
<use href="#mk1" x="647.5" y="131.99"/>
<use href="#mk1" x="647.8" y="131.91"/>
<use href="#mk1" x="648.11" y="132.6"/>
<use href="#mk1" x="648.41" y="132.2"/>
<use href="#mk1" x="648.71" y="132.58"/>
<use href="#mk1" x="649.02" y="132.32"/>
<use href="#mk1" x="649.32" y="132.63"/>
</g>
<g fill="#e8a413" stroke-width="0.5">
<use href="#mk1" x="649.63" y="132.92"/>
</g>
<g fill="#840000" stroke-width="0.75">
<use href="#mk1" x="649.93" y="132.09"/>
<use href="#mk1" x="650.23" y="132.48"/>
<use href="#mk1" x="650.54" y="132.67"/>
<use href="#mk1" x="650.84" y="132.57"/>
</g>
<g fill="#e8a413" stroke-width="0.5">
<use href="#mk1" x="651.15" y="132.48"/>
</g>
<g fill="#840000" stroke-width="0.75">
<use href="#mk1" x="651.45" y="132.99"/>
<use href="#mk1" x="651.75" y="132.63"/>
<use href="#mk1" x="652.06" y="132.32"/>
<use href="#mk1" x="652.36" y="132.78"/>
<use href="#mk1" x="652.66" y="132.32"/>
<use href="#mk1" x="652.97" y="132.84"/>
<use href="#mk1" x="653.27" y="132.54"/>
<use href="#mk1" x="653.58" y="132.67"/>
<use href="#mk1" x="653.88" y="132.88"/>
<use href="#mk1" x="654.18" y="132.68"/>
<use href="#mk1" x="654.49" y="132.41"/>
<use href="#mk1" x="654.79" y="132.36"/>
<use href="#mk1" x="655.1" y="132.88"/>
<use href="#mk1" x="655.4" y="132.81"/>
<use href="#mk1" x="655.7" y="132.53"/>
<use href="#mk1" x="656.01" y="132.84"/>
<use href="#mk1" x="656.31" y="132.78"/>
<use href="#mk1" x="656.62" y="132.81"/>
<use href="#mk1" x="656.92" y="132.29"/>
<use href="#mk1" x="657.22" y="132.65"/>
<use href="#mk1" x="657.53" y="132.87"/>
<use href="#mk1" x="657.83" y="132.84"/>
<use href="#mk1" x="658.13" y="132.87"/>
<use href="#mk1" x="658.44" y="132.28"/>
<use href="#mk1" x="658.74" y="132.75"/>
<use href="#mk1" x="659.05" y="132.82"/>
<use href="#mk1" x="659.35" y="133.19"/>
<use href="#mk1" x="659.65" y="132.56"/>
<use href="#mk1" x="659.96" y="132.68"/>
<use href="#mk1" x="660.26" y="132.75"/>
<use href="#mk1" x="660.57" y="132.91"/>
<use href="#mk1" x="660.87" y="132.67"/>
<use href="#mk1" x="661.17" y="132.96"/>
<use href="#mk1" x="661.48" y="132.62"/>
<use href="#mk1" x="661.78" y="132.81"/>
<use href="#mk1" x="662.09" y="132.67"/>
<use href="#mk1" x="662.39" y="132.8"/>
<use href="#mk1" x="662.69" y="132.65"/>
<use href="#mk1" x="663" y="132.49"/>
<use href="#mk1" x="663.3" y="132.97"/>
</g>
<g fill="#e8a413" stroke-width="0.5">
<use href="#mk1" x="663.61" y="132.83"/>
</g>
<g fill="#840000" stroke-width="0.75">
<use href="#mk1" x="663.91" y="132.68"/>
<use href="#mk1" x="664.21" y="132.82"/>
<use href="#mk1" x="664.52" y="132.96"/>
<use href="#mk1" x="664.82" y="132.61"/>
<use href="#mk1" x="665.12" y="132.77"/>
<use href="#mk1" x="665.43" y="132.89"/>
<use href="#mk1" x="665.73" y="132.89"/>
<use href="#mk1" x="666.04" y="132.74"/>
<use href="#mk1" x="666.34" y="132.42"/>
<use href="#mk1" x="666.64" y="133.02"/>
<use href="#mk1" x="666.95" y="132.86"/>
<use href="#mk1" x="667.25" y="132.8"/>
<use href="#mk1" x="667.56" y="132.75"/>
<use href="#mk1" x="667.86" y="132.85"/>
<use href="#mk1" x="668.16" y="132.73"/>
<use href="#mk1" x="668.47" y="132.62"/>
<use href="#mk1" x="668.77" y="132.67"/>
<use href="#mk1" x="669.08" y="132.7"/>
<use href="#mk1" x="669.38" y="132.7"/>
<use href="#mk1" x="669.68" y="132.6"/>
<use href="#mk1" x="669.99" y="132.92"/>
<use href="#mk1" x="670.29" y="132.57"/>
<use href="#mk1" x="670.59" y="132.93"/>
<use href="#mk1" x="670.9" y="132.63"/>
<use href="#mk1" x="671.2" y="132.87"/>
<use href="#mk1" x="671.51" y="133.06"/>
<use href="#mk1" x="671.81" y="132.85"/>
<use href="#mk1" x="672.11" y="132.68"/>
<use href="#mk1" x="672.42" y="132.82"/>
<use href="#mk1" x="672.72" y="132.83"/>
</g>
<g fill="#e8a413" stroke-width="0.5">
<use href="#mk1" x="673.03" y="132.5"/>
</g>
<g fill="#840000" stroke-width="0.75">
<use href="#mk1" x="673.33" y="132.7"/>
<use href="#mk1" x="673.63" y="132.84"/>
<use href="#mk1" x="673.94" y="132.72"/>
<use href="#mk1" x="674.24" y="132.82"/>
<use href="#mk1" x="674.55" y="132.93"/>
<use href="#mk1" x="674.85" y="132.94"/>
<use href="#mk1" x="675.15" y="132.96"/>
<use href="#mk1" x="675.46" y="132.9"/>
<use href="#mk1" x="675.76" y="132.74"/>
<use href="#mk1" x="676.06" y="132.79"/>
<use href="#mk1" x="676.37" y="132.74"/>
<use href="#mk1" x="676.67" y="132.73"/>
<use href="#mk1" x="676.98" y="132.76"/>
<use href="#mk1" x="677.28" y="132.48"/>
<use href="#mk1" x="677.58" y="132.72"/>
<use href="#mk1" x="677.89" y="132.78"/>
<use href="#mk1" x="678.19" y="132.6"/>
<use href="#mk1" x="678.5" y="132.77"/>
</g>
<g fill="#ffee00" stroke-width="0.5">
<use href="#mk1" x="678.8" y="132.87"/>
</g></g></g>
<rect x="374.9" y="2" width="303.9" height="244.3" fill="none" stroke="#4a4a4a" stroke-width="1.4"/>
<path d="M505.1,48 H533.3 M505.1,63.1 H533.3" stroke="#808080" stroke-width="1.1"/>
<use href="#mk1" x="519.7" y="48" fill="#ffff00" stroke="#7a7a00" stroke-width="0.8" transform="translate(519.7,48) scale(0.88) translate(-519.7,-48)"/>
<use href="#mk1" x="519.7" y="63.1" fill="#ffee00" stroke="#e0602a" stroke-width="0.8" transform="translate(519.7,63.1) scale(0.88) translate(-519.7,-63.1)"/>
<g font-family="'Liberation Serif','DejaVu Serif',serif" font-size="12.1" fill="#111" stroke="#111" letter-spacing="0.25">
<text x="536.9" y="52.3">CuO</text>
<text x="536.9" y="67.4" letter-spacing="-0.1">Ag@CuO</text>
</g>
<text x="602.4" y="25.7" font-family="'Liberation Serif','DejaVu Serif',serif" font-size="24" fill="#222" stroke="#222">b</text>
<g font-family="'Liberation Serif','DejaVu Serif',serif" font-size="13" fill="#111" stroke="#111">
<text x="396.6" y="43.3">Cu</text>
<text x="384.6" y="93">O</text>
<text x="609.9" y="112.8">Cu</text>
<text x="637.6" y="122.9">Cu</text>
</g>
<g class="pk" font-family="'Liberation Serif','DejaVu Serif',serif" font-size="12.6" font-weight="bold" fill="#ff2a93" stroke="#ff2a93">
<text x="426.4" y="109.6">Ag</text>
<text x="459.2" y="102.8">Ag</text>
</g>
<g stroke="#2a2a2a" stroke-width="0.8" fill="none">
<path d="M440.4,114.2 L452.9,126.7" marker-end="url(#ah)"/>
<path d="M463.9,105.3 L463.9,121.4" marker-end="url(#ah)"/>
</g>
</g>
</svg>
</body>
</html>
